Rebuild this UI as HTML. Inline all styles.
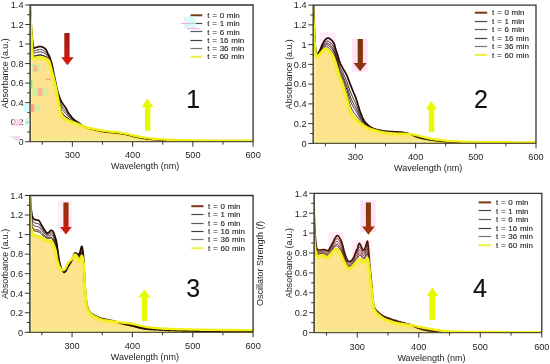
<!DOCTYPE html>
<html><head><meta charset="utf-8"><style>
html,body{margin:0;padding:0;background:#fff;}
svg{display:block;filter:blur(0.3px);}
text{font-family:"Liberation Sans", sans-serif;}
</style></head><body>
<svg width="550" height="364" viewBox="0 0 550 364">
<defs><clipPath id="c0"><rect x="30.20" y="5.00" width="222.90" height="136.70"/></clipPath><clipPath id="f0"><path d="M29.6,-14.5 L29.9,-3.8 L30.2,6.0 L30.5,13.3 L30.8,19.6 L31.1,25.6 L31.4,31.4 L31.7,37.9 L32.0,44.1 L32.3,49.7 L32.6,53.8 L32.9,56.0 L33.2,57.1 L33.5,57.6 L33.8,57.9 L34.1,58.0 L34.4,58.1 L34.7,58.1 L35.0,58.1 L35.3,58.1 L35.6,58.0 L35.9,58.0 L36.2,57.9 L36.5,57.8 L36.8,57.7 L37.1,57.7 L37.4,57.6 L37.7,57.5 L38.0,57.4 L38.3,57.4 L38.6,57.3 L38.9,57.2 L39.2,57.2 L39.5,57.2 L39.8,57.1 L40.1,57.1 L40.4,57.2 L40.7,57.2 L41.0,57.2 L41.3,57.3 L41.6,57.4 L41.9,57.4 L42.2,57.5 L42.5,57.6 L42.9,57.7 L43.2,57.8 L43.5,57.9 L43.8,58.0 L44.1,58.1 L44.4,58.2 L44.7,58.3 L45.0,58.4 L45.3,58.5 L45.6,58.6 L45.9,58.7 L46.2,58.8 L46.5,58.9 L46.8,59.0 L47.1,59.2 L47.4,59.3 L47.7,59.5 L48.0,59.7 L48.3,59.9 L48.6,60.1 L48.9,60.6 L49.2,61.2 L49.5,61.9 L49.8,62.8 L50.1,63.8 L50.4,64.8 L50.7,66.0 L51.0,67.2 L51.3,68.4 L51.6,69.6 L51.9,70.8 L52.2,72.0 L52.5,73.2 L52.8,74.3 L53.1,75.4 L53.4,76.6 L53.7,77.7 L54.0,78.9 L54.3,80.2 L54.6,81.4 L54.9,82.7 L55.2,84.0 L55.5,85.3 L55.8,86.7 L56.1,88.1 L56.4,89.5 L56.7,91.1 L57.0,92.6 L57.3,94.2 L57.6,95.9 L57.9,97.5 L58.2,99.1 L58.5,100.7 L58.8,102.4 L59.1,104.0 L59.4,105.6 L59.7,107.2 L60.0,108.7 L60.3,110.2 L60.6,111.4 L60.9,112.5 L61.2,113.4 L61.5,114.3 L61.8,115.0 L62.1,115.5 L62.4,116.0 L62.7,116.5 L63.0,116.8 L63.3,117.2 L63.6,117.5 L63.9,117.8 L64.2,118.0 L64.5,118.3 L64.8,118.5 L65.1,118.8 L65.4,119.0 L65.7,119.1 L66.0,119.3 L66.3,119.5 L66.6,119.6 L66.9,119.8 L67.2,119.9 L67.6,120.1 L67.9,120.2 L68.2,120.3 L68.5,120.4 L68.8,120.6 L69.1,120.7 L69.4,120.8 L69.7,120.9 L70.0,121.0 L70.3,121.1 L70.6,121.3 L70.9,121.4 L71.2,121.5 L71.5,121.6 L71.8,121.7 L72.1,121.8 L72.4,121.9 L72.7,122.1 L73.0,122.2 L73.3,122.3 L73.6,122.4 L73.9,122.5 L74.2,122.6 L74.5,122.7 L74.8,122.8 L75.1,122.9 L75.4,123.0 L75.7,123.1 L76.0,123.2 L76.3,123.4 L76.6,123.5 L76.9,123.6 L77.2,123.7 L77.5,123.8 L77.8,123.9 L78.1,124.1 L78.4,124.2 L78.7,124.3 L79.0,124.4 L79.3,124.6 L79.6,124.7 L79.9,124.9 L80.2,125.0 L80.5,125.1 L80.8,125.3 L81.1,125.4 L81.4,125.5 L81.7,125.7 L82.0,125.8 L82.3,125.9 L82.6,126.0 L82.9,126.2 L83.2,126.3 L83.5,126.4 L83.8,126.5 L84.1,126.6 L84.4,126.7 L84.7,126.8 L85.0,126.9 L85.3,127.0 L85.6,127.1 L85.9,127.2 L86.2,127.3 L86.5,127.3 L86.8,127.4 L87.1,127.5 L87.4,127.6 L87.7,127.7 L88.0,127.8 L88.3,127.8 L88.6,127.9 L88.9,128.0 L89.2,128.0 L89.5,128.1 L89.8,128.2 L90.1,128.2 L90.4,128.3 L90.7,128.4 L91.0,128.4 L91.3,128.5 L91.6,128.6 L91.9,128.6 L92.3,128.7 L92.6,128.7 L92.9,128.8 L93.2,128.9 L93.5,128.9 L93.8,129.0 L94.1,129.0 L94.4,129.1 L94.7,129.1 L95.0,129.2 L95.3,129.3 L95.6,129.3 L95.9,129.4 L96.2,129.4 L96.5,129.5 L97.7,129.7 L98.9,130.0 L100.1,130.2 L101.3,130.4 L102.5,130.6 L103.7,130.8 L104.9,130.9 L106.1,131.1 L107.3,131.2 L108.5,131.3 L109.7,131.5 L110.9,131.6 L112.1,131.7 L113.3,131.8 L114.5,131.9 L115.7,132.0 L117.0,132.1 L118.2,132.3 L119.4,132.5 L120.6,132.7 L121.8,132.9 L123.0,133.1 L124.2,133.3 L125.4,133.6 L126.6,133.9 L127.8,134.2 L129.0,134.4 L130.2,134.7 L131.4,135.0 L132.6,135.3 L133.8,135.5 L135.0,135.8 L136.2,136.0 L137.4,136.3 L138.6,136.5 L139.8,136.7 L141.0,137.0 L142.3,137.2 L143.5,137.4 L144.7,137.6 L145.9,137.8 L147.1,137.9 L148.3,138.1 L149.5,138.2 L150.7,138.4 L151.9,138.5 L153.1,138.7 L154.3,138.8 L155.5,138.9 L156.7,139.0 L157.9,139.1 L159.1,139.2 L160.3,139.3 L161.5,139.4 L162.7,139.4 L163.9,139.5 L165.1,139.6 L166.3,139.6 L167.6,139.7 L168.8,139.7 L170.0,139.8 L171.2,139.8 L172.4,139.9 L173.6,139.9 L174.8,140.0 L176.0,140.0 L177.2,140.1 L178.4,140.1 L179.6,140.1 L180.8,140.2 L182.0,140.2 L183.2,140.2 L184.4,140.2 L185.6,140.3 L186.8,140.3 L188.0,140.3 L189.2,140.3 L190.4,140.4 L191.7,140.4 L192.9,140.4 L194.1,140.4 L195.3,140.4 L196.5,140.4 L197.7,140.5 L198.9,140.5 L200.1,140.5 L201.3,140.5 L202.5,140.5 L203.7,140.5 L204.9,140.5 L206.1,140.5 L207.3,140.5 L208.5,140.6 L209.7,140.6 L210.9,140.6 L212.1,140.6 L213.3,140.6 L214.5,140.6 L215.7,140.6 L217.0,140.6 L218.2,140.6 L219.4,140.6 L220.6,140.6 L221.8,140.6 L223.0,140.6 L224.2,140.6 L225.4,140.6 L226.6,140.6 L227.8,140.6 L229.0,140.6 L230.2,140.6 L231.4,140.7 L232.6,140.7 L233.8,140.7 L235.0,140.7 L236.2,140.7 L237.4,140.7 L238.6,140.7 L239.8,140.7 L241.1,140.7 L242.3,140.7 L243.5,140.7 L244.7,140.7 L245.9,140.7 L247.1,140.7 L248.3,140.7 L249.5,140.7 L250.7,140.7 L251.9,140.7 L253.1,140.7 L253.10,141.70 L30.20,141.70 Z"/></clipPath><linearGradient id="ga0" x1="0" y1="0" x2="0" y2="1"><stop offset="0" stop-color="#a01c10"/><stop offset="1" stop-color="#d81810"/></linearGradient><clipPath id="c1"><rect x="313.30" y="5.10" width="222.70" height="138.30"/></clipPath><clipPath id="f1"><path d="M312.7,-4.8 L313.0,5.6 L313.3,15.0 L313.6,21.9 L313.9,27.8 L314.2,33.5 L314.5,38.7 L314.8,43.6 L315.1,47.6 L315.4,50.4 L315.7,52.7 L316.0,54.0 L316.3,54.7 L316.6,55.3 L316.9,55.7 L317.2,55.9 L317.5,56.0 L317.8,55.9 L318.1,55.7 L318.4,55.4 L318.7,55.1 L319.0,54.8 L319.3,54.5 L319.6,54.2 L319.9,53.9 L320.2,53.5 L320.5,53.2 L320.8,52.8 L321.1,52.4 L321.4,52.0 L321.7,51.7 L322.0,51.3 L322.3,51.0 L322.6,50.7 L322.9,50.4 L323.2,50.1 L323.5,49.8 L323.8,49.5 L324.1,49.2 L324.4,49.0 L324.7,48.8 L325.0,48.8 L325.3,48.7 L325.6,48.6 L325.9,48.6 L326.2,48.6 L326.5,48.6 L326.8,48.6 L327.1,48.7 L327.4,48.9 L327.7,49.1 L328.0,49.4 L328.3,49.7 L328.6,50.0 L328.9,50.4 L329.3,50.8 L329.6,51.1 L329.9,51.5 L330.2,51.8 L330.5,52.1 L330.8,52.5 L331.1,52.9 L331.4,53.3 L331.7,53.7 L332.0,54.2 L332.3,54.7 L332.6,55.2 L332.9,55.7 L333.2,56.3 L333.5,56.9 L333.8,57.5 L334.1,58.3 L334.4,59.1 L334.7,60.0 L335.0,60.9 L335.3,61.7 L335.6,62.6 L335.9,63.5 L336.2,64.4 L336.5,65.4 L336.8,66.3 L337.1,67.3 L337.4,68.3 L337.7,69.4 L338.0,70.6 L338.3,71.9 L338.6,73.1 L338.9,74.2 L339.2,75.2 L339.5,76.1 L339.8,76.9 L340.1,77.6 L340.4,78.3 L340.7,79.0 L341.0,79.7 L341.3,80.3 L341.6,81.0 L341.9,81.8 L342.2,82.5 L342.5,83.4 L342.8,84.3 L343.1,85.3 L343.4,86.3 L343.7,87.4 L344.0,88.4 L344.3,89.5 L344.6,90.5 L344.9,91.6 L345.2,92.6 L345.5,93.7 L345.8,94.7 L346.1,95.7 L346.4,96.8 L346.7,97.9 L347.0,98.9 L347.3,100.1 L347.6,101.2 L347.9,102.4 L348.2,103.5 L348.5,104.7 L348.8,105.8 L349.1,106.9 L349.4,107.8 L349.7,108.8 L350.0,109.7 L350.3,110.5 L350.6,111.4 L350.9,112.1 L351.2,112.8 L351.5,113.4 L351.8,114.0 L352.1,114.5 L352.4,115.0 L352.7,115.5 L353.0,115.9 L353.3,116.3 L353.6,116.7 L353.9,117.1 L354.2,117.4 L354.5,117.8 L354.8,118.1 L355.1,118.4 L355.4,118.7 L355.7,119.0 L356.0,119.2 L356.3,119.5 L356.6,119.8 L356.9,120.1 L357.2,120.4 L357.5,120.6 L357.8,120.9 L358.1,121.2 L358.4,121.4 L358.7,121.7 L359.0,122.0 L359.3,122.2 L359.6,122.5 L359.9,122.7 L360.2,123.0 L360.5,123.2 L360.8,123.4 L361.2,123.7 L361.5,123.9 L361.8,124.1 L362.1,124.3 L362.4,124.5 L362.7,124.8 L363.0,125.0 L363.3,125.2 L363.6,125.4 L363.9,125.6 L364.2,125.8 L364.5,125.9 L364.8,126.1 L365.1,126.3 L365.4,126.5 L365.7,126.7 L366.0,126.8 L366.3,127.0 L366.6,127.2 L366.9,127.3 L367.2,127.5 L367.5,127.6 L367.8,127.7 L368.1,127.9 L368.4,128.0 L368.7,128.1 L369.0,128.2 L369.3,128.3 L369.6,128.5 L369.9,128.6 L370.2,128.7 L370.5,128.8 L370.8,128.9 L371.1,129.0 L371.4,129.1 L371.7,129.2 L372.0,129.3 L372.3,129.4 L372.6,129.5 L372.9,129.6 L373.2,129.7 L373.5,129.8 L373.8,129.9 L374.1,130.0 L374.4,130.0 L374.7,130.1 L375.0,130.2 L375.3,130.3 L375.6,130.4 L375.9,130.5 L376.2,130.6 L376.5,130.7 L376.8,130.7 L377.1,130.8 L377.4,130.9 L377.7,131.0 L378.0,131.1 L378.3,131.1 L378.6,131.2 L378.9,131.3 L379.2,131.3 L379.5,131.4 L380.7,131.7 L381.9,131.9 L383.1,132.1 L384.3,132.4 L385.5,132.6 L386.7,132.7 L387.9,132.9 L389.1,133.1 L390.3,133.2 L391.5,133.3 L392.7,133.4 L394.0,133.5 L395.2,133.5 L396.4,133.6 L397.6,133.6 L398.8,133.7 L400.0,133.7 L401.2,133.7 L402.4,133.8 L403.6,133.8 L404.8,133.8 L406.0,133.9 L407.2,133.9 L408.4,134.0 L409.6,134.1 L410.8,134.2 L412.0,134.4 L413.2,134.6 L414.4,134.8 L415.6,135.0 L416.8,135.3 L418.0,135.6 L419.2,135.9 L420.4,136.3 L421.6,136.6 L422.8,136.9 L424.0,137.2 L425.3,137.5 L426.5,137.8 L427.7,138.0 L428.9,138.3 L430.1,138.5 L431.3,138.7 L432.5,139.0 L433.7,139.1 L434.9,139.3 L436.1,139.5 L437.3,139.7 L438.5,139.8 L439.7,140.0 L440.9,140.1 L442.1,140.3 L443.3,140.4 L444.5,140.5 L445.7,140.6 L446.9,140.8 L448.1,140.9 L449.3,141.0 L450.5,141.1 L451.7,141.1 L452.9,141.2 L454.1,141.3 L455.3,141.4 L456.6,141.4 L457.8,141.5 L459.0,141.5 L460.2,141.6 L461.4,141.6 L462.6,141.7 L463.8,141.7 L465.0,141.8 L466.2,141.8 L467.4,141.8 L468.6,141.9 L469.8,141.9 L471.0,141.9 L472.2,142.0 L473.4,142.0 L474.6,142.0 L475.8,142.0 L477.0,142.0 L478.2,142.1 L479.4,142.1 L480.6,142.1 L481.8,142.1 L483.0,142.1 L484.2,142.1 L485.4,142.1 L486.6,142.2 L487.8,142.2 L489.1,142.2 L490.3,142.2 L491.5,142.2 L492.7,142.2 L493.9,142.2 L495.1,142.2 L496.3,142.2 L497.5,142.3 L498.7,142.3 L499.9,142.3 L501.1,142.3 L502.3,142.3 L503.5,142.3 L504.7,142.3 L505.9,142.3 L507.1,142.3 L508.3,142.3 L509.5,142.3 L510.7,142.3 L511.9,142.3 L513.1,142.4 L514.3,142.4 L515.5,142.4 L516.7,142.4 L517.9,142.4 L519.1,142.4 L520.4,142.4 L521.6,142.4 L522.8,142.4 L524.0,142.4 L525.2,142.4 L526.4,142.4 L527.6,142.4 L528.8,142.5 L530.0,142.5 L531.2,142.5 L532.4,142.5 L533.6,142.5 L534.8,142.5 L536.0,142.5 L536.00,143.40 L313.30,143.40 Z"/></clipPath><linearGradient id="ga1" x1="0" y1="0" x2="0" y2="1"><stop offset="0" stop-color="#7a3208"/><stop offset="1" stop-color="#8a3a0c"/></linearGradient><clipPath id="c2"><rect x="29.80" y="195.50" width="223.30" height="136.80"/></clipPath><clipPath id="f2"><path d="M29.2,146.6 L29.5,167.3 L29.8,185.7 L30.1,199.4 L30.4,210.2 L30.7,218.9 L31.0,224.8 L31.3,227.9 L31.6,230.1 L31.9,231.5 L32.2,232.3 L32.5,232.9 L32.8,233.5 L33.1,233.9 L33.4,234.3 L33.7,234.6 L34.0,234.8 L34.3,234.9 L34.6,235.1 L34.9,235.2 L35.2,235.3 L35.5,235.3 L35.8,235.4 L36.1,235.5 L36.4,235.6 L36.7,235.6 L37.0,235.7 L37.3,235.7 L37.6,235.8 L37.9,235.8 L38.2,235.9 L38.6,235.9 L38.9,236.0 L39.2,236.1 L39.5,236.2 L39.8,236.4 L40.1,236.6 L40.4,236.7 L40.7,236.9 L41.0,237.1 L41.3,237.3 L41.6,237.5 L41.9,237.7 L42.2,237.9 L42.5,238.1 L42.8,238.3 L43.1,238.5 L43.4,238.7 L43.7,238.8 L44.0,239.0 L44.3,239.2 L44.6,239.3 L44.9,239.4 L45.2,239.5 L45.5,239.6 L45.8,239.7 L46.1,239.8 L46.4,239.9 L46.7,240.0 L47.0,240.1 L47.3,240.2 L47.6,240.2 L47.9,240.3 L48.2,240.4 L48.5,240.4 L48.8,240.5 L49.1,240.5 L49.4,240.6 L49.7,240.6 L50.0,240.7 L50.3,240.8 L50.6,240.9 L50.9,241.0 L51.2,241.2 L51.5,241.5 L51.8,241.7 L52.1,242.1 L52.4,242.4 L52.7,242.8 L53.0,243.4 L53.3,244.0 L53.6,244.6 L53.9,245.3 L54.2,246.1 L54.5,246.8 L54.8,247.7 L55.1,248.6 L55.4,249.7 L55.8,251.1 L56.1,252.9 L56.4,254.8 L56.7,256.6 L57.0,258.2 L57.3,259.6 L57.6,260.8 L57.9,262.0 L58.2,263.1 L58.5,264.0 L58.8,264.9 L59.1,265.7 L59.4,266.4 L59.7,267.1 L60.0,267.7 L60.3,268.2 L60.6,268.6 L60.9,268.9 L61.2,269.2 L61.5,269.4 L61.8,269.7 L62.1,269.9 L62.4,270.0 L62.7,270.1 L63.0,270.2 L63.3,270.1 L63.6,270.0 L63.9,269.9 L64.2,269.7 L64.5,269.5 L64.8,269.3 L65.1,269.0 L65.4,268.5 L65.7,268.0 L66.0,267.4 L66.3,266.7 L66.6,266.1 L66.9,265.4 L67.2,264.8 L67.5,264.2 L67.8,263.7 L68.1,263.3 L68.4,262.8 L68.7,262.4 L69.0,262.0 L69.3,261.6 L69.6,261.2 L69.9,260.9 L70.2,260.6 L70.5,260.3 L70.8,260.1 L71.1,259.8 L71.4,259.5 L71.7,259.2 L72.0,258.9 L72.3,258.4 L72.6,257.8 L73.0,257.2 L73.3,256.6 L73.6,256.0 L73.9,255.4 L74.2,255.0 L74.5,254.6 L74.8,254.4 L75.1,254.4 L75.4,254.6 L75.7,254.8 L76.0,255.0 L76.3,255.4 L76.6,255.7 L76.9,256.1 L77.2,256.6 L77.5,257.3 L77.8,258.2 L78.1,259.1 L78.4,259.8 L78.7,260.4 L79.0,260.6 L79.3,260.4 L79.6,259.9 L79.9,259.3 L80.2,258.6 L80.5,258.0 L80.8,257.4 L81.1,256.8 L81.4,256.2 L81.7,255.8 L82.0,255.9 L82.3,256.5 L82.6,257.4 L82.9,258.5 L83.2,260.0 L83.5,262.2 L83.8,264.9 L84.1,269.6 L84.4,276.0 L84.7,281.7 L85.0,286.9 L85.3,291.3 L85.6,294.7 L85.9,297.6 L86.2,300.1 L86.5,302.3 L86.8,304.3 L87.1,305.9 L87.4,307.3 L87.7,308.4 L88.0,309.3 L88.3,310.1 L88.6,310.7 L88.9,311.3 L89.2,311.8 L89.5,312.3 L89.8,312.7 L90.2,313.0 L90.5,313.4 L90.8,313.7 L91.1,314.0 L91.4,314.3 L91.7,314.5 L92.0,314.8 L92.3,315.0 L92.6,315.2 L92.9,315.5 L93.2,315.6 L93.5,315.8 L93.8,316.0 L94.1,316.2 L94.4,316.3 L94.7,316.5 L95.0,316.6 L95.3,316.7 L95.6,316.9 L95.9,317.0 L96.2,317.2 L97.4,317.7 L98.6,318.3 L99.8,318.9 L101.0,319.3 L102.2,319.7 L103.4,320.0 L104.6,320.2 L105.8,320.4 L107.0,320.5 L108.3,320.7 L109.5,320.9 L110.7,321.0 L111.9,321.2 L113.1,321.4 L114.3,321.5 L115.5,321.7 L116.7,321.8 L117.9,322.0 L119.1,322.2 L120.3,322.3 L121.5,322.5 L122.7,322.6 L123.9,322.7 L125.2,322.8 L126.4,323.0 L127.6,323.1 L128.8,323.2 L130.0,323.3 L131.2,323.5 L132.4,323.7 L133.6,324.0 L134.8,324.3 L136.0,324.6 L137.2,324.9 L138.4,325.2 L139.6,325.5 L140.8,325.8 L142.1,326.1 L143.3,326.4 L144.5,326.6 L145.7,326.8 L146.9,327.0 L148.1,327.2 L149.3,327.3 L150.5,327.5 L151.7,327.6 L152.9,327.7 L154.1,327.9 L155.3,328.0 L156.5,328.1 L157.7,328.2 L159.0,328.3 L160.2,328.4 L161.4,328.5 L162.6,328.6 L163.8,328.7 L165.0,328.7 L166.2,328.8 L167.4,328.8 L168.6,328.9 L169.8,328.9 L171.0,329.0 L172.2,329.0 L173.4,329.1 L174.6,329.1 L175.9,329.1 L177.1,329.2 L178.3,329.2 L179.5,329.2 L180.7,329.3 L181.9,329.3 L183.1,329.3 L184.3,329.4 L185.5,329.4 L186.7,329.4 L187.9,329.4 L189.1,329.5 L190.3,329.5 L191.5,329.5 L192.7,329.5 L194.0,329.6 L195.2,329.6 L196.4,329.6 L197.6,329.6 L198.8,329.6 L200.0,329.7 L201.2,329.7 L202.4,329.7 L203.6,329.7 L204.8,329.8 L206.0,329.8 L207.2,329.8 L208.4,329.8 L209.6,329.8 L210.9,329.9 L212.1,329.9 L213.3,329.9 L214.5,329.9 L215.7,329.9 L216.9,329.9 L218.1,329.9 L219.3,329.9 L220.5,329.9 L221.7,330.0 L222.9,330.0 L224.1,330.0 L225.3,330.0 L226.5,330.0 L227.8,330.0 L229.0,330.0 L230.2,330.0 L231.4,330.0 L232.6,330.0 L233.8,330.0 L235.0,330.0 L236.2,330.0 L237.4,330.1 L238.6,330.1 L239.8,330.1 L241.0,330.1 L242.2,330.1 L243.4,330.1 L244.7,330.1 L245.9,330.1 L247.1,330.1 L248.3,330.1 L249.5,330.1 L250.7,330.1 L251.9,330.1 L253.1,330.2 L253.10,332.30 L29.80,332.30 Z"/></clipPath><linearGradient id="ga2" x1="0" y1="0" x2="0" y2="1"><stop offset="0" stop-color="#8a3010"/><stop offset="1" stop-color="#d01c0c"/></linearGradient><clipPath id="c3"><rect x="314.20" y="193.30" width="227.60" height="139.30"/></clipPath><clipPath id="f3"><path d="M313.6,213.2 L313.9,224.0 L314.2,233.1 L314.5,238.9 L314.8,243.1 L315.1,246.3 L315.4,248.9 L315.7,251.0 L316.0,252.8 L316.4,254.3 L316.7,255.2 L317.0,255.6 L317.3,255.8 L317.6,255.9 L317.9,255.9 L318.2,255.9 L318.5,255.8 L318.8,255.8 L319.1,255.8 L319.4,255.7 L319.7,255.7 L320.0,255.6 L320.4,255.6 L320.7,255.5 L321.0,255.4 L321.3,255.3 L321.6,255.3 L321.9,255.2 L322.2,255.2 L322.5,255.2 L322.8,255.2 L323.1,255.3 L323.4,255.4 L323.7,255.6 L324.0,255.7 L324.3,255.9 L324.7,256.0 L325.0,256.1 L325.3,256.3 L325.6,256.5 L325.9,256.8 L326.2,257.0 L326.5,257.1 L326.8,257.2 L327.1,257.3 L327.4,257.2 L327.7,257.1 L328.0,256.8 L328.3,256.5 L328.7,256.2 L329.0,255.8 L329.3,255.5 L329.6,255.2 L329.9,254.9 L330.2,254.6 L330.5,254.2 L330.8,253.9 L331.1,253.5 L331.4,253.2 L331.7,252.8 L332.0,252.4 L332.3,252.1 L332.7,251.7 L333.0,251.4 L333.3,251.0 L333.6,250.6 L333.9,250.2 L334.2,249.9 L334.5,249.7 L334.8,249.6 L335.1,249.5 L335.4,249.4 L335.7,249.3 L336.0,249.2 L336.3,249.1 L336.7,249.1 L337.0,249.2 L337.3,249.4 L337.6,249.6 L337.9,250.0 L338.2,250.4 L338.5,250.8 L338.8,251.2 L339.1,251.6 L339.4,252.0 L339.7,252.4 L340.0,252.8 L340.3,253.3 L340.7,253.7 L341.0,254.2 L341.3,254.8 L341.6,255.3 L341.9,255.9 L342.2,256.6 L342.5,257.3 L342.8,258.1 L343.1,258.8 L343.4,259.6 L343.7,260.4 L344.0,261.2 L344.3,261.9 L344.6,262.6 L345.0,263.1 L345.3,263.7 L345.6,264.3 L345.9,265.0 L346.2,265.6 L346.5,266.2 L346.8,266.7 L347.1,267.2 L347.4,267.7 L347.7,268.0 L348.0,268.2 L348.3,268.3 L348.6,268.3 L349.0,268.3 L349.3,268.2 L349.6,268.2 L349.9,268.1 L350.2,268.0 L350.5,267.9 L350.8,267.8 L351.1,267.6 L351.4,267.5 L351.7,267.2 L352.0,266.9 L352.3,266.5 L352.6,266.1 L353.0,265.7 L353.3,265.2 L353.6,264.8 L353.9,264.5 L354.2,264.1 L354.5,263.9 L354.8,263.6 L355.1,263.4 L355.4,263.1 L355.7,262.9 L356.0,262.7 L356.3,262.4 L356.6,262.2 L357.0,262.0 L357.3,261.7 L357.6,261.4 L357.9,261.1 L358.2,260.8 L358.5,260.4 L358.8,260.1 L359.1,259.7 L359.4,259.4 L359.7,259.2 L360.0,259.0 L360.3,259.0 L360.6,259.0 L361.0,259.2 L361.3,259.5 L361.6,259.8 L361.9,260.2 L362.2,260.5 L362.5,260.8 L362.8,261.1 L363.1,261.5 L363.4,261.8 L363.7,262.1 L364.0,262.2 L364.3,262.2 L364.6,262.0 L364.9,261.5 L365.3,261.0 L365.6,260.4 L365.9,260.0 L366.2,259.5 L366.5,259.0 L366.8,258.6 L367.1,258.2 L367.4,258.0 L367.7,258.2 L368.0,259.1 L368.3,260.5 L368.6,262.1 L368.9,264.4 L369.3,266.9 L369.6,270.0 L369.9,273.6 L370.2,276.9 L370.5,279.5 L370.8,281.8 L371.1,284.0 L371.4,286.3 L371.7,288.8 L372.0,291.8 L372.3,295.1 L372.6,298.4 L372.9,301.3 L373.3,303.6 L373.6,305.7 L373.9,307.2 L374.2,308.3 L374.5,309.2 L374.8,310.0 L375.1,310.6 L375.4,311.1 L375.7,311.6 L376.0,312.0 L376.3,312.4 L376.6,312.7 L376.9,313.1 L377.3,313.4 L377.6,313.7 L377.9,314.0 L378.2,314.3 L378.5,314.6 L378.8,314.8 L379.1,315.1 L379.4,315.3 L379.7,315.6 L380.0,315.8 L380.3,316.1 L380.6,316.3 L380.9,316.5 L381.2,316.7 L381.6,317.0 L381.9,317.2 L383.1,318.0 L384.3,318.8 L385.6,319.4 L386.8,319.9 L388.0,320.3 L389.2,320.7 L390.5,321.2 L391.7,321.6 L392.9,322.0 L394.2,322.4 L395.4,322.7 L396.6,323.0 L397.9,323.3 L399.1,323.5 L400.3,323.7 L401.5,323.8 L402.8,324.0 L404.0,324.1 L405.2,324.3 L406.5,324.4 L407.7,324.6 L408.9,324.7 L410.2,324.9 L411.4,325.1 L412.6,325.3 L413.9,325.6 L415.1,325.9 L416.3,326.2 L417.5,326.5 L418.8,326.7 L420.0,327.0 L421.2,327.3 L422.5,327.5 L423.7,327.7 L424.9,328.0 L426.2,328.2 L427.4,328.4 L428.6,328.7 L429.8,328.9 L431.1,329.1 L432.3,329.3 L433.5,329.5 L434.8,329.7 L436.0,329.9 L437.2,330.1 L438.5,330.3 L439.7,330.5 L440.9,330.6 L442.1,330.8 L443.4,330.9 L444.6,331.0 L445.8,331.2 L447.1,331.3 L448.3,331.3 L449.5,331.4 L450.8,331.5 L452.0,331.6 L453.2,331.6 L454.5,331.7 L455.7,331.7 L456.9,331.7 L458.1,331.8 L459.4,331.8 L460.6,331.8 L461.8,331.8 L463.1,331.9 L464.3,331.9 L465.5,331.9 L466.8,331.9 L468.0,331.9 L469.2,331.9 L470.4,331.9 L471.7,332.0 L472.9,332.0 L474.1,332.0 L475.4,332.0 L476.6,332.0 L477.8,332.0 L479.1,332.0 L480.3,332.0 L481.5,332.0 L482.7,332.0 L484.0,332.0 L485.2,332.0 L486.4,332.0 L487.7,332.0 L488.9,332.0 L490.1,332.0 L491.4,332.0 L492.6,332.0 L493.8,332.0 L495.0,332.0 L496.3,332.0 L497.5,332.0 L498.7,332.0 L500.0,332.0 L501.2,332.1 L502.4,332.1 L503.7,332.1 L504.9,332.1 L506.1,332.1 L507.4,332.1 L508.6,332.1 L509.8,332.1 L511.0,332.1 L512.3,332.1 L513.5,332.1 L514.7,332.1 L516.0,332.1 L517.2,332.1 L518.4,332.1 L519.7,332.1 L520.9,332.1 L522.1,332.1 L523.3,332.1 L524.6,332.1 L525.8,332.1 L527.0,332.1 L528.3,332.1 L529.5,332.1 L530.7,332.1 L532.0,332.1 L533.2,332.1 L534.4,332.1 L535.6,332.1 L536.9,332.1 L538.1,332.1 L539.3,332.1 L540.6,332.1 L541.8,332.1 L541.80,332.60 L314.20,332.60 Z"/></clipPath><linearGradient id="ga3" x1="0" y1="0" x2="0" y2="1"><stop offset="0" stop-color="#7a3a0a"/><stop offset="1" stop-color="#a83010"/></linearGradient></defs>
<rect width="550" height="364" fill="#fff"/>
<g clip-path="url(#c0)">
<path d="M29.6,-14.5 L29.9,-3.8 L30.2,6.0 L30.5,13.3 L30.8,19.6 L31.1,25.6 L31.4,31.4 L31.7,37.9 L32.0,44.1 L32.3,49.7 L32.6,53.8 L32.9,56.0 L33.2,57.1 L33.5,57.6 L33.8,57.9 L34.1,58.0 L34.4,58.1 L34.7,58.1 L35.0,58.1 L35.3,58.1 L35.6,58.0 L35.9,58.0 L36.2,57.9 L36.5,57.8 L36.8,57.7 L37.1,57.7 L37.4,57.6 L37.7,57.5 L38.0,57.4 L38.3,57.4 L38.6,57.3 L38.9,57.2 L39.2,57.2 L39.5,57.2 L39.8,57.1 L40.1,57.1 L40.4,57.2 L40.7,57.2 L41.0,57.2 L41.3,57.3 L41.6,57.4 L41.9,57.4 L42.2,57.5 L42.5,57.6 L42.9,57.7 L43.2,57.8 L43.5,57.9 L43.8,58.0 L44.1,58.1 L44.4,58.2 L44.7,58.3 L45.0,58.4 L45.3,58.5 L45.6,58.6 L45.9,58.7 L46.2,58.8 L46.5,58.9 L46.8,59.0 L47.1,59.2 L47.4,59.3 L47.7,59.5 L48.0,59.7 L48.3,59.9 L48.6,60.1 L48.9,60.6 L49.2,61.2 L49.5,61.9 L49.8,62.8 L50.1,63.8 L50.4,64.8 L50.7,66.0 L51.0,67.2 L51.3,68.4 L51.6,69.6 L51.9,70.8 L52.2,72.0 L52.5,73.2 L52.8,74.3 L53.1,75.4 L53.4,76.6 L53.7,77.7 L54.0,78.9 L54.3,80.2 L54.6,81.4 L54.9,82.7 L55.2,84.0 L55.5,85.3 L55.8,86.7 L56.1,88.1 L56.4,89.5 L56.7,91.1 L57.0,92.6 L57.3,94.2 L57.6,95.9 L57.9,97.5 L58.2,99.1 L58.5,100.7 L58.8,102.4 L59.1,104.0 L59.4,105.6 L59.7,107.2 L60.0,108.7 L60.3,110.2 L60.6,111.4 L60.9,112.5 L61.2,113.4 L61.5,114.3 L61.8,115.0 L62.1,115.5 L62.4,116.0 L62.7,116.5 L63.0,116.8 L63.3,117.2 L63.6,117.5 L63.9,117.8 L64.2,118.0 L64.5,118.3 L64.8,118.5 L65.1,118.8 L65.4,119.0 L65.7,119.1 L66.0,119.3 L66.3,119.5 L66.6,119.6 L66.9,119.8 L67.2,119.9 L67.6,120.1 L67.9,120.2 L68.2,120.3 L68.5,120.4 L68.8,120.6 L69.1,120.7 L69.4,120.8 L69.7,120.9 L70.0,121.0 L70.3,121.1 L70.6,121.3 L70.9,121.4 L71.2,121.5 L71.5,121.6 L71.8,121.7 L72.1,121.8 L72.4,121.9 L72.7,122.1 L73.0,122.2 L73.3,122.3 L73.6,122.4 L73.9,122.5 L74.2,122.6 L74.5,122.7 L74.8,122.8 L75.1,122.9 L75.4,123.0 L75.7,123.1 L76.0,123.2 L76.3,123.4 L76.6,123.5 L76.9,123.6 L77.2,123.7 L77.5,123.8 L77.8,123.9 L78.1,124.1 L78.4,124.2 L78.7,124.3 L79.0,124.4 L79.3,124.6 L79.6,124.7 L79.9,124.9 L80.2,125.0 L80.5,125.1 L80.8,125.3 L81.1,125.4 L81.4,125.5 L81.7,125.7 L82.0,125.8 L82.3,125.9 L82.6,126.0 L82.9,126.2 L83.2,126.3 L83.5,126.4 L83.8,126.5 L84.1,126.6 L84.4,126.7 L84.7,126.8 L85.0,126.9 L85.3,127.0 L85.6,127.1 L85.9,127.2 L86.2,127.3 L86.5,127.3 L86.8,127.4 L87.1,127.5 L87.4,127.6 L87.7,127.7 L88.0,127.8 L88.3,127.8 L88.6,127.9 L88.9,128.0 L89.2,128.0 L89.5,128.1 L89.8,128.2 L90.1,128.2 L90.4,128.3 L90.7,128.4 L91.0,128.4 L91.3,128.5 L91.6,128.6 L91.9,128.6 L92.3,128.7 L92.6,128.7 L92.9,128.8 L93.2,128.9 L93.5,128.9 L93.8,129.0 L94.1,129.0 L94.4,129.1 L94.7,129.1 L95.0,129.2 L95.3,129.3 L95.6,129.3 L95.9,129.4 L96.2,129.4 L96.5,129.5 L97.7,129.7 L98.9,130.0 L100.1,130.2 L101.3,130.4 L102.5,130.6 L103.7,130.8 L104.9,130.9 L106.1,131.1 L107.3,131.2 L108.5,131.3 L109.7,131.5 L110.9,131.6 L112.1,131.7 L113.3,131.8 L114.5,131.9 L115.7,132.0 L117.0,132.1 L118.2,132.3 L119.4,132.5 L120.6,132.7 L121.8,132.9 L123.0,133.1 L124.2,133.3 L125.4,133.6 L126.6,133.9 L127.8,134.2 L129.0,134.4 L130.2,134.7 L131.4,135.0 L132.6,135.3 L133.8,135.5 L135.0,135.8 L136.2,136.0 L137.4,136.3 L138.6,136.5 L139.8,136.7 L141.0,137.0 L142.3,137.2 L143.5,137.4 L144.7,137.6 L145.9,137.8 L147.1,137.9 L148.3,138.1 L149.5,138.2 L150.7,138.4 L151.9,138.5 L153.1,138.7 L154.3,138.8 L155.5,138.9 L156.7,139.0 L157.9,139.1 L159.1,139.2 L160.3,139.3 L161.5,139.4 L162.7,139.4 L163.9,139.5 L165.1,139.6 L166.3,139.6 L167.6,139.7 L168.8,139.7 L170.0,139.8 L171.2,139.8 L172.4,139.9 L173.6,139.9 L174.8,140.0 L176.0,140.0 L177.2,140.1 L178.4,140.1 L179.6,140.1 L180.8,140.2 L182.0,140.2 L183.2,140.2 L184.4,140.2 L185.6,140.3 L186.8,140.3 L188.0,140.3 L189.2,140.3 L190.4,140.4 L191.7,140.4 L192.9,140.4 L194.1,140.4 L195.3,140.4 L196.5,140.4 L197.7,140.5 L198.9,140.5 L200.1,140.5 L201.3,140.5 L202.5,140.5 L203.7,140.5 L204.9,140.5 L206.1,140.5 L207.3,140.5 L208.5,140.6 L209.7,140.6 L210.9,140.6 L212.1,140.6 L213.3,140.6 L214.5,140.6 L215.7,140.6 L217.0,140.6 L218.2,140.6 L219.4,140.6 L220.6,140.6 L221.8,140.6 L223.0,140.6 L224.2,140.6 L225.4,140.6 L226.6,140.6 L227.8,140.6 L229.0,140.6 L230.2,140.6 L231.4,140.7 L232.6,140.7 L233.8,140.7 L235.0,140.7 L236.2,140.7 L237.4,140.7 L238.6,140.7 L239.8,140.7 L241.1,140.7 L242.3,140.7 L243.5,140.7 L244.7,140.7 L245.9,140.7 L247.1,140.7 L248.3,140.7 L249.5,140.7 L250.7,140.7 L251.9,140.7 L253.1,140.7 L253.10,141.70 L30.20,141.70 Z" fill="#fee38f"/>
<g clip-path="url(#f0)">
<rect x="30.20" y="137.70" width="222.90" height="4" fill="#f0ec92" opacity="0.85"/>
<rect x="30.20" y="5.00" width="2.4" height="136.70" fill="#f8f29c" opacity="0.8"/>
</g>
<path d="M29.6,-14.5 L29.9,-3.8 L30.2,6.0 L30.5,13.3 L30.8,19.6 L31.1,25.6 L31.4,31.4 L31.7,37.9 L32.0,44.1 L32.3,49.7 L32.6,53.8 L32.9,56.0 L33.2,57.1 L33.5,57.6 L33.8,57.9 L34.1,58.0 L34.4,58.1 L34.7,58.1 L35.0,58.1 L35.3,58.1 L35.6,58.0 L35.9,58.0 L36.2,57.9 L36.5,57.8 L36.8,57.7 L37.1,57.7 L37.4,57.6 L37.7,57.5 L38.0,57.4 L38.3,57.4 L38.6,57.3 L38.9,57.2 L39.2,57.2 L39.5,57.2 L39.8,57.1 L40.1,57.1 L40.4,57.2 L40.7,57.2 L41.0,57.2 L41.3,57.3 L41.6,57.4 L41.9,57.4 L42.2,57.5 L42.5,57.6 L42.9,57.7 L43.2,57.8 L43.5,57.9 L43.8,58.0 L44.1,58.1 L44.4,58.2 L44.7,58.3 L45.0,58.4 L45.3,58.5 L45.6,58.6 L45.9,58.7 L46.2,58.8 L46.5,58.9 L46.8,59.0 L47.1,59.2 L47.4,59.3 L47.7,59.5 L48.0,59.7 L48.3,59.9 L48.6,60.1 L48.9,60.6 L49.2,61.2 L49.5,61.9 L49.8,62.8 L50.1,63.8 L50.4,64.8 L50.7,66.0 L51.0,67.2 L51.3,68.4 L51.6,69.6 L51.9,70.8 L52.2,72.0 L52.5,73.2 L52.8,74.3 L53.1,75.4 L53.4,76.6 L53.7,77.7 L54.0,78.9 L54.3,80.2 L54.6,81.4 L54.9,82.7 L55.2,84.0 L55.5,85.3 L55.8,86.7 L56.1,88.1 L56.4,89.5 L56.7,91.1 L57.0,92.6 L57.3,94.2 L57.6,95.9 L57.9,97.5 L58.2,99.1 L58.5,100.7 L58.8,102.4 L59.1,104.0 L59.4,105.6 L59.7,107.2 L60.0,108.7 L60.3,110.2 L60.6,111.4 L60.9,112.5 L61.2,113.4 L61.5,114.3 L61.8,115.0 L62.1,115.5 L62.4,116.0 L62.7,116.5 L63.0,116.8 L63.3,117.2 L63.6,117.5 L63.9,117.8 L64.2,118.0 L64.5,118.3 L64.8,118.5 L65.1,118.8 L65.4,119.0 L65.7,119.1 L66.0,119.3 L66.3,119.5 L66.6,119.6 L66.9,119.8 L67.2,119.9 L67.6,120.1 L67.9,120.2 L68.2,120.3 L68.5,120.4 L68.8,120.6 L69.1,120.7 L69.4,120.8 L69.7,120.9 L70.0,121.0 L70.3,121.1 L70.6,121.3 L70.9,121.4 L71.2,121.5 L71.5,121.6 L71.8,121.7 L72.1,121.8 L72.4,121.9 L72.7,122.1 L73.0,122.2 L73.3,122.3 L73.6,122.4 L73.9,122.5 L74.2,122.6 L74.5,122.7 L74.8,122.8 L75.1,122.9 L75.4,123.0 L75.7,123.1 L76.0,123.2 L76.3,123.4 L76.6,123.5 L76.9,123.6 L77.2,123.7 L77.5,123.8 L77.8,123.9 L78.1,124.1 L78.4,124.2 L78.7,124.3 L79.0,124.4 L79.3,124.6 L79.6,124.7 L79.9,124.9 L80.2,125.0 L80.5,125.1 L80.8,125.3 L81.1,125.4 L81.4,125.5 L81.7,125.7 L82.0,125.8 L82.3,125.9 L82.6,126.0 L82.9,126.2 L83.2,126.3 L83.5,126.4 L83.8,126.5 L84.1,126.6 L84.4,126.7 L84.7,126.8 L85.0,126.9 L85.3,127.0 L85.6,127.1 L85.9,127.2 L86.2,127.3 L86.5,127.3 L86.8,127.4 L87.1,127.5 L87.4,127.6 L87.7,127.7 L88.0,127.8 L88.3,127.8 L88.6,127.9 L88.9,128.0 L89.2,128.0 L89.5,128.1 L89.8,128.2 L90.1,128.2 L90.4,128.3 L90.7,128.4 L91.0,128.4 L91.3,128.5 L91.6,128.6 L91.9,128.6 L92.3,128.7 L92.6,128.7 L92.9,128.8 L93.2,128.9 L93.5,128.9 L93.8,129.0 L94.1,129.0 L94.4,129.1 L94.7,129.1 L95.0,129.2 L95.3,129.3 L95.6,129.3 L95.9,129.4 L96.2,129.4 L96.5,129.5 L97.7,129.7 L98.9,130.0 L100.1,130.2 L101.3,130.4 L102.5,130.6 L103.7,130.8 L104.9,130.9 L106.1,131.1 L107.3,131.2 L108.5,131.3 L109.7,131.5 L110.9,131.6 L112.1,131.7 L113.3,131.8 L114.5,131.9 L115.7,132.0 L117.0,132.1 L118.2,132.3 L119.4,132.5 L120.6,132.7 L121.8,132.9 L123.0,133.1 L124.2,133.3 L125.4,133.6 L126.6,133.9 L127.8,134.2 L129.0,134.4 L130.2,134.7 L131.4,135.0 L132.6,135.3 L133.8,135.5 L135.0,135.8 L136.2,136.0 L137.4,136.3 L138.6,136.5 L139.8,136.7 L141.0,137.0 L142.3,137.2 L143.5,137.4 L144.7,137.6 L145.9,137.8 L147.1,137.9 L148.3,138.1 L149.5,138.2 L150.7,138.4 L151.9,138.5 L153.1,138.7 L154.3,138.8 L155.5,138.9 L156.7,139.0 L157.9,139.1 L159.1,139.2 L160.3,139.3 L161.5,139.4 L162.7,139.4 L163.9,139.5 L165.1,139.6 L166.3,139.6 L167.6,139.7 L168.8,139.7 L170.0,139.8 L171.2,139.8 L172.4,139.9 L173.6,139.9 L174.8,140.0 L176.0,140.0 L177.2,140.1 L178.4,140.1 L179.6,140.1 L180.8,140.2 L182.0,140.2 L183.2,140.2 L184.4,140.2 L185.6,140.3 L186.8,140.3 L188.0,140.3 L189.2,140.3 L190.4,140.4 L191.7,140.4 L192.9,140.4 L194.1,140.4 L195.3,140.4 L196.5,140.4 L197.7,140.5 L198.9,140.5 L200.1,140.5 L201.3,140.5 L202.5,140.5 L203.7,140.5 L204.9,140.5 L206.1,140.5 L207.3,140.5 L208.5,140.6 L209.7,140.6 L210.9,140.6 L212.1,140.6 L213.3,140.6 L214.5,140.6 L215.7,140.6 L217.0,140.6 L218.2,140.6 L219.4,140.6 L220.6,140.6 L221.8,140.6 L223.0,140.6 L224.2,140.6 L225.4,140.6 L226.6,140.6 L227.8,140.6 L229.0,140.6 L230.2,140.6 L231.4,140.7 L232.6,140.7 L233.8,140.7 L235.0,140.7 L236.2,140.7 L237.4,140.7 L238.6,140.7 L239.8,140.7 L241.1,140.7 L242.3,140.7 L243.5,140.7 L244.7,140.7 L245.9,140.7 L247.1,140.7 L248.3,140.7 L249.5,140.7 L250.7,140.7 L251.9,140.7 L253.1,140.7" fill="none" stroke="#f4f030" stroke-opacity="0.5" stroke-width="6" stroke-linejoin="round" clip-path="url(#f0)"/>
<path d="M29.6,-15.5 L29.9,-4.5 L30.2,5.4 L30.5,12.7 L30.8,19.1 L31.1,24.9 L31.4,30.6 L31.7,36.6 L32.0,42.3 L32.3,47.4 L32.6,51.3 L32.9,53.6 L33.2,55.0 L33.5,55.6 L33.8,55.9 L34.1,56.0 L34.4,56.1 L34.7,56.1 L35.0,56.1 L35.3,56.0 L35.6,56.0 L35.9,55.9 L36.2,55.8 L36.5,55.7 L36.8,55.6 L37.1,55.6 L37.4,55.5 L37.7,55.4 L38.0,55.3 L38.3,55.3 L38.6,55.2 L38.9,55.1 L39.2,55.1 L39.5,55.0 L39.8,55.0 L40.1,55.0 L40.4,55.0 L40.7,55.1 L41.0,55.1 L41.3,55.2 L41.6,55.2 L41.9,55.3 L42.2,55.4 L42.5,55.5 L42.9,55.6 L43.2,55.7 L43.5,55.9 L43.8,56.0 L44.1,56.1 L44.4,56.2 L44.7,56.3 L45.0,56.4 L45.3,56.5 L45.6,56.7 L45.9,56.8 L46.2,57.0 L46.5,57.2 L46.8,57.4 L47.1,57.7 L47.4,57.9 L47.7,58.2 L48.0,58.5 L48.3,58.8 L48.6,59.1 L48.9,59.5 L49.2,60.1 L49.5,60.8 L49.8,61.7 L50.1,62.7 L50.4,63.7 L50.7,64.8 L51.0,66.0 L51.3,67.1 L51.6,68.3 L51.9,69.5 L52.2,70.6 L52.5,71.9 L52.8,73.1 L53.1,74.3 L53.4,75.6 L53.7,76.8 L54.0,78.1 L54.3,79.3 L54.6,80.6 L54.9,81.8 L55.2,83.2 L55.5,84.6 L55.8,86.0 L56.1,87.4 L56.4,88.9 L56.7,90.4 L57.0,91.9 L57.3,93.4 L57.6,94.9 L57.9,96.4 L58.2,97.9 L58.5,99.4 L58.8,100.9 L59.1,102.4 L59.4,103.8 L59.7,105.2 L60.0,106.6 L60.3,108.0 L60.6,109.1 L60.9,110.0 L61.2,110.9 L61.5,111.7 L61.8,112.4 L62.1,113.0 L62.4,113.4 L62.7,113.9 L63.0,114.3 L63.3,114.6 L63.6,115.0 L63.9,115.3 L64.2,115.6 L64.5,115.9 L64.8,116.1 L65.1,116.4 L65.4,116.6 L65.7,116.9 L66.0,117.1 L66.3,117.3 L66.6,117.6 L66.9,117.8 L67.2,118.1 L67.6,118.3 L67.9,118.5 L68.2,118.7 L68.5,118.9 L68.8,119.1 L69.1,119.3 L69.4,119.5 L69.7,119.7 L70.0,119.8 L70.3,120.0 L70.6,120.2 L70.9,120.3 L71.2,120.5 L71.5,120.7 L71.8,120.8 L72.1,121.0 L72.4,121.2 L72.7,121.3 L73.0,121.5 L73.3,121.6 L73.6,121.8 L73.9,121.9 L74.2,122.0 L74.5,122.2 L74.8,122.3 L75.1,122.4 L75.4,122.6 L75.7,122.7 L76.0,122.8 L76.3,122.9 L76.6,123.1 L76.9,123.2 L77.2,123.3 L77.5,123.4 L77.8,123.6 L78.1,123.7 L78.4,123.9 L78.7,124.0 L79.0,124.2 L79.3,124.3 L79.6,124.5 L79.9,124.6 L80.2,124.8 L80.5,124.9 L80.8,125.1 L81.1,125.3 L81.4,125.4 L81.7,125.6 L82.0,125.7 L82.3,125.8 L82.6,126.0 L82.9,126.1 L83.2,126.2 L83.5,126.4 L83.8,126.5 L84.1,126.6 L84.4,126.7 L84.7,126.8 L85.0,126.9 L85.3,127.0 L85.6,127.1 L85.9,127.2 L86.2,127.3 L86.5,127.4 L86.8,127.5 L87.1,127.6 L87.4,127.6 L87.7,127.7 L88.0,127.8 L88.3,127.9 L88.6,128.0 L88.9,128.0 L89.2,128.1 L89.5,128.2 L89.8,128.3 L90.1,128.3 L90.4,128.4 L90.7,128.5 L91.0,128.5 L91.3,128.6 L91.6,128.7 L91.9,128.7 L92.3,128.8 L92.6,128.8 L92.9,128.9 L93.2,129.0 L93.5,129.0 L93.8,129.1 L94.1,129.2 L94.4,129.2 L94.7,129.3 L95.0,129.3 L95.3,129.4 L95.6,129.5 L95.9,129.5 L96.2,129.6 L96.5,129.6 L97.7,129.9 L98.9,130.1 L100.1,130.4 L101.3,130.6 L102.5,130.8 L103.7,130.9 L104.9,131.1 L106.1,131.3 L107.3,131.4 L108.5,131.5 L109.7,131.6 L110.9,131.7 L112.1,131.8 L113.3,131.9 L114.5,132.0 L115.7,132.1 L117.0,132.3 L118.2,132.4 L119.4,132.6 L120.6,132.8 L121.8,133.0 L123.0,133.2 L124.2,133.5 L125.4,133.7 L126.6,134.0 L127.8,134.3 L129.0,134.6 L130.2,134.9 L131.4,135.2 L132.6,135.4 L133.8,135.7 L135.0,136.0 L136.2,136.2 L137.4,136.5 L138.6,136.7 L139.8,136.9 L141.0,137.2 L142.3,137.4 L143.5,137.6 L144.7,137.8 L145.9,137.9 L147.1,138.1 L148.3,138.3 L149.5,138.4 L150.7,138.5 L151.9,138.7 L153.1,138.8 L154.3,138.9 L155.5,139.0 L156.7,139.2 L157.9,139.2 L159.1,139.3 L160.3,139.4 L161.5,139.5 L162.7,139.6 L163.9,139.6 L165.1,139.7 L166.3,139.8 L167.6,139.8 L168.8,139.9 L170.0,139.9 L171.2,140.0 L172.4,140.0 L173.6,140.1 L174.8,140.1 L176.0,140.1 L177.2,140.2 L178.4,140.2 L179.6,140.2 L180.8,140.3 L182.0,140.3 L183.2,140.3 L184.4,140.4 L185.6,140.4 L186.8,140.4 L188.0,140.4 L189.2,140.4 L190.4,140.5 L191.7,140.5 L192.9,140.5 L194.1,140.5 L195.3,140.5 L196.5,140.6 L197.7,140.6 L198.9,140.6 L200.1,140.6 L201.3,140.6 L202.5,140.6 L203.7,140.6 L204.9,140.6 L206.1,140.7 L207.3,140.7 L208.5,140.7 L209.7,140.7 L210.9,140.7 L212.1,140.7 L213.3,140.7 L214.5,140.7 L215.7,140.7 L217.0,140.7 L218.2,140.7 L219.4,140.7 L220.6,140.7 L221.8,140.7 L223.0,140.7 L224.2,140.7 L225.4,140.7 L226.6,140.8 L227.8,140.8 L229.0,140.8 L230.2,140.8 L231.4,140.8 L232.6,140.8 L233.8,140.8 L235.0,140.8 L236.2,140.8 L237.4,140.8 L238.6,140.8 L239.8,140.8 L241.1,140.8 L242.3,140.8 L243.5,140.8 L244.7,140.8 L245.9,140.8 L247.1,140.8 L248.3,140.8 L249.5,140.8 L250.7,140.8 L251.9,140.8 L253.1,140.8" fill="none" stroke="#320e0c" stroke-width="1.0" stroke-linejoin="round"/>
<path d="M29.6,-15.6 L29.9,-4.6 L30.2,5.3 L30.5,12.7 L30.8,19.0 L31.1,24.9 L31.4,30.5 L31.7,36.5 L32.0,42.1 L32.3,47.2 L32.6,51.0 L32.9,53.4 L33.2,54.8 L33.5,55.4 L33.8,55.7 L34.1,55.8 L34.4,55.9 L34.7,55.9 L35.0,55.9 L35.3,55.8 L35.6,55.7 L35.9,55.7 L36.2,55.6 L36.5,55.5 L36.8,55.4 L37.1,55.3 L37.4,55.3 L37.7,55.2 L38.0,55.1 L38.3,55.0 L38.6,55.0 L38.9,54.9 L39.2,54.9 L39.5,54.8 L39.8,54.8 L40.1,54.8 L40.4,54.8 L40.7,54.8 L41.0,54.9 L41.3,55.0 L41.6,55.0 L41.9,55.1 L42.2,55.2 L42.5,55.3 L42.9,55.4 L43.2,55.5 L43.5,55.7 L43.8,55.8 L44.1,55.9 L44.4,56.0 L44.7,56.1 L45.0,56.2 L45.3,56.3 L45.6,56.5 L45.9,56.6 L46.2,56.8 L46.5,57.0 L46.8,57.3 L47.1,57.5 L47.4,57.8 L47.7,58.1 L48.0,58.4 L48.3,58.6 L48.6,59.0 L48.9,59.4 L49.2,60.0 L49.5,60.7 L49.8,61.6 L50.1,62.6 L50.4,63.6 L50.7,64.7 L51.0,65.8 L51.3,67.0 L51.6,68.2 L51.9,69.3 L52.2,70.5 L52.5,71.7 L52.8,73.0 L53.1,74.2 L53.4,75.5 L53.7,76.7 L54.0,78.0 L54.3,79.2 L54.6,80.5 L54.9,81.8 L55.2,83.1 L55.5,84.5 L55.8,85.9 L56.1,87.3 L56.4,88.8 L56.7,90.3 L57.0,91.8 L57.3,93.3 L57.6,94.8 L57.9,96.3 L58.2,97.8 L58.5,99.3 L58.8,100.7 L59.1,102.2 L59.4,103.7 L59.7,105.0 L60.0,106.4 L60.3,107.7 L60.6,108.8 L60.9,109.8 L61.2,110.7 L61.5,111.5 L61.8,112.1 L62.1,112.7 L62.4,113.2 L62.7,113.6 L63.0,114.0 L63.3,114.4 L63.6,114.7 L63.9,115.0 L64.2,115.3 L64.5,115.6 L64.8,115.9 L65.1,116.1 L65.4,116.4 L65.7,116.6 L66.0,116.9 L66.3,117.1 L66.6,117.4 L66.9,117.6 L67.2,117.9 L67.6,118.1 L67.9,118.4 L68.2,118.6 L68.5,118.8 L68.8,119.0 L69.1,119.2 L69.4,119.4 L69.7,119.5 L70.0,119.7 L70.3,119.9 L70.6,120.1 L70.9,120.2 L71.2,120.4 L71.5,120.6 L71.8,120.8 L72.1,120.9 L72.4,121.1 L72.7,121.2 L73.0,121.4 L73.3,121.5 L73.6,121.7 L73.9,121.8 L74.2,122.0 L74.5,122.1 L74.8,122.3 L75.1,122.4 L75.4,122.5 L75.7,122.6 L76.0,122.8 L76.3,122.9 L76.6,123.0 L76.9,123.1 L77.2,123.3 L77.5,123.4 L77.8,123.5 L78.1,123.7 L78.4,123.8 L78.7,124.0 L79.0,124.1 L79.3,124.3 L79.6,124.5 L79.9,124.6 L80.2,124.8 L80.5,124.9 L80.8,125.1 L81.1,125.2 L81.4,125.4 L81.7,125.5 L82.0,125.7 L82.3,125.8 L82.6,126.0 L82.9,126.1 L83.2,126.2 L83.5,126.3 L83.8,126.5 L84.1,126.6 L84.4,126.7 L84.7,126.8 L85.0,126.9 L85.3,127.0 L85.6,127.1 L85.9,127.2 L86.2,127.3 L86.5,127.4 L86.8,127.5 L87.1,127.6 L87.4,127.7 L87.7,127.7 L88.0,127.8 L88.3,127.9 L88.6,128.0 L88.9,128.0 L89.2,128.1 L89.5,128.2 L89.8,128.3 L90.1,128.3 L90.4,128.4 L90.7,128.5 L91.0,128.5 L91.3,128.6 L91.6,128.7 L91.9,128.7 L92.3,128.8 L92.6,128.9 L92.9,128.9 L93.2,129.0 L93.5,129.0 L93.8,129.1 L94.1,129.2 L94.4,129.2 L94.7,129.3 L95.0,129.3 L95.3,129.4 L95.6,129.5 L95.9,129.5 L96.2,129.6 L96.5,129.6 L97.7,129.9 L98.9,130.1 L100.1,130.4 L101.3,130.6 L102.5,130.8 L103.7,131.0 L104.9,131.1 L106.1,131.3 L107.3,131.4 L108.5,131.5 L109.7,131.7 L110.9,131.8 L112.1,131.9 L113.3,131.9 L114.5,132.0 L115.7,132.2 L117.0,132.3 L118.2,132.5 L119.4,132.6 L120.6,132.8 L121.8,133.0 L123.0,133.2 L124.2,133.5 L125.4,133.7 L126.6,134.0 L127.8,134.3 L129.0,134.6 L130.2,134.9 L131.4,135.2 L132.6,135.4 L133.8,135.7 L135.0,136.0 L136.2,136.2 L137.4,136.5 L138.6,136.7 L139.8,137.0 L141.0,137.2 L142.3,137.4 L143.5,137.6 L144.7,137.8 L145.9,138.0 L147.1,138.1 L148.3,138.3 L149.5,138.4 L150.7,138.6 L151.9,138.7 L153.1,138.8 L154.3,138.9 L155.5,139.1 L156.7,139.2 L157.9,139.3 L159.1,139.4 L160.3,139.4 L161.5,139.5 L162.7,139.6 L163.9,139.6 L165.1,139.7 L166.3,139.8 L167.6,139.8 L168.8,139.9 L170.0,139.9 L171.2,140.0 L172.4,140.0 L173.6,140.1 L174.8,140.1 L176.0,140.2 L177.2,140.2 L178.4,140.2 L179.6,140.3 L180.8,140.3 L182.0,140.3 L183.2,140.3 L184.4,140.4 L185.6,140.4 L186.8,140.4 L188.0,140.4 L189.2,140.5 L190.4,140.5 L191.7,140.5 L192.9,140.5 L194.1,140.5 L195.3,140.6 L196.5,140.6 L197.7,140.6 L198.9,140.6 L200.1,140.6 L201.3,140.6 L202.5,140.6 L203.7,140.6 L204.9,140.7 L206.1,140.7 L207.3,140.7 L208.5,140.7 L209.7,140.7 L210.9,140.7 L212.1,140.7 L213.3,140.7 L214.5,140.7 L215.7,140.7 L217.0,140.7 L218.2,140.7 L219.4,140.7 L220.6,140.7 L221.8,140.7 L223.0,140.8 L224.2,140.8 L225.4,140.8 L226.6,140.8 L227.8,140.8 L229.0,140.8 L230.2,140.8 L231.4,140.8 L232.6,140.8 L233.8,140.8 L235.0,140.8 L236.2,140.8 L237.4,140.8 L238.6,140.8 L239.8,140.8 L241.1,140.8 L242.3,140.8 L243.5,140.8 L244.7,140.8 L245.9,140.8 L247.1,140.8 L248.3,140.8 L249.5,140.8 L250.7,140.8 L251.9,140.8 L253.1,140.9" fill="none" stroke="#2a0a08" stroke-width="1.0" stroke-linejoin="round"/>
<path d="M29.6,-17.0 L29.9,-5.6 L30.2,4.5 L30.5,11.9 L30.8,18.2 L31.1,24.0 L31.4,29.4 L31.7,34.8 L32.0,39.7 L32.3,44.0 L32.6,47.5 L32.9,50.1 L33.2,51.8 L33.5,52.6 L33.8,53.0 L34.1,53.1 L34.4,53.1 L34.7,53.0 L35.0,53.0 L35.3,52.9 L35.6,52.8 L35.9,52.7 L36.2,52.6 L36.5,52.5 L36.8,52.5 L37.1,52.4 L37.4,52.3 L37.7,52.2 L38.0,52.2 L38.3,52.1 L38.6,52.0 L38.9,52.0 L39.2,51.9 L39.5,51.9 L39.8,51.8 L40.1,51.8 L40.4,51.8 L40.7,51.9 L41.0,51.9 L41.3,52.0 L41.6,52.0 L41.9,52.1 L42.2,52.3 L42.5,52.4 L42.9,52.5 L43.2,52.6 L43.5,52.8 L43.8,52.9 L44.1,53.0 L44.4,53.2 L44.7,53.3 L45.0,53.5 L45.3,53.6 L45.6,53.8 L45.9,54.0 L46.2,54.3 L46.5,54.7 L46.8,55.0 L47.1,55.5 L47.4,55.9 L47.7,56.3 L48.0,56.7 L48.3,57.1 L48.6,57.4 L48.9,57.9 L49.2,58.5 L49.5,59.2 L49.8,60.1 L50.1,61.0 L50.4,62.0 L50.7,63.1 L51.0,64.2 L51.3,65.2 L51.6,66.3 L51.9,67.4 L52.2,68.5 L52.5,69.8 L52.8,71.3 L53.1,72.7 L53.4,74.2 L53.7,75.5 L54.0,76.7 L54.3,78.0 L54.6,79.3 L54.9,80.6 L55.2,82.0 L55.5,83.5 L55.8,84.9 L56.1,86.4 L56.4,87.9 L56.7,89.3 L57.0,90.7 L57.3,92.0 L57.6,93.4 L57.9,94.8 L58.2,96.1 L58.5,97.4 L58.8,98.7 L59.1,99.9 L59.4,101.2 L59.7,102.4 L60.0,103.5 L60.3,104.6 L60.6,105.6 L60.9,106.4 L61.2,107.2 L61.5,107.9 L61.8,108.5 L62.1,109.1 L62.4,109.6 L62.7,110.0 L63.0,110.5 L63.3,110.8 L63.6,111.2 L63.9,111.5 L64.2,111.9 L64.5,112.2 L64.8,112.5 L65.1,112.8 L65.4,113.1 L65.7,113.4 L66.0,113.8 L66.3,114.1 L66.6,114.5 L66.9,114.9 L67.2,115.3 L67.6,115.7 L67.9,116.0 L68.2,116.4 L68.5,116.7 L68.8,117.0 L69.1,117.2 L69.4,117.5 L69.7,117.8 L70.0,118.1 L70.3,118.3 L70.6,118.6 L70.9,118.8 L71.2,119.0 L71.5,119.3 L71.8,119.5 L72.1,119.7 L72.4,120.0 L72.7,120.2 L73.0,120.4 L73.3,120.6 L73.6,120.8 L73.9,121.0 L74.2,121.2 L74.5,121.4 L74.8,121.5 L75.1,121.7 L75.4,121.9 L75.7,122.0 L76.0,122.2 L76.3,122.3 L76.6,122.5 L76.9,122.6 L77.2,122.7 L77.5,122.9 L77.8,123.1 L78.1,123.2 L78.4,123.4 L78.7,123.6 L79.0,123.7 L79.3,123.9 L79.6,124.1 L79.9,124.3 L80.2,124.5 L80.5,124.7 L80.8,124.8 L81.1,125.0 L81.4,125.2 L81.7,125.4 L82.0,125.6 L82.3,125.7 L82.6,125.9 L82.9,126.0 L83.2,126.2 L83.5,126.3 L83.8,126.4 L84.1,126.6 L84.4,126.7 L84.7,126.8 L85.0,126.9 L85.3,127.0 L85.6,127.1 L85.9,127.2 L86.2,127.3 L86.5,127.4 L86.8,127.5 L87.1,127.6 L87.4,127.7 L87.7,127.8 L88.0,127.9 L88.3,128.0 L88.6,128.1 L88.9,128.1 L89.2,128.2 L89.5,128.3 L89.8,128.4 L90.1,128.5 L90.4,128.5 L90.7,128.6 L91.0,128.7 L91.3,128.7 L91.6,128.8 L91.9,128.9 L92.3,128.9 L92.6,129.0 L92.9,129.1 L93.2,129.1 L93.5,129.2 L93.8,129.3 L94.1,129.3 L94.4,129.4 L94.7,129.5 L95.0,129.5 L95.3,129.6 L95.6,129.6 L95.9,129.7 L96.2,129.8 L96.5,129.8 L97.7,130.1 L98.9,130.4 L100.1,130.6 L101.3,130.8 L102.5,131.0 L103.7,131.2 L104.9,131.4 L106.1,131.5 L107.3,131.7 L108.5,131.8 L109.7,131.9 L110.9,132.0 L112.1,132.1 L113.3,132.2 L114.5,132.3 L115.7,132.4 L117.0,132.5 L118.2,132.7 L119.4,132.9 L120.6,133.0 L121.8,133.2 L123.0,133.4 L124.2,133.7 L125.4,133.9 L126.6,134.2 L127.8,134.5 L129.0,134.8 L130.2,135.1 L131.4,135.4 L132.6,135.7 L133.8,136.0 L135.0,136.2 L136.2,136.5 L137.4,136.8 L138.6,137.0 L139.8,137.2 L141.0,137.5 L142.3,137.7 L143.5,137.9 L144.7,138.0 L145.9,138.2 L147.1,138.4 L148.3,138.5 L149.5,138.6 L150.7,138.8 L151.9,138.9 L153.1,139.0 L154.3,139.2 L155.5,139.3 L156.7,139.4 L157.9,139.5 L159.1,139.5 L160.3,139.6 L161.5,139.7 L162.7,139.8 L163.9,139.8 L165.1,139.9 L166.3,139.9 L167.6,140.0 L168.8,140.1 L170.0,140.1 L171.2,140.2 L172.4,140.2 L173.6,140.2 L174.8,140.3 L176.0,140.3 L177.2,140.4 L178.4,140.4 L179.6,140.4 L180.8,140.4 L182.0,140.5 L183.2,140.5 L184.4,140.5 L185.6,140.6 L186.8,140.6 L188.0,140.6 L189.2,140.6 L190.4,140.6 L191.7,140.7 L192.9,140.7 L194.1,140.7 L195.3,140.7 L196.5,140.7 L197.7,140.8 L198.9,140.8 L200.1,140.8 L201.3,140.8 L202.5,140.8 L203.7,140.8 L204.9,140.8 L206.1,140.8 L207.3,140.8 L208.5,140.8 L209.7,140.9 L210.9,140.9 L212.1,140.9 L213.3,140.9 L214.5,140.9 L215.7,140.9 L217.0,140.9 L218.2,140.9 L219.4,140.9 L220.6,140.9 L221.8,140.9 L223.0,140.9 L224.2,140.9 L225.4,140.9 L226.6,140.9 L227.8,140.9 L229.0,140.9 L230.2,140.9 L231.4,140.9 L232.6,140.9 L233.8,141.0 L235.0,141.0 L236.2,141.0 L237.4,141.0 L238.6,141.0 L239.8,141.0 L241.1,141.0 L242.3,141.0 L243.5,141.0 L244.7,141.0 L245.9,141.0 L247.1,141.0 L248.3,141.0 L249.5,141.0 L250.7,141.0 L251.9,141.0 L253.1,141.0" fill="none" stroke="#300c0a" stroke-width="1.0" stroke-linejoin="round"/>
<path d="M29.6,-18.0 L29.9,-6.5 L30.2,3.9 L30.5,11.3 L30.8,17.5 L31.1,23.3 L31.4,28.6 L31.7,33.4 L32.0,37.7 L32.3,41.5 L32.6,44.7 L32.9,47.5 L33.2,49.5 L33.5,50.4 L33.8,50.9 L34.1,50.9 L34.4,50.9 L34.7,50.8 L35.0,50.7 L35.3,50.6 L35.6,50.5 L35.9,50.4 L36.2,50.3 L36.5,50.2 L36.8,50.2 L37.1,50.1 L37.4,50.0 L37.7,49.9 L38.0,49.8 L38.3,49.8 L38.6,49.7 L38.9,49.6 L39.2,49.6 L39.5,49.5 L39.8,49.5 L40.1,49.5 L40.4,49.5 L40.7,49.5 L41.0,49.6 L41.3,49.6 L41.6,49.7 L41.9,49.8 L42.2,49.9 L42.5,50.1 L42.9,50.2 L43.2,50.3 L43.5,50.5 L43.8,50.6 L44.1,50.8 L44.4,50.9 L44.7,51.1 L45.0,51.3 L45.3,51.5 L45.6,51.7 L45.9,52.0 L46.2,52.4 L46.5,52.8 L46.8,53.3 L47.1,53.8 L47.4,54.4 L47.7,54.9 L48.0,55.4 L48.3,55.8 L48.6,56.3 L48.9,56.8 L49.2,57.4 L49.5,58.1 L49.8,58.9 L50.1,59.8 L50.4,60.8 L50.7,61.8 L51.0,62.8 L51.3,63.8 L51.6,64.8 L51.9,65.9 L52.2,67.0 L52.5,68.4 L52.8,69.9 L53.1,71.5 L53.4,73.1 L53.7,74.5 L54.0,75.8 L54.3,77.0 L54.6,78.3 L54.9,79.7 L55.2,81.1 L55.5,82.6 L55.8,84.2 L56.1,85.7 L56.4,87.1 L56.7,88.5 L57.0,89.8 L57.3,91.1 L57.6,92.3 L57.9,93.5 L58.2,94.7 L58.5,95.9 L58.8,97.0 L59.1,98.2 L59.4,99.2 L59.7,100.2 L60.0,101.2 L60.3,102.1 L60.6,103.0 L60.9,103.7 L61.2,104.4 L61.5,105.1 L61.8,105.7 L62.1,106.2 L62.4,106.7 L62.7,107.2 L63.0,107.7 L63.3,108.1 L63.6,108.4 L63.9,108.8 L64.2,109.2 L64.5,109.5 L64.8,109.8 L65.1,110.2 L65.4,110.5 L65.7,110.9 L66.0,111.3 L66.3,111.8 L66.6,112.2 L66.9,112.7 L67.2,113.3 L67.6,113.7 L67.9,114.2 L68.2,114.6 L68.5,115.0 L68.8,115.4 L69.1,115.7 L69.4,116.1 L69.7,116.4 L70.0,116.8 L70.3,117.1 L70.6,117.4 L70.9,117.7 L71.2,118.0 L71.5,118.3 L71.8,118.5 L72.1,118.8 L72.4,119.1 L72.7,119.4 L73.0,119.6 L73.3,119.9 L73.6,120.1 L73.9,120.3 L74.2,120.6 L74.5,120.8 L74.8,121.0 L75.1,121.2 L75.4,121.4 L75.7,121.5 L76.0,121.7 L76.3,121.9 L76.6,122.0 L76.9,122.2 L77.2,122.3 L77.5,122.5 L77.8,122.7 L78.1,122.8 L78.4,123.0 L78.7,123.2 L79.0,123.4 L79.3,123.6 L79.6,123.9 L79.9,124.1 L80.2,124.3 L80.5,124.5 L80.8,124.7 L81.1,124.9 L81.4,125.1 L81.7,125.3 L82.0,125.5 L82.3,125.6 L82.6,125.8 L82.9,126.0 L83.2,126.1 L83.5,126.3 L83.8,126.4 L84.1,126.5 L84.4,126.7 L84.7,126.8 L85.0,126.9 L85.3,127.0 L85.6,127.2 L85.9,127.3 L86.2,127.4 L86.5,127.5 L86.8,127.6 L87.1,127.7 L87.4,127.8 L87.7,127.9 L88.0,128.0 L88.3,128.1 L88.6,128.1 L88.9,128.2 L89.2,128.3 L89.5,128.4 L89.8,128.5 L90.1,128.5 L90.4,128.6 L90.7,128.7 L91.0,128.8 L91.3,128.8 L91.6,128.9 L91.9,129.0 L92.3,129.1 L92.6,129.1 L92.9,129.2 L93.2,129.3 L93.5,129.3 L93.8,129.4 L94.1,129.5 L94.4,129.5 L94.7,129.6 L95.0,129.7 L95.3,129.7 L95.6,129.8 L95.9,129.9 L96.2,129.9 L96.5,130.0 L97.7,130.3 L98.9,130.5 L100.1,130.8 L101.3,131.0 L102.5,131.2 L103.7,131.4 L104.9,131.6 L106.1,131.7 L107.3,131.9 L108.5,132.0 L109.7,132.1 L110.9,132.2 L112.1,132.3 L113.3,132.4 L114.5,132.5 L115.7,132.6 L117.0,132.7 L118.2,132.9 L119.4,133.0 L120.6,133.2 L121.8,133.4 L123.0,133.6 L124.2,133.8 L125.4,134.1 L126.6,134.4 L127.8,134.7 L129.0,135.0 L130.2,135.3 L131.4,135.6 L132.6,135.9 L133.8,136.1 L135.0,136.4 L136.2,136.7 L137.4,137.0 L138.6,137.2 L139.8,137.4 L141.0,137.7 L142.3,137.9 L143.5,138.1 L144.7,138.2 L145.9,138.4 L147.1,138.5 L148.3,138.7 L149.5,138.8 L150.7,139.0 L151.9,139.1 L153.1,139.2 L154.3,139.3 L155.5,139.4 L156.7,139.5 L157.9,139.6 L159.1,139.7 L160.3,139.8 L161.5,139.8 L162.7,139.9 L163.9,140.0 L165.1,140.0 L166.3,140.1 L167.6,140.1 L168.8,140.2 L170.0,140.2 L171.2,140.3 L172.4,140.3 L173.6,140.4 L174.8,140.4 L176.0,140.5 L177.2,140.5 L178.4,140.5 L179.6,140.6 L180.8,140.6 L182.0,140.6 L183.2,140.6 L184.4,140.7 L185.6,140.7 L186.8,140.7 L188.0,140.7 L189.2,140.8 L190.4,140.8 L191.7,140.8 L192.9,140.8 L194.1,140.8 L195.3,140.8 L196.5,140.9 L197.7,140.9 L198.9,140.9 L200.1,140.9 L201.3,140.9 L202.5,140.9 L203.7,140.9 L204.9,141.0 L206.1,141.0 L207.3,141.0 L208.5,141.0 L209.7,141.0 L210.9,141.0 L212.1,141.0 L213.3,141.0 L214.5,141.0 L215.7,141.0 L217.0,141.0 L218.2,141.0 L219.4,141.0 L220.6,141.0 L221.8,141.0 L223.0,141.0 L224.2,141.0 L225.4,141.1 L226.6,141.1 L227.8,141.1 L229.0,141.1 L230.2,141.1 L231.4,141.1 L232.6,141.1 L233.8,141.1 L235.0,141.1 L236.2,141.1 L237.4,141.1 L238.6,141.1 L239.8,141.1 L241.1,141.1 L242.3,141.1 L243.5,141.1 L244.7,141.1 L245.9,141.1 L247.1,141.1 L248.3,141.1 L249.5,141.1 L250.7,141.1 L251.9,141.1 L253.1,141.1" fill="none" stroke="#2a0a08" stroke-width="1.0" stroke-linejoin="round"/>
<path d="M29.6,-19.4 L29.9,-7.5 L30.2,3.0 L30.5,10.5 L30.8,16.7 L31.1,22.5 L31.4,27.5 L31.7,31.7 L32.0,35.3 L32.3,38.3 L32.6,41.1 L32.9,44.2 L33.2,46.5 L33.5,47.6 L33.8,48.2 L34.1,48.1 L34.4,48.1 L34.7,48.0 L35.0,47.8 L35.3,47.7 L35.6,47.6 L35.9,47.5 L36.2,47.4 L36.5,47.3 L36.8,47.2 L37.1,47.1 L37.4,47.0 L37.7,47.0 L38.0,46.9 L38.3,46.8 L38.6,46.7 L38.9,46.7 L39.2,46.6 L39.5,46.6 L39.8,46.5 L40.1,46.5 L40.4,46.5 L40.7,46.5 L41.0,46.6 L41.3,46.6 L41.6,46.7 L41.9,46.8 L42.2,47.0 L42.5,47.1 L42.9,47.3 L43.2,47.4 L43.5,47.6 L43.8,47.8 L44.1,47.9 L44.4,48.1 L44.7,48.3 L45.0,48.5 L45.3,48.8 L45.6,49.1 L45.9,49.4 L46.2,49.9 L46.5,50.4 L46.8,51.1 L47.1,51.7 L47.4,52.4 L47.7,53.1 L48.0,53.7 L48.3,54.2 L48.6,54.8 L48.9,55.3 L49.2,55.9 L49.5,56.6 L49.8,57.3 L50.1,58.2 L50.4,59.2 L50.7,60.2 L51.0,61.1 L51.3,62.1 L51.6,63.0 L51.9,63.9 L52.2,65.1 L52.5,66.5 L52.8,68.2 L53.1,70.0 L53.4,71.8 L53.7,73.2 L54.0,74.6 L54.3,75.8 L54.6,77.1 L54.9,78.5 L55.2,80.0 L55.5,81.6 L55.8,83.2 L56.1,84.8 L56.4,86.2 L56.7,87.5 L57.0,88.7 L57.3,89.8 L57.6,91.0 L57.9,92.0 L58.2,93.0 L58.5,94.0 L58.8,95.0 L59.1,95.9 L59.4,96.7 L59.7,97.5 L60.0,98.3 L60.3,99.0 L60.6,99.7 L60.9,100.3 L61.2,100.9 L61.5,101.5 L61.8,102.1 L62.1,102.6 L62.4,103.1 L62.7,103.6 L63.0,104.1 L63.3,104.5 L63.6,104.9 L63.9,105.3 L64.2,105.7 L64.5,106.1 L64.8,106.5 L65.1,106.9 L65.4,107.3 L65.7,107.7 L66.0,108.2 L66.3,108.8 L66.6,109.4 L66.9,110.0 L67.2,110.7 L67.6,111.3 L67.9,111.9 L68.2,112.4 L68.5,112.9 L68.8,113.4 L69.1,113.8 L69.4,114.3 L69.7,114.7 L70.0,115.1 L70.3,115.5 L70.6,115.9 L70.9,116.2 L71.2,116.6 L71.5,117.0 L71.8,117.3 L72.1,117.6 L72.4,118.0 L72.7,118.3 L73.0,118.6 L73.3,118.9 L73.6,119.2 L73.9,119.5 L74.2,119.8 L74.5,120.0 L74.8,120.3 L75.1,120.5 L75.4,120.7 L75.7,120.9 L76.0,121.1 L76.3,121.3 L76.6,121.5 L76.9,121.6 L77.2,121.8 L77.5,122.0 L77.8,122.2 L78.1,122.4 L78.4,122.6 L78.7,122.8 L79.0,123.1 L79.3,123.3 L79.6,123.5 L79.9,123.7 L80.2,124.0 L80.5,124.2 L80.8,124.4 L81.1,124.6 L81.4,124.9 L81.7,125.1 L82.0,125.3 L82.3,125.5 L82.6,125.7 L82.9,125.9 L83.2,126.1 L83.5,126.2 L83.8,126.4 L84.1,126.5 L84.4,126.7 L84.7,126.8 L85.0,126.9 L85.3,127.1 L85.6,127.2 L85.9,127.3 L86.2,127.4 L86.5,127.5 L86.8,127.6 L87.1,127.7 L87.4,127.9 L87.7,128.0 L88.0,128.0 L88.3,128.1 L88.6,128.2 L88.9,128.3 L89.2,128.4 L89.5,128.5 L89.8,128.6 L90.1,128.7 L90.4,128.7 L90.7,128.8 L91.0,128.9 L91.3,129.0 L91.6,129.1 L91.9,129.1 L92.3,129.2 L92.6,129.3 L92.9,129.3 L93.2,129.4 L93.5,129.5 L93.8,129.6 L94.1,129.6 L94.4,129.7 L94.7,129.8 L95.0,129.8 L95.3,129.9 L95.6,130.0 L95.9,130.0 L96.2,130.1 L96.5,130.2 L97.7,130.5 L98.9,130.8 L100.1,131.0 L101.3,131.3 L102.5,131.5 L103.7,131.6 L104.9,131.8 L106.1,132.0 L107.3,132.1 L108.5,132.2 L109.7,132.3 L110.9,132.4 L112.1,132.5 L113.3,132.6 L114.5,132.7 L115.7,132.9 L117.0,133.0 L118.2,133.1 L119.4,133.3 L120.6,133.4 L121.8,133.6 L123.0,133.8 L124.2,134.0 L125.4,134.3 L126.6,134.6 L127.8,134.9 L129.0,135.2 L130.2,135.5 L131.4,135.8 L132.6,136.1 L133.8,136.4 L135.0,136.7 L136.2,137.0 L137.4,137.2 L138.6,137.5 L139.8,137.7 L141.0,137.9 L142.3,138.1 L143.5,138.3 L144.7,138.5 L145.9,138.6 L147.1,138.8 L148.3,138.9 L149.5,139.0 L150.7,139.2 L151.9,139.3 L153.1,139.4 L154.3,139.5 L155.5,139.6 L156.7,139.7 L157.9,139.8 L159.1,139.9 L160.3,140.0 L161.5,140.0 L162.7,140.1 L163.9,140.1 L165.1,140.2 L166.3,140.3 L167.6,140.3 L168.8,140.4 L170.0,140.4 L171.2,140.5 L172.4,140.5 L173.6,140.5 L174.8,140.6 L176.0,140.6 L177.2,140.7 L178.4,140.7 L179.6,140.7 L180.8,140.7 L182.0,140.8 L183.2,140.8 L184.4,140.8 L185.6,140.8 L186.8,140.9 L188.0,140.9 L189.2,140.9 L190.4,140.9 L191.7,141.0 L192.9,141.0 L194.1,141.0 L195.3,141.0 L196.5,141.0 L197.7,141.0 L198.9,141.1 L200.1,141.1 L201.3,141.1 L202.5,141.1 L203.7,141.1 L204.9,141.1 L206.1,141.1 L207.3,141.1 L208.5,141.1 L209.7,141.1 L210.9,141.2 L212.1,141.2 L213.3,141.2 L214.5,141.2 L215.7,141.2 L217.0,141.2 L218.2,141.2 L219.4,141.2 L220.6,141.2 L221.8,141.2 L223.0,141.2 L224.2,141.2 L225.4,141.2 L226.6,141.2 L227.8,141.2 L229.0,141.2 L230.2,141.2 L231.4,141.2 L232.6,141.2 L233.8,141.2 L235.0,141.2 L236.2,141.3 L237.4,141.3 L238.6,141.3 L239.8,141.3 L241.1,141.3 L242.3,141.3 L243.5,141.3 L244.7,141.3 L245.9,141.3 L247.1,141.3 L248.3,141.3 L249.5,141.3 L250.7,141.3 L251.9,141.3 L253.1,141.3" fill="none" stroke="#240a02" stroke-width="1.7" stroke-linejoin="round"/>
<path d="M29.6,-14.5 L29.9,-3.8 L30.2,6.0 L30.5,13.3 L30.8,19.6 L31.1,25.6 L31.4,31.4 L31.7,37.9 L32.0,44.1 L32.3,49.7 L32.6,53.8 L32.9,56.0 L33.2,57.1 L33.5,57.6 L33.8,57.9 L34.1,58.0 L34.4,58.1 L34.7,58.1 L35.0,58.1 L35.3,58.1 L35.6,58.0 L35.9,58.0 L36.2,57.9 L36.5,57.8 L36.8,57.7 L37.1,57.7 L37.4,57.6 L37.7,57.5 L38.0,57.4 L38.3,57.4 L38.6,57.3 L38.9,57.2 L39.2,57.2 L39.5,57.2 L39.8,57.1 L40.1,57.1 L40.4,57.2 L40.7,57.2 L41.0,57.2 L41.3,57.3 L41.6,57.4 L41.9,57.4 L42.2,57.5 L42.5,57.6 L42.9,57.7 L43.2,57.8 L43.5,57.9 L43.8,58.0 L44.1,58.1 L44.4,58.2 L44.7,58.3 L45.0,58.4 L45.3,58.5 L45.6,58.6 L45.9,58.7 L46.2,58.8 L46.5,58.9 L46.8,59.0 L47.1,59.2 L47.4,59.3 L47.7,59.5 L48.0,59.7 L48.3,59.9 L48.6,60.1 L48.9,60.6 L49.2,61.2 L49.5,61.9 L49.8,62.8 L50.1,63.8 L50.4,64.8 L50.7,66.0 L51.0,67.2 L51.3,68.4 L51.6,69.6 L51.9,70.8 L52.2,72.0 L52.5,73.2 L52.8,74.3 L53.1,75.4 L53.4,76.6 L53.7,77.7 L54.0,78.9 L54.3,80.2 L54.6,81.4 L54.9,82.7 L55.2,84.0 L55.5,85.3 L55.8,86.7 L56.1,88.1 L56.4,89.5 L56.7,91.1 L57.0,92.6 L57.3,94.2 L57.6,95.9 L57.9,97.5 L58.2,99.1 L58.5,100.7 L58.8,102.4 L59.1,104.0 L59.4,105.6 L59.7,107.2 L60.0,108.7 L60.3,110.2 L60.6,111.4 L60.9,112.5 L61.2,113.4 L61.5,114.3 L61.8,115.0 L62.1,115.5 L62.4,116.0 L62.7,116.5 L63.0,116.8 L63.3,117.2 L63.6,117.5 L63.9,117.8 L64.2,118.0 L64.5,118.3 L64.8,118.5 L65.1,118.8 L65.4,119.0 L65.7,119.1 L66.0,119.3 L66.3,119.5 L66.6,119.6 L66.9,119.8 L67.2,119.9 L67.6,120.1 L67.9,120.2 L68.2,120.3 L68.5,120.4 L68.8,120.6 L69.1,120.7 L69.4,120.8 L69.7,120.9 L70.0,121.0 L70.3,121.1 L70.6,121.3 L70.9,121.4 L71.2,121.5 L71.5,121.6 L71.8,121.7 L72.1,121.8 L72.4,121.9 L72.7,122.1 L73.0,122.2 L73.3,122.3 L73.6,122.4 L73.9,122.5 L74.2,122.6 L74.5,122.7 L74.8,122.8 L75.1,122.9 L75.4,123.0 L75.7,123.1 L76.0,123.2 L76.3,123.4 L76.6,123.5 L76.9,123.6 L77.2,123.7 L77.5,123.8 L77.8,123.9 L78.1,124.1 L78.4,124.2 L78.7,124.3 L79.0,124.4 L79.3,124.6 L79.6,124.7 L79.9,124.9 L80.2,125.0 L80.5,125.1 L80.8,125.3 L81.1,125.4 L81.4,125.5 L81.7,125.7 L82.0,125.8 L82.3,125.9 L82.6,126.0 L82.9,126.2 L83.2,126.3 L83.5,126.4 L83.8,126.5 L84.1,126.6 L84.4,126.7 L84.7,126.8 L85.0,126.9 L85.3,127.0 L85.6,127.1 L85.9,127.2 L86.2,127.3 L86.5,127.3 L86.8,127.4 L87.1,127.5 L87.4,127.6 L87.7,127.7 L88.0,127.8 L88.3,127.8 L88.6,127.9 L88.9,128.0 L89.2,128.0 L89.5,128.1 L89.8,128.2 L90.1,128.2 L90.4,128.3 L90.7,128.4 L91.0,128.4 L91.3,128.5 L91.6,128.6 L91.9,128.6 L92.3,128.7 L92.6,128.7 L92.9,128.8 L93.2,128.9 L93.5,128.9 L93.8,129.0 L94.1,129.0 L94.4,129.1 L94.7,129.1 L95.0,129.2 L95.3,129.3 L95.6,129.3 L95.9,129.4 L96.2,129.4 L96.5,129.5 L97.7,129.7 L98.9,130.0 L100.1,130.2 L101.3,130.4 L102.5,130.6 L103.7,130.8 L104.9,130.9 L106.1,131.1 L107.3,131.2 L108.5,131.3 L109.7,131.5 L110.9,131.6 L112.1,131.7 L113.3,131.8 L114.5,131.9 L115.7,132.0 L117.0,132.1 L118.2,132.3 L119.4,132.5 L120.6,132.7 L121.8,132.9 L123.0,133.1 L124.2,133.3 L125.4,133.6 L126.6,133.9 L127.8,134.2 L129.0,134.4 L130.2,134.7 L131.4,135.0 L132.6,135.3 L133.8,135.5 L135.0,135.8 L136.2,136.0 L137.4,136.3 L138.6,136.5 L139.8,136.7 L141.0,137.0 L142.3,137.2 L143.5,137.4 L144.7,137.6 L145.9,137.8 L147.1,137.9 L148.3,138.1 L149.5,138.2 L150.7,138.4 L151.9,138.5 L153.1,138.7 L154.3,138.8 L155.5,138.9 L156.7,139.0 L157.9,139.1 L159.1,139.2 L160.3,139.3 L161.5,139.4 L162.7,139.4 L163.9,139.5 L165.1,139.6 L166.3,139.6 L167.6,139.7 L168.8,139.7 L170.0,139.8 L171.2,139.8 L172.4,139.9 L173.6,139.9 L174.8,140.0 L176.0,140.0 L177.2,140.1 L178.4,140.1 L179.6,140.1 L180.8,140.2 L182.0,140.2 L183.2,140.2 L184.4,140.2 L185.6,140.3 L186.8,140.3 L188.0,140.3 L189.2,140.3 L190.4,140.4 L191.7,140.4 L192.9,140.4 L194.1,140.4 L195.3,140.4 L196.5,140.4 L197.7,140.5 L198.9,140.5 L200.1,140.5 L201.3,140.5 L202.5,140.5 L203.7,140.5 L204.9,140.5 L206.1,140.5 L207.3,140.5 L208.5,140.6 L209.7,140.6 L210.9,140.6 L212.1,140.6 L213.3,140.6 L214.5,140.6 L215.7,140.6 L217.0,140.6 L218.2,140.6 L219.4,140.6 L220.6,140.6 L221.8,140.6 L223.0,140.6 L224.2,140.6 L225.4,140.6 L226.6,140.6 L227.8,140.6 L229.0,140.6 L230.2,140.6 L231.4,140.7 L232.6,140.7 L233.8,140.7 L235.0,140.7 L236.2,140.7 L237.4,140.7 L238.6,140.7 L239.8,140.7 L241.1,140.7 L242.3,140.7 L243.5,140.7 L244.7,140.7 L245.9,140.7 L247.1,140.7 L248.3,140.7 L249.5,140.7 L250.7,140.7 L251.9,140.7 L253.1,140.7" fill="none" stroke="#f0f018" stroke-width="2.4" stroke-linejoin="round"/>
</g>
<path d="M30.20,141.70 L30.20,5.00 L253.10,5.00 L253.10,141.70" fill="none" stroke="#333333" stroke-width="1.3"/>
<path d="M30.20,7.00 L30.20,141.70 L253.10,141.70" fill="none" stroke="#5e5438" stroke-width="1.2"/>
<line x1="42.25" y1="141.70" x2="42.25" y2="144.70" stroke="#333333" stroke-width="1"/>
<line x1="72.37" y1="141.70" x2="72.37" y2="146.70" stroke="#333333" stroke-width="1"/>
<text x="72.37" y="157.50" font-size="9.2" text-anchor="middle" fill="#1e1e1e">300</text>
<line x1="102.49" y1="141.70" x2="102.49" y2="144.70" stroke="#333333" stroke-width="1"/>
<line x1="132.61" y1="141.70" x2="132.61" y2="146.70" stroke="#333333" stroke-width="1"/>
<text x="132.61" y="157.50" font-size="9.2" text-anchor="middle" fill="#1e1e1e">400</text>
<line x1="162.74" y1="141.70" x2="162.74" y2="144.70" stroke="#333333" stroke-width="1"/>
<line x1="192.86" y1="141.70" x2="192.86" y2="146.70" stroke="#333333" stroke-width="1"/>
<text x="192.86" y="157.50" font-size="9.2" text-anchor="middle" fill="#1e1e1e">500</text>
<line x1="222.98" y1="141.70" x2="222.98" y2="144.70" stroke="#333333" stroke-width="1"/>
<line x1="253.10" y1="141.70" x2="253.10" y2="146.70" stroke="#333333" stroke-width="1"/>
<text x="253.10" y="157.50" font-size="9.2" text-anchor="middle" fill="#1e1e1e">600</text>
<line x1="25.20" y1="141.70" x2="30.20" y2="141.70" stroke="#333333" stroke-width="1"/>
<text x="23.50" y="145.00" font-size="9.2" text-anchor="end" fill="#1e1e1e">0</text>
<line x1="27.20" y1="131.94" x2="30.20" y2="131.94" stroke="#333333" stroke-width="1"/>
<line x1="25.20" y1="122.17" x2="30.20" y2="122.17" stroke="#333333" stroke-width="1"/>
<text x="23.50" y="125.47" font-size="9.2" text-anchor="end" fill="#1e1e1e">0.2</text>
<line x1="27.20" y1="112.41" x2="30.20" y2="112.41" stroke="#333333" stroke-width="1"/>
<line x1="25.20" y1="102.64" x2="30.20" y2="102.64" stroke="#333333" stroke-width="1"/>
<text x="23.50" y="105.94" font-size="9.2" text-anchor="end" fill="#1e1e1e">0.4</text>
<line x1="27.20" y1="92.88" x2="30.20" y2="92.88" stroke="#333333" stroke-width="1"/>
<line x1="25.20" y1="83.11" x2="30.20" y2="83.11" stroke="#333333" stroke-width="1"/>
<text x="23.50" y="86.41" font-size="9.2" text-anchor="end" fill="#1e1e1e">0.6</text>
<line x1="27.20" y1="73.35" x2="30.20" y2="73.35" stroke="#333333" stroke-width="1"/>
<line x1="25.20" y1="63.59" x2="30.20" y2="63.59" stroke="#333333" stroke-width="1"/>
<text x="23.50" y="66.89" font-size="9.2" text-anchor="end" fill="#1e1e1e">0.8</text>
<line x1="27.20" y1="53.82" x2="30.20" y2="53.82" stroke="#333333" stroke-width="1"/>
<line x1="25.20" y1="44.06" x2="30.20" y2="44.06" stroke="#333333" stroke-width="1"/>
<text x="23.50" y="47.36" font-size="9.2" text-anchor="end" fill="#1e1e1e">1</text>
<line x1="27.20" y1="34.29" x2="30.20" y2="34.29" stroke="#333333" stroke-width="1"/>
<line x1="25.20" y1="24.53" x2="30.20" y2="24.53" stroke="#333333" stroke-width="1"/>
<text x="23.50" y="27.83" font-size="9.2" text-anchor="end" fill="#1e1e1e">1.2</text>
<line x1="27.20" y1="14.76" x2="30.20" y2="14.76" stroke="#333333" stroke-width="1"/>
<line x1="25.20" y1="5.00" x2="30.20" y2="5.00" stroke="#333333" stroke-width="1"/>
<text x="23.50" y="8.30" font-size="9.2" text-anchor="end" fill="#1e1e1e">1.4</text>
<text x="145.15" y="168.80" font-size="9" text-anchor="middle" fill="#222">Wavelength (nm)</text>
<text transform="translate(8.40,73.35) rotate(-90)" font-size="8.8" text-anchor="middle" fill="#222">Absorbance (a.u.)</text>
<line x1="190.5" y1="15.30" x2="202.3" y2="15.30" stroke="#7a3a14" stroke-width="2.0"/>
<text x="207.3" y="17.95" font-size="8" letter-spacing="0" word-spacing="0.5" fill="#1e1e1e" stroke="#1e1e1e" stroke-width="0.12">t = 0 min</text>
<line x1="190.5" y1="23.50" x2="202.3" y2="23.50" stroke="#484848" stroke-width="1.2"/>
<text x="207.3" y="26.25" font-size="8" letter-spacing="0" word-spacing="0.5" fill="#1e1e1e" stroke="#1e1e1e" stroke-width="0.12">t = 1 min</text>
<line x1="190.5" y1="31.50" x2="202.3" y2="31.50" stroke="#56625c" stroke-width="1.2"/>
<text x="207.3" y="34.55" font-size="8" letter-spacing="0" word-spacing="0.5" fill="#1e1e1e" stroke="#1e1e1e" stroke-width="0.12">t = 6 min</text>
<line x1="190.5" y1="40.50" x2="202.3" y2="40.50" stroke="#404040" stroke-width="1.2"/>
<text x="207.3" y="42.85" font-size="8" letter-spacing="0" word-spacing="0.5" fill="#1e1e1e" stroke="#1e1e1e" stroke-width="0.12">t = 16 min</text>
<line x1="190.5" y1="48.50" x2="202.3" y2="48.50" stroke="#767676" stroke-width="1.2"/>
<text x="207.3" y="51.15" font-size="8" letter-spacing="0" word-spacing="0.5" fill="#1e1e1e" stroke="#1e1e1e" stroke-width="0.12">t = 36 min</text>
<line x1="190.5" y1="56.80" x2="202.3" y2="56.80" stroke="#eef040" stroke-width="2.0"/>
<text x="207.3" y="59.45" font-size="8" letter-spacing="0" word-spacing="0.5" fill="#1e1e1e" stroke="#1e1e1e" stroke-width="0.12">t = 60 min</text>
<path d="M64.3,33 L69.6,33 L69.6,57.2 L73.6,57.2 L67.40,65.2 L61.2,57.2 L64.3,57.2 Z" fill="url(#ga0)"/>
<path d="M144.9,130.7 L150.4,130.7 L150.4,107.3 L153.5,107.3 L147.3,98.6 L141.8,107.3 L144.9,107.3 Z" fill="#e6fb00"/>
<rect x="351.9" y="39" width="15.80" height="33.00" fill="#fde4f7"/>
<rect x="319.6" y="32.4" width="16.50" height="17.60" fill="#fdebf9"/>
<g clip-path="url(#c1)">
<path d="M312.7,-4.8 L313.0,5.6 L313.3,15.0 L313.6,21.9 L313.9,27.8 L314.2,33.5 L314.5,38.7 L314.8,43.6 L315.1,47.6 L315.4,50.4 L315.7,52.7 L316.0,54.0 L316.3,54.7 L316.6,55.3 L316.9,55.7 L317.2,55.9 L317.5,56.0 L317.8,55.9 L318.1,55.7 L318.4,55.4 L318.7,55.1 L319.0,54.8 L319.3,54.5 L319.6,54.2 L319.9,53.9 L320.2,53.5 L320.5,53.2 L320.8,52.8 L321.1,52.4 L321.4,52.0 L321.7,51.7 L322.0,51.3 L322.3,51.0 L322.6,50.7 L322.9,50.4 L323.2,50.1 L323.5,49.8 L323.8,49.5 L324.1,49.2 L324.4,49.0 L324.7,48.8 L325.0,48.8 L325.3,48.7 L325.6,48.6 L325.9,48.6 L326.2,48.6 L326.5,48.6 L326.8,48.6 L327.1,48.7 L327.4,48.9 L327.7,49.1 L328.0,49.4 L328.3,49.7 L328.6,50.0 L328.9,50.4 L329.3,50.8 L329.6,51.1 L329.9,51.5 L330.2,51.8 L330.5,52.1 L330.8,52.5 L331.1,52.9 L331.4,53.3 L331.7,53.7 L332.0,54.2 L332.3,54.7 L332.6,55.2 L332.9,55.7 L333.2,56.3 L333.5,56.9 L333.8,57.5 L334.1,58.3 L334.4,59.1 L334.7,60.0 L335.0,60.9 L335.3,61.7 L335.6,62.6 L335.9,63.5 L336.2,64.4 L336.5,65.4 L336.8,66.3 L337.1,67.3 L337.4,68.3 L337.7,69.4 L338.0,70.6 L338.3,71.9 L338.6,73.1 L338.9,74.2 L339.2,75.2 L339.5,76.1 L339.8,76.9 L340.1,77.6 L340.4,78.3 L340.7,79.0 L341.0,79.7 L341.3,80.3 L341.6,81.0 L341.9,81.8 L342.2,82.5 L342.5,83.4 L342.8,84.3 L343.1,85.3 L343.4,86.3 L343.7,87.4 L344.0,88.4 L344.3,89.5 L344.6,90.5 L344.9,91.6 L345.2,92.6 L345.5,93.7 L345.8,94.7 L346.1,95.7 L346.4,96.8 L346.7,97.9 L347.0,98.9 L347.3,100.1 L347.6,101.2 L347.9,102.4 L348.2,103.5 L348.5,104.7 L348.8,105.8 L349.1,106.9 L349.4,107.8 L349.7,108.8 L350.0,109.7 L350.3,110.5 L350.6,111.4 L350.9,112.1 L351.2,112.8 L351.5,113.4 L351.8,114.0 L352.1,114.5 L352.4,115.0 L352.7,115.5 L353.0,115.9 L353.3,116.3 L353.6,116.7 L353.9,117.1 L354.2,117.4 L354.5,117.8 L354.8,118.1 L355.1,118.4 L355.4,118.7 L355.7,119.0 L356.0,119.2 L356.3,119.5 L356.6,119.8 L356.9,120.1 L357.2,120.4 L357.5,120.6 L357.8,120.9 L358.1,121.2 L358.4,121.4 L358.7,121.7 L359.0,122.0 L359.3,122.2 L359.6,122.5 L359.9,122.7 L360.2,123.0 L360.5,123.2 L360.8,123.4 L361.2,123.7 L361.5,123.9 L361.8,124.1 L362.1,124.3 L362.4,124.5 L362.7,124.8 L363.0,125.0 L363.3,125.2 L363.6,125.4 L363.9,125.6 L364.2,125.8 L364.5,125.9 L364.8,126.1 L365.1,126.3 L365.4,126.5 L365.7,126.7 L366.0,126.8 L366.3,127.0 L366.6,127.2 L366.9,127.3 L367.2,127.5 L367.5,127.6 L367.8,127.7 L368.1,127.9 L368.4,128.0 L368.7,128.1 L369.0,128.2 L369.3,128.3 L369.6,128.5 L369.9,128.6 L370.2,128.7 L370.5,128.8 L370.8,128.9 L371.1,129.0 L371.4,129.1 L371.7,129.2 L372.0,129.3 L372.3,129.4 L372.6,129.5 L372.9,129.6 L373.2,129.7 L373.5,129.8 L373.8,129.9 L374.1,130.0 L374.4,130.0 L374.7,130.1 L375.0,130.2 L375.3,130.3 L375.6,130.4 L375.9,130.5 L376.2,130.6 L376.5,130.7 L376.8,130.7 L377.1,130.8 L377.4,130.9 L377.7,131.0 L378.0,131.1 L378.3,131.1 L378.6,131.2 L378.9,131.3 L379.2,131.3 L379.5,131.4 L380.7,131.7 L381.9,131.9 L383.1,132.1 L384.3,132.4 L385.5,132.6 L386.7,132.7 L387.9,132.9 L389.1,133.1 L390.3,133.2 L391.5,133.3 L392.7,133.4 L394.0,133.5 L395.2,133.5 L396.4,133.6 L397.6,133.6 L398.8,133.7 L400.0,133.7 L401.2,133.7 L402.4,133.8 L403.6,133.8 L404.8,133.8 L406.0,133.9 L407.2,133.9 L408.4,134.0 L409.6,134.1 L410.8,134.2 L412.0,134.4 L413.2,134.6 L414.4,134.8 L415.6,135.0 L416.8,135.3 L418.0,135.6 L419.2,135.9 L420.4,136.3 L421.6,136.6 L422.8,136.9 L424.0,137.2 L425.3,137.5 L426.5,137.8 L427.7,138.0 L428.9,138.3 L430.1,138.5 L431.3,138.7 L432.5,139.0 L433.7,139.1 L434.9,139.3 L436.1,139.5 L437.3,139.7 L438.5,139.8 L439.7,140.0 L440.9,140.1 L442.1,140.3 L443.3,140.4 L444.5,140.5 L445.7,140.6 L446.9,140.8 L448.1,140.9 L449.3,141.0 L450.5,141.1 L451.7,141.1 L452.9,141.2 L454.1,141.3 L455.3,141.4 L456.6,141.4 L457.8,141.5 L459.0,141.5 L460.2,141.6 L461.4,141.6 L462.6,141.7 L463.8,141.7 L465.0,141.8 L466.2,141.8 L467.4,141.8 L468.6,141.9 L469.8,141.9 L471.0,141.9 L472.2,142.0 L473.4,142.0 L474.6,142.0 L475.8,142.0 L477.0,142.0 L478.2,142.1 L479.4,142.1 L480.6,142.1 L481.8,142.1 L483.0,142.1 L484.2,142.1 L485.4,142.1 L486.6,142.2 L487.8,142.2 L489.1,142.2 L490.3,142.2 L491.5,142.2 L492.7,142.2 L493.9,142.2 L495.1,142.2 L496.3,142.2 L497.5,142.3 L498.7,142.3 L499.9,142.3 L501.1,142.3 L502.3,142.3 L503.5,142.3 L504.7,142.3 L505.9,142.3 L507.1,142.3 L508.3,142.3 L509.5,142.3 L510.7,142.3 L511.9,142.3 L513.1,142.4 L514.3,142.4 L515.5,142.4 L516.7,142.4 L517.9,142.4 L519.1,142.4 L520.4,142.4 L521.6,142.4 L522.8,142.4 L524.0,142.4 L525.2,142.4 L526.4,142.4 L527.6,142.4 L528.8,142.5 L530.0,142.5 L531.2,142.5 L532.4,142.5 L533.6,142.5 L534.8,142.5 L536.0,142.5 L536.00,143.40 L313.30,143.40 Z" fill="#fee38f"/>
<g clip-path="url(#f1)">
<rect x="313.30" y="139.40" width="222.70" height="4" fill="#f0ec92" opacity="0.85"/>
<rect x="313.30" y="5.10" width="2.4" height="138.30" fill="#f8f29c" opacity="0.8"/>
</g>
<path d="M312.7,-4.8 L313.0,5.6 L313.3,15.0 L313.6,21.9 L313.9,27.8 L314.2,33.5 L314.5,38.7 L314.8,43.6 L315.1,47.6 L315.4,50.4 L315.7,52.7 L316.0,54.0 L316.3,54.7 L316.6,55.3 L316.9,55.7 L317.2,55.9 L317.5,56.0 L317.8,55.9 L318.1,55.7 L318.4,55.4 L318.7,55.1 L319.0,54.8 L319.3,54.5 L319.6,54.2 L319.9,53.9 L320.2,53.5 L320.5,53.2 L320.8,52.8 L321.1,52.4 L321.4,52.0 L321.7,51.7 L322.0,51.3 L322.3,51.0 L322.6,50.7 L322.9,50.4 L323.2,50.1 L323.5,49.8 L323.8,49.5 L324.1,49.2 L324.4,49.0 L324.7,48.8 L325.0,48.8 L325.3,48.7 L325.6,48.6 L325.9,48.6 L326.2,48.6 L326.5,48.6 L326.8,48.6 L327.1,48.7 L327.4,48.9 L327.7,49.1 L328.0,49.4 L328.3,49.7 L328.6,50.0 L328.9,50.4 L329.3,50.8 L329.6,51.1 L329.9,51.5 L330.2,51.8 L330.5,52.1 L330.8,52.5 L331.1,52.9 L331.4,53.3 L331.7,53.7 L332.0,54.2 L332.3,54.7 L332.6,55.2 L332.9,55.7 L333.2,56.3 L333.5,56.9 L333.8,57.5 L334.1,58.3 L334.4,59.1 L334.7,60.0 L335.0,60.9 L335.3,61.7 L335.6,62.6 L335.9,63.5 L336.2,64.4 L336.5,65.4 L336.8,66.3 L337.1,67.3 L337.4,68.3 L337.7,69.4 L338.0,70.6 L338.3,71.9 L338.6,73.1 L338.9,74.2 L339.2,75.2 L339.5,76.1 L339.8,76.9 L340.1,77.6 L340.4,78.3 L340.7,79.0 L341.0,79.7 L341.3,80.3 L341.6,81.0 L341.9,81.8 L342.2,82.5 L342.5,83.4 L342.8,84.3 L343.1,85.3 L343.4,86.3 L343.7,87.4 L344.0,88.4 L344.3,89.5 L344.6,90.5 L344.9,91.6 L345.2,92.6 L345.5,93.7 L345.8,94.7 L346.1,95.7 L346.4,96.8 L346.7,97.9 L347.0,98.9 L347.3,100.1 L347.6,101.2 L347.9,102.4 L348.2,103.5 L348.5,104.7 L348.8,105.8 L349.1,106.9 L349.4,107.8 L349.7,108.8 L350.0,109.7 L350.3,110.5 L350.6,111.4 L350.9,112.1 L351.2,112.8 L351.5,113.4 L351.8,114.0 L352.1,114.5 L352.4,115.0 L352.7,115.5 L353.0,115.9 L353.3,116.3 L353.6,116.7 L353.9,117.1 L354.2,117.4 L354.5,117.8 L354.8,118.1 L355.1,118.4 L355.4,118.7 L355.7,119.0 L356.0,119.2 L356.3,119.5 L356.6,119.8 L356.9,120.1 L357.2,120.4 L357.5,120.6 L357.8,120.9 L358.1,121.2 L358.4,121.4 L358.7,121.7 L359.0,122.0 L359.3,122.2 L359.6,122.5 L359.9,122.7 L360.2,123.0 L360.5,123.2 L360.8,123.4 L361.2,123.7 L361.5,123.9 L361.8,124.1 L362.1,124.3 L362.4,124.5 L362.7,124.8 L363.0,125.0 L363.3,125.2 L363.6,125.4 L363.9,125.6 L364.2,125.8 L364.5,125.9 L364.8,126.1 L365.1,126.3 L365.4,126.5 L365.7,126.7 L366.0,126.8 L366.3,127.0 L366.6,127.2 L366.9,127.3 L367.2,127.5 L367.5,127.6 L367.8,127.7 L368.1,127.9 L368.4,128.0 L368.7,128.1 L369.0,128.2 L369.3,128.3 L369.6,128.5 L369.9,128.6 L370.2,128.7 L370.5,128.8 L370.8,128.9 L371.1,129.0 L371.4,129.1 L371.7,129.2 L372.0,129.3 L372.3,129.4 L372.6,129.5 L372.9,129.6 L373.2,129.7 L373.5,129.8 L373.8,129.9 L374.1,130.0 L374.4,130.0 L374.7,130.1 L375.0,130.2 L375.3,130.3 L375.6,130.4 L375.9,130.5 L376.2,130.6 L376.5,130.7 L376.8,130.7 L377.1,130.8 L377.4,130.9 L377.7,131.0 L378.0,131.1 L378.3,131.1 L378.6,131.2 L378.9,131.3 L379.2,131.3 L379.5,131.4 L380.7,131.7 L381.9,131.9 L383.1,132.1 L384.3,132.4 L385.5,132.6 L386.7,132.7 L387.9,132.9 L389.1,133.1 L390.3,133.2 L391.5,133.3 L392.7,133.4 L394.0,133.5 L395.2,133.5 L396.4,133.6 L397.6,133.6 L398.8,133.7 L400.0,133.7 L401.2,133.7 L402.4,133.8 L403.6,133.8 L404.8,133.8 L406.0,133.9 L407.2,133.9 L408.4,134.0 L409.6,134.1 L410.8,134.2 L412.0,134.4 L413.2,134.6 L414.4,134.8 L415.6,135.0 L416.8,135.3 L418.0,135.6 L419.2,135.9 L420.4,136.3 L421.6,136.6 L422.8,136.9 L424.0,137.2 L425.3,137.5 L426.5,137.8 L427.7,138.0 L428.9,138.3 L430.1,138.5 L431.3,138.7 L432.5,139.0 L433.7,139.1 L434.9,139.3 L436.1,139.5 L437.3,139.7 L438.5,139.8 L439.7,140.0 L440.9,140.1 L442.1,140.3 L443.3,140.4 L444.5,140.5 L445.7,140.6 L446.9,140.8 L448.1,140.9 L449.3,141.0 L450.5,141.1 L451.7,141.1 L452.9,141.2 L454.1,141.3 L455.3,141.4 L456.6,141.4 L457.8,141.5 L459.0,141.5 L460.2,141.6 L461.4,141.6 L462.6,141.7 L463.8,141.7 L465.0,141.8 L466.2,141.8 L467.4,141.8 L468.6,141.9 L469.8,141.9 L471.0,141.9 L472.2,142.0 L473.4,142.0 L474.6,142.0 L475.8,142.0 L477.0,142.0 L478.2,142.1 L479.4,142.1 L480.6,142.1 L481.8,142.1 L483.0,142.1 L484.2,142.1 L485.4,142.1 L486.6,142.2 L487.8,142.2 L489.1,142.2 L490.3,142.2 L491.5,142.2 L492.7,142.2 L493.9,142.2 L495.1,142.2 L496.3,142.2 L497.5,142.3 L498.7,142.3 L499.9,142.3 L501.1,142.3 L502.3,142.3 L503.5,142.3 L504.7,142.3 L505.9,142.3 L507.1,142.3 L508.3,142.3 L509.5,142.3 L510.7,142.3 L511.9,142.3 L513.1,142.4 L514.3,142.4 L515.5,142.4 L516.7,142.4 L517.9,142.4 L519.1,142.4 L520.4,142.4 L521.6,142.4 L522.8,142.4 L524.0,142.4 L525.2,142.4 L526.4,142.4 L527.6,142.4 L528.8,142.5 L530.0,142.5 L531.2,142.5 L532.4,142.5 L533.6,142.5 L534.8,142.5 L536.0,142.5" fill="none" stroke="#f4f030" stroke-opacity="0.5" stroke-width="6" stroke-linejoin="round" clip-path="url(#f1)"/>
<path d="M312.7,-10.4 L313.0,1.0 L313.3,11.2 L313.6,18.7 L313.9,25.5 L314.2,31.9 L314.5,37.5 L314.8,42.7 L315.1,46.8 L315.4,49.8 L315.7,52.1 L316.0,53.4 L316.3,54.2 L316.6,54.9 L316.9,55.4 L317.2,55.6 L317.5,55.7 L317.8,55.6 L318.1,55.3 L318.4,55.0 L318.7,54.6 L319.0,54.3 L319.3,53.9 L319.6,53.6 L319.9,53.2 L320.2,52.8 L320.5,52.3 L320.8,51.9 L321.1,51.5 L321.4,51.0 L321.7,50.6 L322.0,50.2 L322.3,49.8 L322.6,49.5 L322.9,49.1 L323.2,48.7 L323.5,48.3 L323.8,48.0 L324.1,47.7 L324.4,47.4 L324.7,47.2 L325.0,47.1 L325.3,47.0 L325.6,46.9 L325.9,46.8 L326.2,46.7 L326.5,46.7 L326.8,46.7 L327.1,46.7 L327.4,46.9 L327.7,47.0 L328.0,47.3 L328.3,47.5 L328.6,47.8 L328.9,48.1 L329.3,48.4 L329.6,48.8 L329.9,49.1 L330.2,49.4 L330.5,49.7 L330.8,50.1 L331.1,50.4 L331.4,50.8 L331.7,51.2 L332.0,51.6 L332.3,52.1 L332.6,52.5 L332.9,53.1 L333.2,53.6 L333.5,54.2 L333.8,54.8 L334.1,55.6 L334.4,56.4 L334.7,57.2 L335.0,58.1 L335.3,59.1 L335.6,60.0 L335.9,60.9 L336.2,61.8 L336.5,62.7 L336.8,63.7 L337.1,64.6 L337.4,65.6 L337.7,66.7 L338.0,67.9 L338.3,69.1 L338.6,70.3 L338.9,71.4 L339.2,72.4 L339.5,73.3 L339.8,74.1 L340.1,74.9 L340.4,75.5 L340.7,76.2 L341.0,76.8 L341.3,77.5 L341.6,78.2 L341.9,78.8 L342.2,79.6 L342.5,80.4 L342.8,81.2 L343.1,82.1 L343.4,83.1 L343.7,84.0 L344.0,85.0 L344.3,85.9 L344.6,86.9 L344.9,87.8 L345.2,88.7 L345.5,89.7 L345.8,90.6 L346.1,91.6 L346.4,92.6 L346.7,93.6 L347.0,94.6 L347.3,95.6 L347.6,96.7 L347.9,97.8 L348.2,98.9 L348.5,99.9 L348.8,101.0 L349.1,102.0 L349.4,102.9 L349.7,103.9 L350.0,104.7 L350.3,105.6 L350.6,106.4 L350.9,107.1 L351.2,107.8 L351.5,108.4 L351.8,109.0 L352.1,109.6 L352.4,110.2 L352.7,110.7 L353.0,111.2 L353.3,111.7 L353.6,112.1 L353.9,112.6 L354.2,113.0 L354.5,113.4 L354.8,113.8 L355.1,114.2 L355.4,114.5 L355.7,114.9 L356.0,115.3 L356.3,115.7 L356.6,116.1 L356.9,116.5 L357.2,116.9 L357.5,117.3 L357.8,117.7 L358.1,118.1 L358.4,118.5 L358.7,118.9 L359.0,119.3 L359.3,119.7 L359.6,120.1 L359.9,120.5 L360.2,120.8 L360.5,121.2 L360.8,121.5 L361.2,121.9 L361.5,122.2 L361.8,122.5 L362.1,122.9 L362.4,123.2 L362.7,123.5 L363.0,123.7 L363.3,124.0 L363.6,124.3 L363.9,124.6 L364.2,124.8 L364.5,125.1 L364.8,125.3 L365.1,125.5 L365.4,125.7 L365.7,125.9 L366.0,126.1 L366.3,126.3 L366.6,126.5 L366.9,126.7 L367.2,126.8 L367.5,127.0 L367.8,127.2 L368.1,127.3 L368.4,127.5 L368.7,127.6 L369.0,127.8 L369.3,127.9 L369.6,128.1 L369.9,128.2 L370.2,128.3 L370.5,128.5 L370.8,128.6 L371.1,128.7 L371.4,128.8 L371.7,128.9 L372.0,129.0 L372.3,129.1 L372.6,129.2 L372.9,129.3 L373.2,129.4 L373.5,129.5 L373.8,129.6 L374.1,129.7 L374.4,129.8 L374.7,129.9 L375.0,130.0 L375.3,130.1 L375.6,130.2 L375.9,130.3 L376.2,130.3 L376.5,130.4 L376.8,130.5 L377.1,130.6 L377.4,130.7 L377.7,130.8 L378.0,130.8 L378.3,130.9 L378.6,131.0 L378.9,131.0 L379.2,131.1 L379.5,131.2 L380.7,131.4 L381.9,131.7 L383.1,131.9 L384.3,132.1 L385.5,132.3 L386.7,132.5 L387.9,132.6 L389.1,132.8 L390.3,132.9 L391.5,133.0 L392.7,133.1 L394.0,133.2 L395.2,133.2 L396.4,133.3 L397.6,133.3 L398.8,133.4 L400.0,133.4 L401.2,133.4 L402.4,133.5 L403.6,133.5 L404.8,133.6 L406.0,133.7 L407.2,133.8 L408.4,133.9 L409.6,134.1 L410.8,134.2 L412.0,134.4 L413.2,134.7 L414.4,135.0 L415.6,135.3 L416.8,135.6 L418.0,135.9 L419.2,136.2 L420.4,136.6 L421.6,136.9 L422.8,137.2 L424.0,137.5 L425.3,137.8 L426.5,138.0 L427.7,138.3 L428.9,138.5 L430.1,138.8 L431.3,139.0 L432.5,139.2 L433.7,139.4 L434.9,139.6 L436.1,139.7 L437.3,139.9 L438.5,140.1 L439.7,140.2 L440.9,140.4 L442.1,140.5 L443.3,140.6 L444.5,140.7 L445.7,140.8 L446.9,140.9 L448.1,141.0 L449.3,141.1 L450.5,141.2 L451.7,141.3 L452.9,141.4 L454.1,141.5 L455.3,141.5 L456.6,141.6 L457.8,141.6 L459.0,141.7 L460.2,141.7 L461.4,141.8 L462.6,141.8 L463.8,141.9 L465.0,141.9 L466.2,141.9 L467.4,142.0 L468.6,142.0 L469.8,142.0 L471.0,142.1 L472.2,142.1 L473.4,142.1 L474.6,142.1 L475.8,142.1 L477.0,142.2 L478.2,142.2 L479.4,142.2 L480.6,142.2 L481.8,142.2 L483.0,142.2 L484.2,142.2 L485.4,142.3 L486.6,142.3 L487.8,142.3 L489.1,142.3 L490.3,142.3 L491.5,142.3 L492.7,142.3 L493.9,142.3 L495.1,142.3 L496.3,142.4 L497.5,142.4 L498.7,142.4 L499.9,142.4 L501.1,142.4 L502.3,142.4 L503.5,142.4 L504.7,142.4 L505.9,142.4 L507.1,142.4 L508.3,142.4 L509.5,142.4 L510.7,142.5 L511.9,142.5 L513.1,142.5 L514.3,142.5 L515.5,142.5 L516.7,142.5 L517.9,142.5 L519.1,142.5 L520.4,142.5 L521.6,142.5 L522.8,142.5 L524.0,142.5 L525.2,142.5 L526.4,142.5 L527.6,142.5 L528.8,142.6 L530.0,142.6 L531.2,142.6 L532.4,142.6 L533.6,142.6 L534.8,142.6 L536.0,142.6" fill="none" stroke="#320e0c" stroke-width="1.0" stroke-linejoin="round"/>
<path d="M312.7,-16.3 L313.0,-3.9 L313.3,7.3 L313.6,15.3 L313.9,23.0 L314.2,30.1 L314.5,36.3 L314.8,41.7 L315.1,45.9 L315.4,49.1 L315.7,51.4 L316.0,52.8 L316.3,53.7 L316.6,54.5 L316.9,55.0 L317.2,55.3 L317.5,55.4 L317.8,55.2 L318.1,55.0 L318.4,54.6 L318.7,54.2 L319.0,53.7 L319.3,53.3 L319.6,52.9 L319.9,52.5 L320.2,52.0 L320.5,51.5 L320.8,51.0 L321.1,50.4 L321.4,49.9 L321.7,49.4 L322.0,49.0 L322.3,48.5 L322.6,48.1 L322.9,47.7 L323.2,47.3 L323.5,46.9 L323.8,46.5 L324.1,46.1 L324.4,45.8 L324.7,45.5 L325.0,45.3 L325.3,45.2 L325.6,45.0 L325.9,44.9 L326.2,44.8 L326.5,44.7 L326.8,44.6 L327.1,44.7 L327.4,44.7 L327.7,44.8 L328.0,45.0 L328.3,45.2 L328.6,45.4 L328.9,45.7 L329.3,46.0 L329.6,46.3 L329.9,46.5 L330.2,46.8 L330.5,47.1 L330.8,47.5 L331.1,47.8 L331.4,48.1 L331.7,48.5 L332.0,48.9 L332.3,49.3 L332.6,49.8 L332.9,50.3 L333.2,50.8 L333.5,51.4 L333.8,52.0 L334.1,52.7 L334.4,53.5 L334.7,54.3 L335.0,55.3 L335.3,56.2 L335.6,57.2 L335.9,58.1 L336.2,59.0 L336.5,59.9 L336.8,60.9 L337.1,61.8 L337.4,62.8 L337.7,63.9 L338.0,65.0 L338.3,66.2 L338.6,67.3 L338.9,68.4 L339.2,69.5 L339.5,70.4 L339.8,71.2 L340.1,71.9 L340.4,72.6 L340.7,73.2 L341.0,73.9 L341.3,74.5 L341.6,75.1 L341.9,75.8 L342.2,76.5 L342.5,77.2 L342.8,78.0 L343.1,78.8 L343.4,79.6 L343.7,80.5 L344.0,81.3 L344.3,82.2 L344.6,83.0 L344.9,83.8 L345.2,84.7 L345.5,85.5 L345.8,86.4 L346.1,87.2 L346.4,88.1 L346.7,89.0 L347.0,89.9 L347.3,90.9 L347.6,91.9 L347.9,92.9 L348.2,93.9 L348.5,94.9 L348.8,95.9 L349.1,96.9 L349.4,97.8 L349.7,98.7 L350.0,99.5 L350.3,100.3 L350.6,101.1 L350.9,101.9 L351.2,102.6 L351.5,103.2 L351.8,103.9 L352.1,104.5 L352.4,105.1 L352.7,105.7 L353.0,106.2 L353.3,106.8 L353.6,107.3 L353.9,107.8 L354.2,108.3 L354.5,108.8 L354.8,109.2 L355.1,109.7 L355.4,110.2 L355.7,110.6 L356.0,111.1 L356.3,111.6 L356.6,112.1 L356.9,112.7 L357.2,113.2 L357.5,113.8 L357.8,114.3 L358.1,114.9 L358.4,115.4 L358.7,116.0 L359.0,116.5 L359.3,117.1 L359.6,117.6 L359.9,118.1 L360.2,118.6 L360.5,119.1 L360.8,119.5 L361.2,120.0 L361.5,120.4 L361.8,120.9 L362.1,121.3 L362.4,121.7 L362.7,122.1 L363.0,122.5 L363.3,122.8 L363.6,123.2 L363.9,123.5 L364.2,123.8 L364.5,124.1 L364.8,124.4 L365.1,124.7 L365.4,124.9 L365.7,125.1 L366.0,125.4 L366.3,125.6 L366.6,125.8 L366.9,126.0 L367.2,126.2 L367.5,126.4 L367.8,126.6 L368.1,126.8 L368.4,127.0 L368.7,127.1 L369.0,127.3 L369.3,127.5 L369.6,127.6 L369.9,127.8 L370.2,128.0 L370.5,128.1 L370.8,128.2 L371.1,128.4 L371.4,128.5 L371.7,128.6 L372.0,128.7 L372.3,128.8 L372.6,129.0 L372.9,129.1 L373.2,129.2 L373.5,129.3 L373.8,129.4 L374.1,129.5 L374.4,129.6 L374.7,129.7 L375.0,129.8 L375.3,129.8 L375.6,129.9 L375.9,130.0 L376.2,130.1 L376.5,130.2 L376.8,130.3 L377.1,130.4 L377.4,130.4 L377.7,130.5 L378.0,130.6 L378.3,130.7 L378.6,130.7 L378.9,130.8 L379.2,130.9 L379.5,130.9 L380.7,131.2 L381.9,131.4 L383.1,131.6 L384.3,131.8 L385.5,132.0 L386.7,132.2 L387.9,132.3 L389.1,132.5 L390.3,132.6 L391.5,132.7 L392.7,132.8 L394.0,132.8 L395.2,132.9 L396.4,132.9 L397.6,133.0 L398.8,133.0 L400.0,133.1 L401.2,133.1 L402.4,133.2 L403.6,133.3 L404.8,133.4 L406.0,133.5 L407.2,133.7 L408.4,133.8 L409.6,134.0 L410.8,134.3 L412.0,134.5 L413.2,134.8 L414.4,135.2 L415.6,135.6 L416.8,135.9 L418.0,136.2 L419.2,136.6 L420.4,136.9 L421.6,137.2 L422.8,137.6 L424.0,137.8 L425.3,138.1 L426.5,138.3 L427.7,138.6 L428.9,138.8 L430.1,139.0 L431.3,139.2 L432.5,139.4 L433.7,139.6 L434.9,139.8 L436.1,140.0 L437.3,140.1 L438.5,140.3 L439.7,140.4 L440.9,140.6 L442.1,140.7 L443.3,140.8 L444.5,140.9 L445.7,141.0 L446.9,141.1 L448.1,141.2 L449.3,141.3 L450.5,141.4 L451.7,141.5 L452.9,141.6 L454.1,141.6 L455.3,141.7 L456.6,141.8 L457.8,141.8 L459.0,141.9 L460.2,141.9 L461.4,141.9 L462.6,142.0 L463.8,142.0 L465.0,142.1 L466.2,142.1 L467.4,142.1 L468.6,142.1 L469.8,142.2 L471.0,142.2 L472.2,142.2 L473.4,142.2 L474.6,142.3 L475.8,142.3 L477.0,142.3 L478.2,142.3 L479.4,142.3 L480.6,142.3 L481.8,142.4 L483.0,142.4 L484.2,142.4 L485.4,142.4 L486.6,142.4 L487.8,142.4 L489.1,142.4 L490.3,142.4 L491.5,142.4 L492.7,142.5 L493.9,142.5 L495.1,142.5 L496.3,142.5 L497.5,142.5 L498.7,142.5 L499.9,142.5 L501.1,142.5 L502.3,142.5 L503.5,142.5 L504.7,142.5 L505.9,142.5 L507.1,142.5 L508.3,142.6 L509.5,142.6 L510.7,142.6 L511.9,142.6 L513.1,142.6 L514.3,142.6 L515.5,142.6 L516.7,142.6 L517.9,142.6 L519.1,142.6 L520.4,142.6 L521.6,142.6 L522.8,142.6 L524.0,142.6 L525.2,142.6 L526.4,142.6 L527.6,142.7 L528.8,142.7 L530.0,142.7 L531.2,142.7 L532.4,142.7 L533.6,142.7 L534.8,142.7 L536.0,142.7" fill="none" stroke="#2a0a08" stroke-width="1.0" stroke-linejoin="round"/>
<path d="M312.7,-20.8 L313.0,-7.6 L313.3,4.3 L313.6,12.8 L313.9,21.1 L314.2,28.8 L314.5,35.4 L314.8,41.0 L315.1,45.3 L315.4,48.6 L315.7,51.0 L316.0,52.4 L316.3,53.4 L316.6,54.2 L316.9,54.8 L317.2,55.1 L317.5,55.2 L317.8,55.0 L318.1,54.7 L318.4,54.3 L318.7,53.8 L319.0,53.3 L319.3,52.9 L319.6,52.4 L319.9,51.9 L320.2,51.4 L320.5,50.8 L320.8,50.3 L321.1,49.7 L321.4,49.1 L321.7,48.6 L322.0,48.0 L322.3,47.6 L322.6,47.1 L322.9,46.6 L323.2,46.2 L323.5,45.7 L323.8,45.3 L324.1,44.9 L324.4,44.6 L324.7,44.3 L325.0,44.0 L325.3,43.8 L325.6,43.7 L325.9,43.5 L326.2,43.3 L326.5,43.2 L326.8,43.1 L327.1,43.1 L327.4,43.1 L327.7,43.2 L328.0,43.3 L328.3,43.5 L328.6,43.7 L328.9,43.9 L329.3,44.1 L329.6,44.4 L329.9,44.7 L330.2,44.9 L330.5,45.2 L330.8,45.5 L331.1,45.8 L331.4,46.1 L331.7,46.5 L332.0,46.9 L332.3,47.3 L332.6,47.7 L332.9,48.2 L333.2,48.7 L333.5,49.3 L333.8,49.9 L334.1,50.5 L334.4,51.3 L334.7,52.2 L335.0,53.1 L335.3,54.1 L335.6,55.1 L335.9,56.0 L336.2,56.9 L336.5,57.9 L336.8,58.8 L337.1,59.7 L337.4,60.7 L337.7,61.7 L338.0,62.8 L338.3,64.0 L338.6,65.1 L338.9,66.2 L339.2,67.2 L339.5,68.1 L339.8,69.0 L340.1,69.7 L340.4,70.4 L340.7,71.0 L341.0,71.6 L341.3,72.3 L341.6,72.9 L341.9,73.5 L342.2,74.1 L342.5,74.8 L342.8,75.6 L343.1,76.3 L343.4,77.1 L343.7,77.8 L344.0,78.6 L344.3,79.3 L344.6,80.1 L344.9,80.8 L345.2,81.6 L345.5,82.4 L345.8,83.1 L346.1,83.9 L346.4,84.8 L346.7,85.6 L347.0,86.5 L347.3,87.4 L347.6,88.3 L347.9,89.3 L348.2,90.2 L348.5,91.2 L348.8,92.1 L349.1,93.1 L349.4,93.9 L349.7,94.8 L350.0,95.6 L350.3,96.4 L350.6,97.2 L350.9,98.0 L351.2,98.7 L351.5,99.3 L351.8,100.0 L352.1,100.7 L352.4,101.3 L352.7,101.9 L353.0,102.5 L353.3,103.1 L353.6,103.7 L353.9,104.2 L354.2,104.8 L354.5,105.3 L354.8,105.8 L355.1,106.4 L355.4,106.9 L355.7,107.5 L356.0,108.0 L356.3,108.6 L356.6,109.2 L356.9,109.8 L357.2,110.5 L357.5,111.2 L357.8,111.8 L358.1,112.5 L358.4,113.1 L358.7,113.8 L359.0,114.4 L359.3,115.1 L359.6,115.7 L359.9,116.3 L360.2,116.9 L360.5,117.5 L360.8,118.0 L361.2,118.6 L361.5,119.1 L361.8,119.6 L362.1,120.1 L362.4,120.6 L362.7,121.1 L363.0,121.5 L363.3,121.9 L363.6,122.3 L363.9,122.7 L364.2,123.1 L364.5,123.4 L364.8,123.7 L365.1,124.0 L365.4,124.3 L365.7,124.6 L366.0,124.8 L366.3,125.0 L366.6,125.3 L366.9,125.5 L367.2,125.7 L367.5,125.9 L367.8,126.1 L368.1,126.3 L368.4,126.6 L368.7,126.8 L369.0,127.0 L369.3,127.1 L369.6,127.3 L369.9,127.5 L370.2,127.7 L370.5,127.8 L370.8,128.0 L371.1,128.1 L371.4,128.3 L371.7,128.4 L372.0,128.5 L372.3,128.6 L372.6,128.7 L372.9,128.9 L373.2,129.0 L373.5,129.1 L373.8,129.2 L374.1,129.3 L374.4,129.4 L374.7,129.5 L375.0,129.6 L375.3,129.7 L375.6,129.8 L375.9,129.8 L376.2,129.9 L376.5,130.0 L376.8,130.1 L377.1,130.2 L377.4,130.3 L377.7,130.3 L378.0,130.4 L378.3,130.5 L378.6,130.6 L378.9,130.6 L379.2,130.7 L379.5,130.8 L380.7,131.0 L381.9,131.2 L383.1,131.4 L384.3,131.6 L385.5,131.8 L386.7,132.0 L387.9,132.1 L389.1,132.2 L390.3,132.3 L391.5,132.4 L392.7,132.5 L394.0,132.6 L395.2,132.6 L396.4,132.7 L397.6,132.7 L398.8,132.8 L400.0,132.8 L401.2,132.9 L402.4,133.0 L403.6,133.1 L404.8,133.2 L406.0,133.4 L407.2,133.6 L408.4,133.8 L409.6,134.0 L410.8,134.3 L412.0,134.6 L413.2,135.0 L414.4,135.4 L415.6,135.8 L416.8,136.2 L418.0,136.5 L419.2,136.8 L420.4,137.2 L421.6,137.5 L422.8,137.8 L424.0,138.1 L425.3,138.3 L426.5,138.6 L427.7,138.8 L428.9,139.0 L430.1,139.2 L431.3,139.4 L432.5,139.6 L433.7,139.8 L434.9,140.0 L436.1,140.1 L437.3,140.3 L438.5,140.5 L439.7,140.6 L440.9,140.7 L442.1,140.9 L443.3,141.0 L444.5,141.1 L445.7,141.2 L446.9,141.3 L448.1,141.4 L449.3,141.5 L450.5,141.6 L451.7,141.6 L452.9,141.7 L454.1,141.8 L455.3,141.8 L456.6,141.9 L457.8,141.9 L459.0,142.0 L460.2,142.0 L461.4,142.1 L462.6,142.1 L463.8,142.1 L465.0,142.2 L466.2,142.2 L467.4,142.2 L468.6,142.3 L469.8,142.3 L471.0,142.3 L472.2,142.3 L473.4,142.3 L474.6,142.4 L475.8,142.4 L477.0,142.4 L478.2,142.4 L479.4,142.4 L480.6,142.4 L481.8,142.5 L483.0,142.5 L484.2,142.5 L485.4,142.5 L486.6,142.5 L487.8,142.5 L489.1,142.5 L490.3,142.5 L491.5,142.5 L492.7,142.5 L493.9,142.6 L495.1,142.6 L496.3,142.6 L497.5,142.6 L498.7,142.6 L499.9,142.6 L501.1,142.6 L502.3,142.6 L503.5,142.6 L504.7,142.6 L505.9,142.6 L507.1,142.6 L508.3,142.6 L509.5,142.6 L510.7,142.7 L511.9,142.7 L513.1,142.7 L514.3,142.7 L515.5,142.7 L516.7,142.7 L517.9,142.7 L519.1,142.7 L520.4,142.7 L521.6,142.7 L522.8,142.7 L524.0,142.7 L525.2,142.7 L526.4,142.7 L527.6,142.7 L528.8,142.7 L530.0,142.7 L531.2,142.8 L532.4,142.8 L533.6,142.8 L534.8,142.8 L536.0,142.8" fill="none" stroke="#300c0a" stroke-width="1.0" stroke-linejoin="round"/>
<path d="M312.7,-26.4 L313.0,-12.2 L313.3,0.6 L313.6,9.6 L313.9,18.8 L314.2,27.2 L314.5,34.2 L314.8,40.0 L315.1,44.5 L315.4,48.0 L315.7,50.4 L316.0,51.8 L316.3,52.9 L316.6,53.8 L316.9,54.5 L317.2,54.8 L317.5,54.9 L317.8,54.7 L318.1,54.3 L318.4,53.9 L318.7,53.4 L319.0,52.8 L319.3,52.3 L319.6,51.8 L319.9,51.3 L320.2,50.7 L320.5,50.0 L320.8,49.4 L321.1,48.7 L321.4,48.1 L321.7,47.5 L322.0,46.9 L322.3,46.3 L322.6,45.8 L322.9,45.3 L323.2,44.8 L323.5,44.3 L323.8,43.8 L324.1,43.4 L324.4,43.0 L324.7,42.6 L325.0,42.3 L325.3,42.1 L325.6,41.9 L325.9,41.7 L326.2,41.5 L326.5,41.3 L326.8,41.2 L327.1,41.1 L327.4,41.1 L327.7,41.1 L328.0,41.2 L328.3,41.3 L328.6,41.4 L328.9,41.6 L329.3,41.8 L329.6,42.0 L329.9,42.3 L330.2,42.5 L330.5,42.8 L330.8,43.0 L331.1,43.3 L331.4,43.6 L331.7,43.9 L332.0,44.3 L332.3,44.7 L332.6,45.1 L332.9,45.5 L333.2,46.0 L333.5,46.6 L333.8,47.2 L334.1,47.8 L334.4,48.5 L334.7,49.4 L335.0,50.4 L335.3,51.4 L335.6,52.4 L335.9,53.4 L336.2,54.3 L336.5,55.2 L336.8,56.2 L337.1,57.1 L337.4,58.0 L337.7,59.0 L338.0,60.1 L338.3,61.2 L338.6,62.3 L338.9,63.4 L339.2,64.4 L339.5,65.3 L339.8,66.2 L340.1,66.9 L340.4,67.6 L340.7,68.2 L341.0,68.8 L341.3,69.4 L341.6,70.0 L341.9,70.6 L342.2,71.2 L342.5,71.8 L342.8,72.5 L343.1,73.1 L343.4,73.8 L343.7,74.4 L344.0,75.1 L344.3,75.8 L344.6,76.4 L344.9,77.1 L345.2,77.7 L345.5,78.4 L345.8,79.1 L346.1,79.8 L346.4,80.5 L346.7,81.3 L347.0,82.1 L347.3,82.9 L347.6,83.8 L347.9,84.6 L348.2,85.5 L348.5,86.4 L348.8,87.3 L349.1,88.2 L349.4,89.1 L349.7,89.9 L350.0,90.7 L350.3,91.5 L350.6,92.2 L350.9,93.0 L351.2,93.7 L351.5,94.4 L351.8,95.1 L352.1,95.8 L352.4,96.5 L352.7,97.1 L353.0,97.8 L353.3,98.4 L353.6,99.1 L353.9,99.7 L354.2,100.3 L354.5,100.9 L354.8,101.5 L355.1,102.1 L355.4,102.8 L355.7,103.4 L356.0,104.1 L356.3,104.7 L356.6,105.5 L356.9,106.2 L357.2,107.0 L357.5,107.8 L357.8,108.6 L358.1,109.4 L358.4,110.2 L358.7,111.0 L359.0,111.8 L359.3,112.5 L359.6,113.3 L359.9,114.0 L360.2,114.7 L360.5,115.4 L360.8,116.1 L361.2,116.8 L361.5,117.4 L361.8,118.1 L362.1,118.7 L362.4,119.2 L362.7,119.8 L363.0,120.3 L363.3,120.8 L363.6,121.2 L363.9,121.7 L364.2,122.1 L364.5,122.5 L364.8,122.9 L365.1,123.2 L365.4,123.5 L365.7,123.8 L366.0,124.1 L366.3,124.4 L366.6,124.6 L366.9,124.9 L367.2,125.1 L367.5,125.3 L367.8,125.6 L368.1,125.8 L368.4,126.1 L368.7,126.3 L369.0,126.5 L369.3,126.7 L369.6,126.9 L369.9,127.1 L370.2,127.3 L370.5,127.5 L370.8,127.7 L371.1,127.8 L371.4,128.0 L371.7,128.1 L372.0,128.2 L372.3,128.4 L372.6,128.5 L372.9,128.6 L373.2,128.7 L373.5,128.8 L373.8,128.9 L374.1,129.0 L374.4,129.1 L374.7,129.2 L375.0,129.3 L375.3,129.4 L375.6,129.5 L375.9,129.6 L376.2,129.7 L376.5,129.8 L376.8,129.9 L377.1,129.9 L377.4,130.0 L377.7,130.1 L378.0,130.2 L378.3,130.3 L378.6,130.3 L378.9,130.4 L379.2,130.5 L379.5,130.5 L380.7,130.8 L381.9,131.0 L383.1,131.2 L384.3,131.4 L385.5,131.5 L386.7,131.7 L387.9,131.8 L389.1,131.9 L390.3,132.0 L391.5,132.1 L392.7,132.2 L394.0,132.3 L395.2,132.3 L396.4,132.4 L397.6,132.4 L398.8,132.5 L400.0,132.5 L401.2,132.6 L402.4,132.7 L403.6,132.9 L404.8,133.0 L406.0,133.2 L407.2,133.4 L408.4,133.7 L409.6,134.0 L410.8,134.3 L412.0,134.7 L413.2,135.1 L414.4,135.6 L415.6,136.0 L416.8,136.5 L418.0,136.8 L419.2,137.2 L420.4,137.5 L421.6,137.8 L422.8,138.1 L424.0,138.4 L425.3,138.6 L426.5,138.8 L427.7,139.1 L428.9,139.3 L430.1,139.5 L431.3,139.6 L432.5,139.8 L433.7,140.0 L434.9,140.2 L436.1,140.4 L437.3,140.5 L438.5,140.7 L439.7,140.8 L440.9,141.0 L442.1,141.1 L443.3,141.2 L444.5,141.3 L445.7,141.4 L446.9,141.5 L448.1,141.6 L449.3,141.7 L450.5,141.7 L451.7,141.8 L452.9,141.9 L454.1,141.9 L455.3,142.0 L456.6,142.1 L457.8,142.1 L459.0,142.1 L460.2,142.2 L461.4,142.2 L462.6,142.3 L463.8,142.3 L465.0,142.3 L466.2,142.3 L467.4,142.4 L468.6,142.4 L469.8,142.4 L471.0,142.4 L472.2,142.5 L473.4,142.5 L474.6,142.5 L475.8,142.5 L477.0,142.5 L478.2,142.5 L479.4,142.6 L480.6,142.6 L481.8,142.6 L483.0,142.6 L484.2,142.6 L485.4,142.6 L486.6,142.6 L487.8,142.6 L489.1,142.6 L490.3,142.7 L491.5,142.7 L492.7,142.7 L493.9,142.7 L495.1,142.7 L496.3,142.7 L497.5,142.7 L498.7,142.7 L499.9,142.7 L501.1,142.7 L502.3,142.7 L503.5,142.7 L504.7,142.7 L505.9,142.7 L507.1,142.7 L508.3,142.8 L509.5,142.8 L510.7,142.8 L511.9,142.8 L513.1,142.8 L514.3,142.8 L515.5,142.8 L516.7,142.8 L517.9,142.8 L519.1,142.8 L520.4,142.8 L521.6,142.8 L522.8,142.8 L524.0,142.8 L525.2,142.8 L526.4,142.8 L527.6,142.8 L528.8,142.8 L530.0,142.8 L531.2,142.8 L532.4,142.9 L533.6,142.9 L534.8,142.9 L536.0,142.9" fill="none" stroke="#2a0a08" stroke-width="1.0" stroke-linejoin="round"/>
<path d="M312.7,-34.4 L313.0,-18.8 L313.3,-4.8 L313.6,5.1 L313.9,15.4 L314.2,24.9 L314.5,32.6 L314.8,38.7 L315.1,43.3 L315.4,47.1 L315.7,49.6 L316.0,51.0 L316.3,52.2 L316.6,53.3 L316.9,54.0 L317.2,54.4 L317.5,54.5 L317.8,54.3 L318.1,53.9 L318.4,53.3 L318.7,52.7 L319.0,52.1 L319.3,51.5 L319.6,50.9 L319.9,50.3 L320.2,49.6 L320.5,48.9 L320.8,48.1 L321.1,47.4 L321.4,46.6 L321.7,45.9 L322.0,45.2 L322.3,44.6 L322.6,44.0 L322.9,43.4 L323.2,42.9 L323.5,42.3 L323.8,41.8 L324.1,41.2 L324.4,40.8 L324.7,40.3 L325.0,40.0 L325.3,39.7 L325.6,39.4 L325.9,39.1 L326.2,38.9 L326.5,38.7 L326.8,38.5 L327.1,38.3 L327.4,38.2 L327.7,38.1 L328.0,38.1 L328.3,38.1 L328.6,38.2 L328.9,38.3 L329.3,38.5 L329.6,38.7 L329.9,38.9 L330.2,39.1 L330.5,39.3 L330.8,39.5 L331.1,39.8 L331.4,40.0 L331.7,40.3 L332.0,40.6 L332.3,41.0 L332.6,41.4 L332.9,41.8 L333.2,42.3 L333.5,42.8 L333.8,43.3 L334.1,43.9 L334.4,44.6 L334.7,45.5 L335.0,46.5 L335.3,47.6 L335.6,48.7 L335.9,49.6 L336.2,50.6 L336.5,51.5 L336.8,52.4 L337.1,53.3 L337.4,54.2 L337.7,55.2 L338.0,56.2 L338.3,57.2 L338.6,58.3 L338.9,59.4 L339.2,60.4 L339.5,61.4 L339.8,62.2 L340.1,62.9 L340.4,63.6 L340.7,64.2 L341.0,64.8 L341.3,65.4 L341.6,65.9 L341.9,66.4 L342.2,67.0 L342.5,67.6 L342.8,68.1 L343.1,68.6 L343.4,69.2 L343.7,69.7 L344.0,70.2 L344.3,70.7 L344.6,71.2 L344.9,71.7 L345.2,72.2 L345.5,72.7 L345.8,73.3 L346.1,73.9 L346.4,74.5 L346.7,75.1 L347.0,75.8 L347.3,76.5 L347.6,77.3 L347.9,78.1 L348.2,78.9 L348.5,79.7 L348.8,80.5 L349.1,81.3 L349.4,82.1 L349.7,82.9 L350.0,83.6 L350.3,84.4 L350.6,85.1 L350.9,85.9 L351.2,86.6 L351.5,87.4 L351.8,88.1 L352.1,88.9 L352.4,89.6 L352.7,90.3 L353.0,91.1 L353.3,91.8 L353.6,92.6 L353.9,93.3 L354.2,94.0 L354.5,94.7 L354.8,95.4 L355.1,96.1 L355.4,96.9 L355.7,97.6 L356.0,98.4 L356.3,99.3 L356.6,100.2 L356.9,101.1 L357.2,102.1 L357.5,103.1 L357.8,104.1 L358.1,105.1 L358.4,106.0 L358.7,107.0 L359.0,108.0 L359.3,109.0 L359.6,109.9 L359.9,110.8 L360.2,111.7 L360.5,112.5 L360.8,113.4 L361.2,114.2 L361.5,115.0 L361.8,115.8 L362.1,116.6 L362.4,117.3 L362.7,117.9 L363.0,118.5 L363.3,119.1 L363.6,119.7 L363.9,120.3 L364.2,120.8 L364.5,121.2 L364.8,121.7 L365.1,122.1 L365.4,122.4 L365.7,122.8 L366.0,123.1 L366.3,123.4 L366.6,123.7 L366.9,123.9 L367.2,124.2 L367.5,124.5 L367.8,124.8 L368.1,125.1 L368.4,125.3 L368.7,125.6 L369.0,125.9 L369.3,126.1 L369.6,126.4 L369.9,126.6 L370.2,126.8 L370.5,127.0 L370.8,127.2 L371.1,127.4 L371.4,127.6 L371.7,127.7 L372.0,127.8 L372.3,128.0 L372.6,128.1 L372.9,128.2 L373.2,128.4 L373.5,128.5 L373.8,128.6 L374.1,128.7 L374.4,128.8 L374.7,128.9 L375.0,129.0 L375.3,129.1 L375.6,129.2 L375.9,129.3 L376.2,129.4 L376.5,129.5 L376.8,129.5 L377.1,129.6 L377.4,129.7 L377.7,129.8 L378.0,129.9 L378.3,129.9 L378.6,130.0 L378.9,130.1 L379.2,130.1 L379.5,130.2 L380.7,130.4 L381.9,130.7 L383.1,130.8 L384.3,131.0 L385.5,131.1 L386.7,131.3 L387.9,131.4 L389.1,131.5 L390.3,131.6 L391.5,131.7 L392.7,131.7 L394.0,131.8 L395.2,131.9 L396.4,131.9 L397.6,132.0 L398.8,132.0 L400.0,132.1 L401.2,132.2 L402.4,132.3 L403.6,132.5 L404.8,132.7 L406.0,133.0 L407.2,133.3 L408.4,133.6 L409.6,133.9 L410.8,134.3 L412.0,134.8 L413.2,135.3 L414.4,135.9 L415.6,136.4 L416.8,136.9 L418.0,137.3 L419.2,137.6 L420.4,138.0 L421.6,138.3 L422.8,138.5 L424.0,138.8 L425.3,139.0 L426.5,139.2 L427.7,139.4 L428.9,139.6 L430.1,139.8 L431.3,140.0 L432.5,140.2 L433.7,140.3 L434.9,140.5 L436.1,140.7 L437.3,140.8 L438.5,141.0 L439.7,141.1 L440.9,141.3 L442.1,141.4 L443.3,141.5 L444.5,141.6 L445.7,141.7 L446.9,141.7 L448.1,141.8 L449.3,141.9 L450.5,142.0 L451.7,142.1 L452.9,142.1 L454.1,142.2 L455.3,142.2 L456.6,142.3 L457.8,142.3 L459.0,142.4 L460.2,142.4 L461.4,142.4 L462.6,142.5 L463.8,142.5 L465.0,142.5 L466.2,142.5 L467.4,142.6 L468.6,142.6 L469.8,142.6 L471.0,142.6 L472.2,142.6 L473.4,142.7 L474.6,142.7 L475.8,142.7 L477.0,142.7 L478.2,142.7 L479.4,142.7 L480.6,142.7 L481.8,142.8 L483.0,142.8 L484.2,142.8 L485.4,142.8 L486.6,142.8 L487.8,142.8 L489.1,142.8 L490.3,142.8 L491.5,142.8 L492.7,142.8 L493.9,142.8 L495.1,142.9 L496.3,142.9 L497.5,142.9 L498.7,142.9 L499.9,142.9 L501.1,142.9 L502.3,142.9 L503.5,142.9 L504.7,142.9 L505.9,142.9 L507.1,142.9 L508.3,142.9 L509.5,142.9 L510.7,142.9 L511.9,142.9 L513.1,142.9 L514.3,142.9 L515.5,142.9 L516.7,142.9 L517.9,142.9 L519.1,142.9 L520.4,142.9 L521.6,143.0 L522.8,143.0 L524.0,143.0 L525.2,143.0 L526.4,143.0 L527.6,143.0 L528.8,143.0 L530.0,143.0 L531.2,143.0 L532.4,143.0 L533.6,143.0 L534.8,143.0 L536.0,143.0" fill="none" stroke="#240a02" stroke-width="1.7" stroke-linejoin="round"/>
<path d="M312.7,-4.8 L313.0,5.6 L313.3,15.0 L313.6,21.9 L313.9,27.8 L314.2,33.5 L314.5,38.7 L314.8,43.6 L315.1,47.6 L315.4,50.4 L315.7,52.7 L316.0,54.0 L316.3,54.7 L316.6,55.3 L316.9,55.7 L317.2,55.9 L317.5,56.0 L317.8,55.9 L318.1,55.7 L318.4,55.4 L318.7,55.1 L319.0,54.8 L319.3,54.5 L319.6,54.2 L319.9,53.9 L320.2,53.5 L320.5,53.2 L320.8,52.8 L321.1,52.4 L321.4,52.0 L321.7,51.7 L322.0,51.3 L322.3,51.0 L322.6,50.7 L322.9,50.4 L323.2,50.1 L323.5,49.8 L323.8,49.5 L324.1,49.2 L324.4,49.0 L324.7,48.8 L325.0,48.8 L325.3,48.7 L325.6,48.6 L325.9,48.6 L326.2,48.6 L326.5,48.6 L326.8,48.6 L327.1,48.7 L327.4,48.9 L327.7,49.1 L328.0,49.4 L328.3,49.7 L328.6,50.0 L328.9,50.4 L329.3,50.8 L329.6,51.1 L329.9,51.5 L330.2,51.8 L330.5,52.1 L330.8,52.5 L331.1,52.9 L331.4,53.3 L331.7,53.7 L332.0,54.2 L332.3,54.7 L332.6,55.2 L332.9,55.7 L333.2,56.3 L333.5,56.9 L333.8,57.5 L334.1,58.3 L334.4,59.1 L334.7,60.0 L335.0,60.9 L335.3,61.7 L335.6,62.6 L335.9,63.5 L336.2,64.4 L336.5,65.4 L336.8,66.3 L337.1,67.3 L337.4,68.3 L337.7,69.4 L338.0,70.6 L338.3,71.9 L338.6,73.1 L338.9,74.2 L339.2,75.2 L339.5,76.1 L339.8,76.9 L340.1,77.6 L340.4,78.3 L340.7,79.0 L341.0,79.7 L341.3,80.3 L341.6,81.0 L341.9,81.8 L342.2,82.5 L342.5,83.4 L342.8,84.3 L343.1,85.3 L343.4,86.3 L343.7,87.4 L344.0,88.4 L344.3,89.5 L344.6,90.5 L344.9,91.6 L345.2,92.6 L345.5,93.7 L345.8,94.7 L346.1,95.7 L346.4,96.8 L346.7,97.9 L347.0,98.9 L347.3,100.1 L347.6,101.2 L347.9,102.4 L348.2,103.5 L348.5,104.7 L348.8,105.8 L349.1,106.9 L349.4,107.8 L349.7,108.8 L350.0,109.7 L350.3,110.5 L350.6,111.4 L350.9,112.1 L351.2,112.8 L351.5,113.4 L351.8,114.0 L352.1,114.5 L352.4,115.0 L352.7,115.5 L353.0,115.9 L353.3,116.3 L353.6,116.7 L353.9,117.1 L354.2,117.4 L354.5,117.8 L354.8,118.1 L355.1,118.4 L355.4,118.7 L355.7,119.0 L356.0,119.2 L356.3,119.5 L356.6,119.8 L356.9,120.1 L357.2,120.4 L357.5,120.6 L357.8,120.9 L358.1,121.2 L358.4,121.4 L358.7,121.7 L359.0,122.0 L359.3,122.2 L359.6,122.5 L359.9,122.7 L360.2,123.0 L360.5,123.2 L360.8,123.4 L361.2,123.7 L361.5,123.9 L361.8,124.1 L362.1,124.3 L362.4,124.5 L362.7,124.8 L363.0,125.0 L363.3,125.2 L363.6,125.4 L363.9,125.6 L364.2,125.8 L364.5,125.9 L364.8,126.1 L365.1,126.3 L365.4,126.5 L365.7,126.7 L366.0,126.8 L366.3,127.0 L366.6,127.2 L366.9,127.3 L367.2,127.5 L367.5,127.6 L367.8,127.7 L368.1,127.9 L368.4,128.0 L368.7,128.1 L369.0,128.2 L369.3,128.3 L369.6,128.5 L369.9,128.6 L370.2,128.7 L370.5,128.8 L370.8,128.9 L371.1,129.0 L371.4,129.1 L371.7,129.2 L372.0,129.3 L372.3,129.4 L372.6,129.5 L372.9,129.6 L373.2,129.7 L373.5,129.8 L373.8,129.9 L374.1,130.0 L374.4,130.0 L374.7,130.1 L375.0,130.2 L375.3,130.3 L375.6,130.4 L375.9,130.5 L376.2,130.6 L376.5,130.7 L376.8,130.7 L377.1,130.8 L377.4,130.9 L377.7,131.0 L378.0,131.1 L378.3,131.1 L378.6,131.2 L378.9,131.3 L379.2,131.3 L379.5,131.4 L380.7,131.7 L381.9,131.9 L383.1,132.1 L384.3,132.4 L385.5,132.6 L386.7,132.7 L387.9,132.9 L389.1,133.1 L390.3,133.2 L391.5,133.3 L392.7,133.4 L394.0,133.5 L395.2,133.5 L396.4,133.6 L397.6,133.6 L398.8,133.7 L400.0,133.7 L401.2,133.7 L402.4,133.8 L403.6,133.8 L404.8,133.8 L406.0,133.9 L407.2,133.9 L408.4,134.0 L409.6,134.1 L410.8,134.2 L412.0,134.4 L413.2,134.6 L414.4,134.8 L415.6,135.0 L416.8,135.3 L418.0,135.6 L419.2,135.9 L420.4,136.3 L421.6,136.6 L422.8,136.9 L424.0,137.2 L425.3,137.5 L426.5,137.8 L427.7,138.0 L428.9,138.3 L430.1,138.5 L431.3,138.7 L432.5,139.0 L433.7,139.1 L434.9,139.3 L436.1,139.5 L437.3,139.7 L438.5,139.8 L439.7,140.0 L440.9,140.1 L442.1,140.3 L443.3,140.4 L444.5,140.5 L445.7,140.6 L446.9,140.8 L448.1,140.9 L449.3,141.0 L450.5,141.1 L451.7,141.1 L452.9,141.2 L454.1,141.3 L455.3,141.4 L456.6,141.4 L457.8,141.5 L459.0,141.5 L460.2,141.6 L461.4,141.6 L462.6,141.7 L463.8,141.7 L465.0,141.8 L466.2,141.8 L467.4,141.8 L468.6,141.9 L469.8,141.9 L471.0,141.9 L472.2,142.0 L473.4,142.0 L474.6,142.0 L475.8,142.0 L477.0,142.0 L478.2,142.1 L479.4,142.1 L480.6,142.1 L481.8,142.1 L483.0,142.1 L484.2,142.1 L485.4,142.1 L486.6,142.2 L487.8,142.2 L489.1,142.2 L490.3,142.2 L491.5,142.2 L492.7,142.2 L493.9,142.2 L495.1,142.2 L496.3,142.2 L497.5,142.3 L498.7,142.3 L499.9,142.3 L501.1,142.3 L502.3,142.3 L503.5,142.3 L504.7,142.3 L505.9,142.3 L507.1,142.3 L508.3,142.3 L509.5,142.3 L510.7,142.3 L511.9,142.3 L513.1,142.4 L514.3,142.4 L515.5,142.4 L516.7,142.4 L517.9,142.4 L519.1,142.4 L520.4,142.4 L521.6,142.4 L522.8,142.4 L524.0,142.4 L525.2,142.4 L526.4,142.4 L527.6,142.4 L528.8,142.5 L530.0,142.5 L531.2,142.5 L532.4,142.5 L533.6,142.5 L534.8,142.5 L536.0,142.5" fill="none" stroke="#f0f018" stroke-width="2.4" stroke-linejoin="round"/>
</g>
<path d="M313.30,143.40 L313.30,5.10 L536.00,5.10 L536.00,143.40" fill="none" stroke="#333333" stroke-width="1.3"/>
<path d="M313.30,7.10 L313.30,143.40 L536.00,143.40" fill="none" stroke="#5e5438" stroke-width="1.2"/>
<line x1="325.34" y1="143.40" x2="325.34" y2="146.40" stroke="#333333" stroke-width="1"/>
<line x1="355.43" y1="143.40" x2="355.43" y2="148.40" stroke="#333333" stroke-width="1"/>
<text x="355.43" y="159.70" font-size="9.2" text-anchor="middle" fill="#1e1e1e">300</text>
<line x1="385.53" y1="143.40" x2="385.53" y2="146.40" stroke="#333333" stroke-width="1"/>
<line x1="415.62" y1="143.40" x2="415.62" y2="148.40" stroke="#333333" stroke-width="1"/>
<text x="415.62" y="159.70" font-size="9.2" text-anchor="middle" fill="#1e1e1e">400</text>
<line x1="445.72" y1="143.40" x2="445.72" y2="146.40" stroke="#333333" stroke-width="1"/>
<line x1="475.81" y1="143.40" x2="475.81" y2="148.40" stroke="#333333" stroke-width="1"/>
<text x="475.81" y="159.70" font-size="9.2" text-anchor="middle" fill="#1e1e1e">500</text>
<line x1="505.91" y1="143.40" x2="505.91" y2="146.40" stroke="#333333" stroke-width="1"/>
<line x1="536.00" y1="143.40" x2="536.00" y2="148.40" stroke="#333333" stroke-width="1"/>
<text x="536.00" y="159.70" font-size="9.2" text-anchor="middle" fill="#1e1e1e">600</text>
<line x1="308.30" y1="143.40" x2="313.30" y2="143.40" stroke="#333333" stroke-width="1"/>
<text x="306.60" y="146.70" font-size="9.2" text-anchor="end" fill="#1e1e1e">0</text>
<line x1="310.30" y1="133.52" x2="313.30" y2="133.52" stroke="#333333" stroke-width="1"/>
<line x1="308.30" y1="123.64" x2="313.30" y2="123.64" stroke="#333333" stroke-width="1"/>
<text x="306.60" y="126.94" font-size="9.2" text-anchor="end" fill="#1e1e1e">0.2</text>
<line x1="310.30" y1="113.76" x2="313.30" y2="113.76" stroke="#333333" stroke-width="1"/>
<line x1="308.30" y1="103.89" x2="313.30" y2="103.89" stroke="#333333" stroke-width="1"/>
<text x="306.60" y="107.19" font-size="9.2" text-anchor="end" fill="#1e1e1e">0.4</text>
<line x1="310.30" y1="94.01" x2="313.30" y2="94.01" stroke="#333333" stroke-width="1"/>
<line x1="308.30" y1="84.13" x2="313.30" y2="84.13" stroke="#333333" stroke-width="1"/>
<text x="306.60" y="87.43" font-size="9.2" text-anchor="end" fill="#1e1e1e">0.6</text>
<line x1="310.30" y1="74.25" x2="313.30" y2="74.25" stroke="#333333" stroke-width="1"/>
<line x1="308.30" y1="64.37" x2="313.30" y2="64.37" stroke="#333333" stroke-width="1"/>
<text x="306.60" y="67.67" font-size="9.2" text-anchor="end" fill="#1e1e1e">0.8</text>
<line x1="310.30" y1="54.49" x2="313.30" y2="54.49" stroke="#333333" stroke-width="1"/>
<line x1="308.30" y1="44.61" x2="313.30" y2="44.61" stroke="#333333" stroke-width="1"/>
<text x="306.60" y="47.91" font-size="9.2" text-anchor="end" fill="#1e1e1e">1</text>
<line x1="310.30" y1="34.74" x2="313.30" y2="34.74" stroke="#333333" stroke-width="1"/>
<line x1="308.30" y1="24.86" x2="313.30" y2="24.86" stroke="#333333" stroke-width="1"/>
<text x="306.60" y="28.16" font-size="9.2" text-anchor="end" fill="#1e1e1e">1.2</text>
<line x1="310.30" y1="14.98" x2="313.30" y2="14.98" stroke="#333333" stroke-width="1"/>
<line x1="308.30" y1="5.10" x2="313.30" y2="5.10" stroke="#333333" stroke-width="1"/>
<text x="306.60" y="8.40" font-size="9.2" text-anchor="end" fill="#1e1e1e">1.4</text>
<text x="428.15" y="170.60" font-size="9" text-anchor="middle" fill="#222">Wavelength (nm)</text>
<text transform="translate(291.50,74.25) rotate(-90)" font-size="8.8" text-anchor="middle" fill="#222">Absorbance (a.u.)</text>
<line x1="474.8" y1="12.70" x2="487.2" y2="12.70" stroke="#7a3a14" stroke-width="2.0"/>
<text x="492.1" y="15.35" font-size="8" letter-spacing="0" word-spacing="0.5" fill="#1e1e1e" stroke="#1e1e1e" stroke-width="0.12">t = 0 min</text>
<line x1="474.8" y1="21.50" x2="487.2" y2="21.50" stroke="#484848" stroke-width="1.2"/>
<text x="492.1" y="23.79" font-size="8" letter-spacing="0" word-spacing="0.5" fill="#1e1e1e" stroke="#1e1e1e" stroke-width="0.12">t = 1 min</text>
<line x1="474.8" y1="29.50" x2="487.2" y2="29.50" stroke="#56625c" stroke-width="1.2"/>
<text x="492.1" y="32.23" font-size="8" letter-spacing="0" word-spacing="0.5" fill="#1e1e1e" stroke="#1e1e1e" stroke-width="0.12">t = 6 min</text>
<line x1="474.8" y1="38.50" x2="487.2" y2="38.50" stroke="#404040" stroke-width="1.2"/>
<text x="492.1" y="40.67" font-size="8" letter-spacing="0" word-spacing="0.5" fill="#1e1e1e" stroke="#1e1e1e" stroke-width="0.12">t = 16 min</text>
<line x1="474.8" y1="46.50" x2="487.2" y2="46.50" stroke="#767676" stroke-width="1.2"/>
<text x="492.1" y="49.11" font-size="8" letter-spacing="0" word-spacing="0.5" fill="#1e1e1e" stroke="#1e1e1e" stroke-width="0.12">t = 36 min</text>
<line x1="474.8" y1="54.90" x2="487.2" y2="54.90" stroke="#eef040" stroke-width="2.0"/>
<text x="492.1" y="57.55" font-size="8" letter-spacing="0" word-spacing="0.5" fill="#1e1e1e" stroke="#1e1e1e" stroke-width="0.12">t = 60 min</text>
<path d="M357.7,38.9 L362.9,38.9 L362.9,63 L366.7,63 L360.10,71.3 L353.5,63 L357.7,63 Z" fill="url(#ga1)"/>
<path d="M428.8,132 L434.3,132 L434.3,109.3 L437,109.3 L431.2,101 L425.7,109.3 L428.8,109.3 Z" fill="#e6fb00"/>
<rect x="57.8" y="200.5" width="14.40" height="31.50" fill="#fdeef9"/>
<g clip-path="url(#c2)">
<path d="M29.2,146.6 L29.5,167.3 L29.8,185.7 L30.1,199.4 L30.4,210.2 L30.7,218.9 L31.0,224.8 L31.3,227.9 L31.6,230.1 L31.9,231.5 L32.2,232.3 L32.5,232.9 L32.8,233.5 L33.1,233.9 L33.4,234.3 L33.7,234.6 L34.0,234.8 L34.3,234.9 L34.6,235.1 L34.9,235.2 L35.2,235.3 L35.5,235.3 L35.8,235.4 L36.1,235.5 L36.4,235.6 L36.7,235.6 L37.0,235.7 L37.3,235.7 L37.6,235.8 L37.9,235.8 L38.2,235.9 L38.6,235.9 L38.9,236.0 L39.2,236.1 L39.5,236.2 L39.8,236.4 L40.1,236.6 L40.4,236.7 L40.7,236.9 L41.0,237.1 L41.3,237.3 L41.6,237.5 L41.9,237.7 L42.2,237.9 L42.5,238.1 L42.8,238.3 L43.1,238.5 L43.4,238.7 L43.7,238.8 L44.0,239.0 L44.3,239.2 L44.6,239.3 L44.9,239.4 L45.2,239.5 L45.5,239.6 L45.8,239.7 L46.1,239.8 L46.4,239.9 L46.7,240.0 L47.0,240.1 L47.3,240.2 L47.6,240.2 L47.9,240.3 L48.2,240.4 L48.5,240.4 L48.8,240.5 L49.1,240.5 L49.4,240.6 L49.7,240.6 L50.0,240.7 L50.3,240.8 L50.6,240.9 L50.9,241.0 L51.2,241.2 L51.5,241.5 L51.8,241.7 L52.1,242.1 L52.4,242.4 L52.7,242.8 L53.0,243.4 L53.3,244.0 L53.6,244.6 L53.9,245.3 L54.2,246.1 L54.5,246.8 L54.8,247.7 L55.1,248.6 L55.4,249.7 L55.8,251.1 L56.1,252.9 L56.4,254.8 L56.7,256.6 L57.0,258.2 L57.3,259.6 L57.6,260.8 L57.9,262.0 L58.2,263.1 L58.5,264.0 L58.8,264.9 L59.1,265.7 L59.4,266.4 L59.7,267.1 L60.0,267.7 L60.3,268.2 L60.6,268.6 L60.9,268.9 L61.2,269.2 L61.5,269.4 L61.8,269.7 L62.1,269.9 L62.4,270.0 L62.7,270.1 L63.0,270.2 L63.3,270.1 L63.6,270.0 L63.9,269.9 L64.2,269.7 L64.5,269.5 L64.8,269.3 L65.1,269.0 L65.4,268.5 L65.7,268.0 L66.0,267.4 L66.3,266.7 L66.6,266.1 L66.9,265.4 L67.2,264.8 L67.5,264.2 L67.8,263.7 L68.1,263.3 L68.4,262.8 L68.7,262.4 L69.0,262.0 L69.3,261.6 L69.6,261.2 L69.9,260.9 L70.2,260.6 L70.5,260.3 L70.8,260.1 L71.1,259.8 L71.4,259.5 L71.7,259.2 L72.0,258.9 L72.3,258.4 L72.6,257.8 L73.0,257.2 L73.3,256.6 L73.6,256.0 L73.9,255.4 L74.2,255.0 L74.5,254.6 L74.8,254.4 L75.1,254.4 L75.4,254.6 L75.7,254.8 L76.0,255.0 L76.3,255.4 L76.6,255.7 L76.9,256.1 L77.2,256.6 L77.5,257.3 L77.8,258.2 L78.1,259.1 L78.4,259.8 L78.7,260.4 L79.0,260.6 L79.3,260.4 L79.6,259.9 L79.9,259.3 L80.2,258.6 L80.5,258.0 L80.8,257.4 L81.1,256.8 L81.4,256.2 L81.7,255.8 L82.0,255.9 L82.3,256.5 L82.6,257.4 L82.9,258.5 L83.2,260.0 L83.5,262.2 L83.8,264.9 L84.1,269.6 L84.4,276.0 L84.7,281.7 L85.0,286.9 L85.3,291.3 L85.6,294.7 L85.9,297.6 L86.2,300.1 L86.5,302.3 L86.8,304.3 L87.1,305.9 L87.4,307.3 L87.7,308.4 L88.0,309.3 L88.3,310.1 L88.6,310.7 L88.9,311.3 L89.2,311.8 L89.5,312.3 L89.8,312.7 L90.2,313.0 L90.5,313.4 L90.8,313.7 L91.1,314.0 L91.4,314.3 L91.7,314.5 L92.0,314.8 L92.3,315.0 L92.6,315.2 L92.9,315.5 L93.2,315.6 L93.5,315.8 L93.8,316.0 L94.1,316.2 L94.4,316.3 L94.7,316.5 L95.0,316.6 L95.3,316.7 L95.6,316.9 L95.9,317.0 L96.2,317.2 L97.4,317.7 L98.6,318.3 L99.8,318.9 L101.0,319.3 L102.2,319.7 L103.4,320.0 L104.6,320.2 L105.8,320.4 L107.0,320.5 L108.3,320.7 L109.5,320.9 L110.7,321.0 L111.9,321.2 L113.1,321.4 L114.3,321.5 L115.5,321.7 L116.7,321.8 L117.9,322.0 L119.1,322.2 L120.3,322.3 L121.5,322.5 L122.7,322.6 L123.9,322.7 L125.2,322.8 L126.4,323.0 L127.6,323.1 L128.8,323.2 L130.0,323.3 L131.2,323.5 L132.4,323.7 L133.6,324.0 L134.8,324.3 L136.0,324.6 L137.2,324.9 L138.4,325.2 L139.6,325.5 L140.8,325.8 L142.1,326.1 L143.3,326.4 L144.5,326.6 L145.7,326.8 L146.9,327.0 L148.1,327.2 L149.3,327.3 L150.5,327.5 L151.7,327.6 L152.9,327.7 L154.1,327.9 L155.3,328.0 L156.5,328.1 L157.7,328.2 L159.0,328.3 L160.2,328.4 L161.4,328.5 L162.6,328.6 L163.8,328.7 L165.0,328.7 L166.2,328.8 L167.4,328.8 L168.6,328.9 L169.8,328.9 L171.0,329.0 L172.2,329.0 L173.4,329.1 L174.6,329.1 L175.9,329.1 L177.1,329.2 L178.3,329.2 L179.5,329.2 L180.7,329.3 L181.9,329.3 L183.1,329.3 L184.3,329.4 L185.5,329.4 L186.7,329.4 L187.9,329.4 L189.1,329.5 L190.3,329.5 L191.5,329.5 L192.7,329.5 L194.0,329.6 L195.2,329.6 L196.4,329.6 L197.6,329.6 L198.8,329.6 L200.0,329.7 L201.2,329.7 L202.4,329.7 L203.6,329.7 L204.8,329.8 L206.0,329.8 L207.2,329.8 L208.4,329.8 L209.6,329.8 L210.9,329.9 L212.1,329.9 L213.3,329.9 L214.5,329.9 L215.7,329.9 L216.9,329.9 L218.1,329.9 L219.3,329.9 L220.5,329.9 L221.7,330.0 L222.9,330.0 L224.1,330.0 L225.3,330.0 L226.5,330.0 L227.8,330.0 L229.0,330.0 L230.2,330.0 L231.4,330.0 L232.6,330.0 L233.8,330.0 L235.0,330.0 L236.2,330.0 L237.4,330.1 L238.6,330.1 L239.8,330.1 L241.0,330.1 L242.2,330.1 L243.4,330.1 L244.7,330.1 L245.9,330.1 L247.1,330.1 L248.3,330.1 L249.5,330.1 L250.7,330.1 L251.9,330.1 L253.1,330.2 L253.10,332.30 L29.80,332.30 Z" fill="#fee38f"/>
<g clip-path="url(#f2)">
<rect x="29.80" y="328.30" width="223.30" height="4" fill="#f0ec92" opacity="0.85"/>
<rect x="29.80" y="195.50" width="2.4" height="136.80" fill="#f8f29c" opacity="0.8"/>
</g>
<path d="M29.2,146.6 L29.5,167.3 L29.8,185.7 L30.1,199.4 L30.4,210.2 L30.7,218.9 L31.0,224.8 L31.3,227.9 L31.6,230.1 L31.9,231.5 L32.2,232.3 L32.5,232.9 L32.8,233.5 L33.1,233.9 L33.4,234.3 L33.7,234.6 L34.0,234.8 L34.3,234.9 L34.6,235.1 L34.9,235.2 L35.2,235.3 L35.5,235.3 L35.8,235.4 L36.1,235.5 L36.4,235.6 L36.7,235.6 L37.0,235.7 L37.3,235.7 L37.6,235.8 L37.9,235.8 L38.2,235.9 L38.6,235.9 L38.9,236.0 L39.2,236.1 L39.5,236.2 L39.8,236.4 L40.1,236.6 L40.4,236.7 L40.7,236.9 L41.0,237.1 L41.3,237.3 L41.6,237.5 L41.9,237.7 L42.2,237.9 L42.5,238.1 L42.8,238.3 L43.1,238.5 L43.4,238.7 L43.7,238.8 L44.0,239.0 L44.3,239.2 L44.6,239.3 L44.9,239.4 L45.2,239.5 L45.5,239.6 L45.8,239.7 L46.1,239.8 L46.4,239.9 L46.7,240.0 L47.0,240.1 L47.3,240.2 L47.6,240.2 L47.9,240.3 L48.2,240.4 L48.5,240.4 L48.8,240.5 L49.1,240.5 L49.4,240.6 L49.7,240.6 L50.0,240.7 L50.3,240.8 L50.6,240.9 L50.9,241.0 L51.2,241.2 L51.5,241.5 L51.8,241.7 L52.1,242.1 L52.4,242.4 L52.7,242.8 L53.0,243.4 L53.3,244.0 L53.6,244.6 L53.9,245.3 L54.2,246.1 L54.5,246.8 L54.8,247.7 L55.1,248.6 L55.4,249.7 L55.8,251.1 L56.1,252.9 L56.4,254.8 L56.7,256.6 L57.0,258.2 L57.3,259.6 L57.6,260.8 L57.9,262.0 L58.2,263.1 L58.5,264.0 L58.8,264.9 L59.1,265.7 L59.4,266.4 L59.7,267.1 L60.0,267.7 L60.3,268.2 L60.6,268.6 L60.9,268.9 L61.2,269.2 L61.5,269.4 L61.8,269.7 L62.1,269.9 L62.4,270.0 L62.7,270.1 L63.0,270.2 L63.3,270.1 L63.6,270.0 L63.9,269.9 L64.2,269.7 L64.5,269.5 L64.8,269.3 L65.1,269.0 L65.4,268.5 L65.7,268.0 L66.0,267.4 L66.3,266.7 L66.6,266.1 L66.9,265.4 L67.2,264.8 L67.5,264.2 L67.8,263.7 L68.1,263.3 L68.4,262.8 L68.7,262.4 L69.0,262.0 L69.3,261.6 L69.6,261.2 L69.9,260.9 L70.2,260.6 L70.5,260.3 L70.8,260.1 L71.1,259.8 L71.4,259.5 L71.7,259.2 L72.0,258.9 L72.3,258.4 L72.6,257.8 L73.0,257.2 L73.3,256.6 L73.6,256.0 L73.9,255.4 L74.2,255.0 L74.5,254.6 L74.8,254.4 L75.1,254.4 L75.4,254.6 L75.7,254.8 L76.0,255.0 L76.3,255.4 L76.6,255.7 L76.9,256.1 L77.2,256.6 L77.5,257.3 L77.8,258.2 L78.1,259.1 L78.4,259.8 L78.7,260.4 L79.0,260.6 L79.3,260.4 L79.6,259.9 L79.9,259.3 L80.2,258.6 L80.5,258.0 L80.8,257.4 L81.1,256.8 L81.4,256.2 L81.7,255.8 L82.0,255.9 L82.3,256.5 L82.6,257.4 L82.9,258.5 L83.2,260.0 L83.5,262.2 L83.8,264.9 L84.1,269.6 L84.4,276.0 L84.7,281.7 L85.0,286.9 L85.3,291.3 L85.6,294.7 L85.9,297.6 L86.2,300.1 L86.5,302.3 L86.8,304.3 L87.1,305.9 L87.4,307.3 L87.7,308.4 L88.0,309.3 L88.3,310.1 L88.6,310.7 L88.9,311.3 L89.2,311.8 L89.5,312.3 L89.8,312.7 L90.2,313.0 L90.5,313.4 L90.8,313.7 L91.1,314.0 L91.4,314.3 L91.7,314.5 L92.0,314.8 L92.3,315.0 L92.6,315.2 L92.9,315.5 L93.2,315.6 L93.5,315.8 L93.8,316.0 L94.1,316.2 L94.4,316.3 L94.7,316.5 L95.0,316.6 L95.3,316.7 L95.6,316.9 L95.9,317.0 L96.2,317.2 L97.4,317.7 L98.6,318.3 L99.8,318.9 L101.0,319.3 L102.2,319.7 L103.4,320.0 L104.6,320.2 L105.8,320.4 L107.0,320.5 L108.3,320.7 L109.5,320.9 L110.7,321.0 L111.9,321.2 L113.1,321.4 L114.3,321.5 L115.5,321.7 L116.7,321.8 L117.9,322.0 L119.1,322.2 L120.3,322.3 L121.5,322.5 L122.7,322.6 L123.9,322.7 L125.2,322.8 L126.4,323.0 L127.6,323.1 L128.8,323.2 L130.0,323.3 L131.2,323.5 L132.4,323.7 L133.6,324.0 L134.8,324.3 L136.0,324.6 L137.2,324.9 L138.4,325.2 L139.6,325.5 L140.8,325.8 L142.1,326.1 L143.3,326.4 L144.5,326.6 L145.7,326.8 L146.9,327.0 L148.1,327.2 L149.3,327.3 L150.5,327.5 L151.7,327.6 L152.9,327.7 L154.1,327.9 L155.3,328.0 L156.5,328.1 L157.7,328.2 L159.0,328.3 L160.2,328.4 L161.4,328.5 L162.6,328.6 L163.8,328.7 L165.0,328.7 L166.2,328.8 L167.4,328.8 L168.6,328.9 L169.8,328.9 L171.0,329.0 L172.2,329.0 L173.4,329.1 L174.6,329.1 L175.9,329.1 L177.1,329.2 L178.3,329.2 L179.5,329.2 L180.7,329.3 L181.9,329.3 L183.1,329.3 L184.3,329.4 L185.5,329.4 L186.7,329.4 L187.9,329.4 L189.1,329.5 L190.3,329.5 L191.5,329.5 L192.7,329.5 L194.0,329.6 L195.2,329.6 L196.4,329.6 L197.6,329.6 L198.8,329.6 L200.0,329.7 L201.2,329.7 L202.4,329.7 L203.6,329.7 L204.8,329.8 L206.0,329.8 L207.2,329.8 L208.4,329.8 L209.6,329.8 L210.9,329.9 L212.1,329.9 L213.3,329.9 L214.5,329.9 L215.7,329.9 L216.9,329.9 L218.1,329.9 L219.3,329.9 L220.5,329.9 L221.7,330.0 L222.9,330.0 L224.1,330.0 L225.3,330.0 L226.5,330.0 L227.8,330.0 L229.0,330.0 L230.2,330.0 L231.4,330.0 L232.6,330.0 L233.8,330.0 L235.0,330.0 L236.2,330.0 L237.4,330.1 L238.6,330.1 L239.8,330.1 L241.0,330.1 L242.2,330.1 L243.4,330.1 L244.7,330.1 L245.9,330.1 L247.1,330.1 L248.3,330.1 L249.5,330.1 L250.7,330.1 L251.9,330.1 L253.1,330.2" fill="none" stroke="#f4f030" stroke-opacity="0.5" stroke-width="6" stroke-linejoin="round" clip-path="url(#f2)"/>
<path d="M29.2,146.6 L29.5,166.8 L29.8,184.5 L30.1,197.1 L30.4,206.9 L30.7,214.7 L31.0,220.2 L31.3,223.3 L31.6,225.5 L31.9,227.0 L32.2,228.0 L32.5,228.8 L32.8,229.4 L33.1,229.8 L33.4,230.2 L33.7,230.5 L34.0,230.7 L34.3,230.9 L34.6,231.0 L34.9,231.1 L35.2,231.2 L35.5,231.3 L35.8,231.4 L36.1,231.4 L36.4,231.5 L36.7,231.6 L37.0,231.6 L37.3,231.7 L37.6,231.7 L37.9,231.8 L38.2,231.8 L38.6,231.9 L38.9,232.0 L39.2,232.2 L39.5,232.4 L39.8,232.6 L40.1,232.9 L40.4,233.2 L40.7,233.4 L41.0,233.7 L41.3,234.0 L41.6,234.3 L41.9,234.6 L42.2,234.8 L42.5,235.1 L42.8,235.4 L43.1,235.7 L43.4,236.0 L43.7,236.2 L44.0,236.5 L44.3,236.7 L44.6,237.0 L44.9,237.1 L45.2,237.3 L45.5,237.5 L45.8,237.7 L46.1,237.9 L46.4,238.0 L46.7,238.2 L47.0,238.3 L47.3,238.3 L47.6,238.4 L47.9,238.4 L48.2,238.4 L48.5,238.4 L48.8,238.4 L49.1,238.3 L49.4,238.3 L49.7,238.3 L50.0,238.2 L50.3,238.2 L50.6,238.2 L50.9,238.3 L51.2,238.4 L51.5,238.6 L51.8,238.8 L52.1,239.1 L52.4,239.4 L52.7,239.8 L53.0,240.3 L53.3,240.9 L53.6,241.5 L53.9,242.2 L54.2,243.0 L54.5,243.7 L54.8,244.6 L55.1,245.5 L55.4,246.6 L55.8,248.0 L56.1,249.6 L56.4,251.3 L56.7,253.1 L57.0,254.7 L57.3,256.2 L57.6,257.7 L57.9,259.2 L58.2,260.6 L58.5,261.9 L58.8,263.1 L59.1,264.1 L59.4,265.1 L59.7,265.9 L60.0,266.7 L60.3,267.3 L60.6,267.9 L60.9,268.4 L61.2,268.8 L61.5,269.2 L61.8,269.6 L62.1,269.9 L62.4,270.1 L62.7,270.3 L63.0,270.5 L63.3,270.5 L63.6,270.5 L63.9,270.5 L64.2,270.4 L64.5,270.2 L64.8,270.0 L65.1,269.7 L65.4,269.3 L65.7,268.8 L66.0,268.3 L66.3,267.7 L66.6,267.0 L66.9,266.3 L67.2,265.7 L67.5,265.1 L67.8,264.6 L68.1,264.1 L68.4,263.7 L68.7,263.3 L69.0,262.8 L69.3,262.4 L69.6,262.0 L69.9,261.7 L70.2,261.3 L70.5,261.0 L70.8,260.7 L71.1,260.3 L71.4,260.0 L71.7,259.6 L72.0,259.2 L72.3,258.6 L72.6,257.9 L73.0,257.2 L73.3,256.5 L73.6,255.8 L73.9,255.2 L74.2,254.6 L74.5,254.3 L74.8,254.1 L75.1,254.1 L75.4,254.2 L75.7,254.3 L76.0,254.5 L76.3,254.8 L76.6,255.1 L76.9,255.4 L77.2,255.9 L77.5,256.6 L77.8,257.3 L78.1,258.0 L78.4,258.6 L78.7,259.0 L79.0,259.0 L79.3,258.7 L79.6,258.1 L79.9,257.4 L80.2,256.7 L80.5,256.0 L80.8,255.2 L81.1,254.4 L81.4,253.7 L81.7,253.3 L82.0,253.4 L82.3,254.2 L82.6,255.3 L82.9,256.6 L83.2,258.4 L83.5,260.8 L83.8,263.8 L84.1,268.9 L84.4,275.6 L84.7,281.4 L85.0,286.6 L85.3,291.0 L85.6,294.4 L85.9,297.3 L86.2,299.8 L86.5,302.0 L86.8,304.0 L87.1,305.7 L87.4,307.0 L87.7,308.2 L88.0,309.1 L88.3,309.8 L88.6,310.5 L88.9,311.1 L89.2,311.6 L89.5,312.1 L89.8,312.5 L90.2,312.8 L90.5,313.2 L90.8,313.5 L91.1,313.8 L91.4,314.0 L91.7,314.3 L92.0,314.5 L92.3,314.8 L92.6,315.0 L92.9,315.2 L93.2,315.4 L93.5,315.6 L93.8,315.7 L94.1,315.9 L94.4,316.1 L94.7,316.2 L95.0,316.4 L95.3,316.5 L95.6,316.6 L95.9,316.8 L96.2,316.9 L97.4,317.5 L98.6,318.0 L99.8,318.6 L101.0,319.0 L102.2,319.4 L103.4,319.7 L104.6,319.9 L105.8,320.1 L107.0,320.3 L108.3,320.5 L109.5,320.7 L110.7,320.8 L111.9,321.0 L113.1,321.2 L114.3,321.4 L115.5,321.6 L116.7,321.9 L117.9,322.1 L119.1,322.3 L120.3,322.5 L121.5,322.7 L122.7,322.9 L123.9,323.1 L125.2,323.2 L126.4,323.4 L127.6,323.5 L128.8,323.7 L130.0,323.9 L131.2,324.1 L132.4,324.3 L133.6,324.6 L134.8,324.9 L136.0,325.2 L137.2,325.5 L138.4,325.8 L139.6,326.1 L140.8,326.4 L142.1,326.7 L143.3,326.9 L144.5,327.2 L145.7,327.4 L146.9,327.6 L148.1,327.7 L149.3,327.8 L150.5,328.0 L151.7,328.1 L152.9,328.2 L154.1,328.3 L155.3,328.4 L156.5,328.5 L157.7,328.6 L159.0,328.7 L160.2,328.8 L161.4,328.9 L162.6,329.0 L163.8,329.0 L165.0,329.1 L166.2,329.1 L167.4,329.2 L168.6,329.2 L169.8,329.3 L171.0,329.3 L172.2,329.4 L173.4,329.4 L174.6,329.5 L175.9,329.5 L177.1,329.5 L178.3,329.6 L179.5,329.6 L180.7,329.7 L181.9,329.7 L183.1,329.7 L184.3,329.7 L185.5,329.8 L186.7,329.8 L187.9,329.8 L189.1,329.8 L190.3,329.9 L191.5,329.9 L192.7,329.9 L194.0,329.9 L195.2,330.0 L196.4,330.0 L197.6,330.0 L198.8,330.0 L200.0,330.1 L201.2,330.1 L202.4,330.1 L203.6,330.1 L204.8,330.2 L206.0,330.2 L207.2,330.2 L208.4,330.2 L209.6,330.2 L210.9,330.2 L212.1,330.2 L213.3,330.3 L214.5,330.3 L215.7,330.3 L216.9,330.3 L218.1,330.3 L219.3,330.3 L220.5,330.3 L221.7,330.3 L222.9,330.3 L224.1,330.3 L225.3,330.4 L226.5,330.4 L227.8,330.4 L229.0,330.4 L230.2,330.4 L231.4,330.4 L232.6,330.4 L233.8,330.4 L235.0,330.4 L236.2,330.4 L237.4,330.4 L238.6,330.4 L239.8,330.4 L241.0,330.4 L242.2,330.4 L243.4,330.5 L244.7,330.5 L245.9,330.5 L247.1,330.5 L248.3,330.5 L249.5,330.5 L250.7,330.5 L251.9,330.5 L253.1,330.5" fill="none" stroke="#320e0c" stroke-width="1.0" stroke-linejoin="round"/>
<path d="M29.2,146.6 L29.5,166.5 L29.8,183.9 L30.1,196.1 L30.4,205.5 L30.7,212.9 L31.0,218.3 L31.3,221.3 L31.6,223.5 L31.9,225.1 L32.2,226.1 L32.5,227.0 L32.8,227.6 L33.1,228.1 L33.4,228.4 L33.7,228.7 L34.0,229.0 L34.3,229.2 L34.6,229.3 L34.9,229.4 L35.2,229.5 L35.5,229.6 L35.8,229.7 L36.1,229.7 L36.4,229.8 L36.7,229.8 L37.0,229.9 L37.3,229.9 L37.6,230.0 L37.9,230.1 L38.2,230.1 L38.6,230.2 L38.9,230.3 L39.2,230.5 L39.5,230.8 L39.8,231.0 L40.1,231.3 L40.4,231.6 L40.7,232.0 L41.0,232.3 L41.3,232.6 L41.6,232.9 L41.9,233.2 L42.2,233.5 L42.5,233.8 L42.8,234.2 L43.1,234.5 L43.4,234.8 L43.7,235.1 L44.0,235.4 L44.3,235.7 L44.6,236.0 L44.9,236.2 L45.2,236.4 L45.5,236.6 L45.8,236.8 L46.1,237.1 L46.4,237.2 L46.7,237.4 L47.0,237.5 L47.3,237.5 L47.6,237.6 L47.9,237.6 L48.2,237.5 L48.5,237.5 L48.8,237.5 L49.1,237.4 L49.4,237.4 L49.7,237.3 L50.0,237.2 L50.3,237.1 L50.6,237.1 L50.9,237.1 L51.2,237.2 L51.5,237.4 L51.8,237.6 L52.1,237.9 L52.4,238.2 L52.7,238.5 L53.0,239.0 L53.3,239.5 L53.6,240.2 L53.9,240.9 L54.2,241.6 L54.5,242.4 L54.8,243.3 L55.1,244.2 L55.4,245.3 L55.8,246.6 L56.1,248.2 L56.4,249.9 L56.7,251.6 L57.0,253.2 L57.3,254.8 L57.6,256.4 L57.9,258.0 L58.2,259.5 L58.5,261.0 L58.8,262.3 L59.1,263.5 L59.4,264.5 L59.7,265.4 L60.0,266.3 L60.3,267.0 L60.6,267.6 L60.9,268.1 L61.2,268.7 L61.5,269.1 L61.8,269.5 L62.1,269.9 L62.4,270.2 L62.7,270.4 L63.0,270.6 L63.3,270.7 L63.6,270.8 L63.9,270.8 L64.2,270.7 L64.5,270.5 L64.8,270.3 L65.1,270.1 L65.4,269.7 L65.7,269.2 L66.0,268.7 L66.3,268.0 L66.6,267.4 L66.9,266.7 L67.2,266.1 L67.5,265.5 L67.8,265.0 L68.1,264.5 L68.4,264.1 L68.7,263.6 L69.0,263.2 L69.3,262.8 L69.6,262.4 L69.9,262.0 L70.2,261.6 L70.5,261.3 L70.8,260.9 L71.1,260.6 L71.4,260.2 L71.7,259.8 L72.0,259.3 L72.3,258.7 L72.6,258.0 L73.0,257.2 L73.3,256.4 L73.6,255.7 L73.9,255.0 L74.2,254.5 L74.5,254.1 L74.8,253.9 L75.1,253.9 L75.4,254.0 L75.7,254.1 L76.0,254.3 L76.3,254.5 L76.6,254.8 L76.9,255.2 L77.2,255.6 L77.5,256.2 L77.8,256.9 L78.1,257.6 L78.4,258.1 L78.7,258.4 L79.0,258.3 L79.3,257.9 L79.6,257.3 L79.9,256.7 L80.2,255.9 L80.5,255.1 L80.8,254.3 L81.1,253.4 L81.4,252.7 L81.7,252.3 L82.0,252.4 L82.3,253.2 L82.6,254.4 L82.9,255.8 L83.2,257.7 L83.5,260.2 L83.8,263.3 L84.1,268.6 L84.4,275.5 L84.7,281.3 L85.0,286.5 L85.3,290.9 L85.6,294.3 L85.9,297.2 L86.2,299.7 L86.5,301.9 L86.8,303.9 L87.1,305.6 L87.4,306.9 L87.7,308.1 L88.0,309.0 L88.3,309.7 L88.6,310.4 L88.9,311.0 L89.2,311.5 L89.5,312.0 L89.8,312.4 L90.2,312.7 L90.5,313.1 L90.8,313.4 L91.1,313.7 L91.4,313.9 L91.7,314.2 L92.0,314.4 L92.3,314.7 L92.6,314.9 L92.9,315.1 L93.2,315.3 L93.5,315.5 L93.8,315.6 L94.1,315.8 L94.4,316.0 L94.7,316.1 L95.0,316.2 L95.3,316.4 L95.6,316.5 L95.9,316.7 L96.2,316.8 L97.4,317.4 L98.6,317.9 L99.8,318.4 L101.0,318.9 L102.2,319.3 L103.4,319.6 L104.6,319.8 L105.8,320.0 L107.0,320.2 L108.3,320.4 L109.5,320.6 L110.7,320.8 L111.9,321.0 L113.1,321.2 L114.3,321.4 L115.5,321.6 L116.7,321.9 L117.9,322.1 L119.1,322.4 L120.3,322.6 L121.5,322.8 L122.7,323.0 L123.9,323.2 L125.2,323.4 L126.4,323.6 L127.6,323.7 L128.8,323.9 L130.0,324.1 L131.2,324.3 L132.4,324.6 L133.6,324.9 L134.8,325.2 L136.0,325.5 L137.2,325.8 L138.4,326.1 L139.6,326.4 L140.8,326.7 L142.1,326.9 L143.3,327.2 L144.5,327.4 L145.7,327.6 L146.9,327.8 L148.1,327.9 L149.3,328.1 L150.5,328.2 L151.7,328.3 L152.9,328.4 L154.1,328.5 L155.3,328.6 L156.5,328.7 L157.7,328.8 L159.0,328.9 L160.2,329.0 L161.4,329.0 L162.6,329.1 L163.8,329.2 L165.0,329.2 L166.2,329.3 L167.4,329.3 L168.6,329.4 L169.8,329.4 L171.0,329.5 L172.2,329.5 L173.4,329.6 L174.6,329.6 L175.9,329.7 L177.1,329.7 L178.3,329.7 L179.5,329.8 L180.7,329.8 L181.9,329.8 L183.1,329.9 L184.3,329.9 L185.5,329.9 L186.7,330.0 L187.9,330.0 L189.1,330.0 L190.3,330.0 L191.5,330.1 L192.7,330.1 L194.0,330.1 L195.2,330.1 L196.4,330.2 L197.6,330.2 L198.8,330.2 L200.0,330.2 L201.2,330.3 L202.4,330.3 L203.6,330.3 L204.8,330.3 L206.0,330.3 L207.2,330.4 L208.4,330.4 L209.6,330.4 L210.9,330.4 L212.1,330.4 L213.3,330.4 L214.5,330.4 L215.7,330.4 L216.9,330.5 L218.1,330.5 L219.3,330.5 L220.5,330.5 L221.7,330.5 L222.9,330.5 L224.1,330.5 L225.3,330.5 L226.5,330.5 L227.8,330.5 L229.0,330.5 L230.2,330.5 L231.4,330.5 L232.6,330.5 L233.8,330.6 L235.0,330.6 L236.2,330.6 L237.4,330.6 L238.6,330.6 L239.8,330.6 L241.0,330.6 L242.2,330.6 L243.4,330.6 L244.7,330.6 L245.9,330.6 L247.1,330.6 L248.3,330.6 L249.5,330.6 L250.7,330.6 L251.9,330.6 L253.1,330.7" fill="none" stroke="#2a0a08" stroke-width="1.0" stroke-linejoin="round"/>
<path d="M29.2,146.6 L29.5,166.1 L29.8,182.8 L30.1,194.2 L30.4,202.7 L30.7,209.4 L31.0,214.4 L31.3,217.4 L31.6,219.6 L31.9,221.3 L32.2,222.5 L32.5,223.4 L32.8,224.1 L33.1,224.6 L33.4,225.0 L33.7,225.3 L34.0,225.5 L34.3,225.7 L34.6,225.9 L34.9,226.0 L35.2,226.1 L35.5,226.2 L35.8,226.2 L36.1,226.3 L36.4,226.4 L36.7,226.4 L37.0,226.5 L37.3,226.5 L37.6,226.6 L37.9,226.6 L38.2,226.7 L38.6,226.8 L38.9,227.0 L39.2,227.2 L39.5,227.5 L39.8,227.8 L40.1,228.2 L40.4,228.6 L40.7,229.0 L41.0,229.4 L41.3,229.8 L41.6,230.2 L41.9,230.6 L42.2,230.9 L42.5,231.3 L42.8,231.7 L43.1,232.1 L43.4,232.5 L43.7,232.9 L44.0,233.3 L44.3,233.6 L44.6,234.0 L44.9,234.3 L45.2,234.5 L45.5,234.8 L45.8,235.1 L46.1,235.4 L46.4,235.6 L46.7,235.8 L47.0,236.0 L47.3,236.0 L47.6,236.0 L47.9,235.9 L48.2,235.9 L48.5,235.8 L48.8,235.7 L49.1,235.6 L49.4,235.4 L49.7,235.3 L50.0,235.1 L50.3,234.9 L50.6,234.8 L50.9,234.7 L51.2,234.8 L51.5,234.9 L51.8,235.1 L52.1,235.4 L52.4,235.6 L52.7,235.9 L53.0,236.4 L53.3,236.9 L53.6,237.6 L53.9,238.3 L54.2,239.0 L54.5,239.8 L54.8,240.7 L55.1,241.6 L55.4,242.7 L55.8,243.9 L56.1,245.4 L56.4,247.0 L56.7,248.6 L57.0,250.3 L57.3,252.0 L57.6,253.8 L57.9,255.6 L58.2,257.4 L58.5,259.2 L58.8,260.8 L59.1,262.2 L59.4,263.4 L59.7,264.5 L60.0,265.4 L60.3,266.2 L60.6,267.0 L60.9,267.7 L61.2,268.4 L61.5,268.9 L61.8,269.4 L62.1,269.9 L62.4,270.3 L62.7,270.6 L63.0,270.9 L63.3,271.1 L63.6,271.2 L63.9,271.3 L64.2,271.3 L64.5,271.2 L64.8,271.0 L65.1,270.7 L65.4,270.3 L65.7,269.9 L66.0,269.4 L66.3,268.8 L66.6,268.1 L66.9,267.5 L67.2,266.8 L67.5,266.3 L67.8,265.8 L68.1,265.3 L68.4,264.8 L68.7,264.4 L69.0,263.9 L69.3,263.5 L69.6,263.0 L69.9,262.6 L70.2,262.2 L70.5,261.8 L70.8,261.4 L71.1,261.0 L71.4,260.6 L71.7,260.1 L72.0,259.5 L72.3,258.8 L72.6,258.0 L73.0,257.2 L73.3,256.3 L73.6,255.5 L73.9,254.8 L74.2,254.2 L74.5,253.8 L74.8,253.6 L75.1,253.6 L75.4,253.6 L75.7,253.7 L76.0,253.9 L76.3,254.1 L76.6,254.3 L76.9,254.6 L77.2,255.1 L77.5,255.6 L77.8,256.2 L78.1,256.7 L78.4,257.0 L78.7,257.2 L79.0,256.9 L79.3,256.5 L79.6,255.8 L79.9,255.1 L80.2,254.3 L80.5,253.4 L80.8,252.4 L81.1,251.4 L81.4,250.6 L81.7,250.2 L82.0,250.3 L82.3,251.3 L82.6,252.6 L82.9,254.2 L83.2,256.3 L83.5,259.0 L83.8,262.3 L84.1,267.9 L84.4,275.1 L84.7,281.2 L85.0,286.4 L85.3,290.7 L85.6,294.1 L85.9,297.0 L86.2,299.5 L86.5,301.7 L86.8,303.7 L87.1,305.3 L87.4,306.7 L87.7,307.8 L88.0,308.8 L88.3,309.5 L88.6,310.2 L88.9,310.8 L89.2,311.4 L89.5,311.8 L89.8,312.2 L90.2,312.6 L90.5,312.9 L90.8,313.2 L91.1,313.5 L91.4,313.8 L91.7,314.0 L92.0,314.2 L92.3,314.5 L92.6,314.7 L92.9,314.9 L93.2,315.1 L93.5,315.3 L93.8,315.4 L94.1,315.6 L94.4,315.7 L94.7,315.9 L95.0,316.0 L95.3,316.2 L95.6,316.3 L95.9,316.4 L96.2,316.6 L97.4,317.1 L98.6,317.7 L99.8,318.2 L101.0,318.6 L102.2,319.0 L103.4,319.3 L104.6,319.5 L105.8,319.7 L107.0,320.0 L108.3,320.2 L109.5,320.4 L110.7,320.6 L111.9,320.8 L113.1,321.1 L114.3,321.3 L115.5,321.6 L116.7,321.9 L117.9,322.2 L119.1,322.5 L120.3,322.8 L121.5,323.0 L122.7,323.3 L123.9,323.5 L125.2,323.7 L126.4,323.9 L127.6,324.1 L128.8,324.3 L130.0,324.5 L131.2,324.8 L132.4,325.1 L133.6,325.4 L134.8,325.7 L136.0,326.0 L137.2,326.3 L138.4,326.6 L139.6,326.9 L140.8,327.2 L142.1,327.4 L143.3,327.7 L144.5,327.9 L145.7,328.1 L146.9,328.2 L148.1,328.4 L149.3,328.5 L150.5,328.6 L151.7,328.7 L152.9,328.8 L154.1,328.9 L155.3,329.0 L156.5,329.0 L157.7,329.1 L159.0,329.2 L160.2,329.3 L161.4,329.3 L162.6,329.4 L163.8,329.5 L165.0,329.5 L166.2,329.6 L167.4,329.6 L168.6,329.7 L169.8,329.8 L171.0,329.8 L172.2,329.9 L173.4,329.9 L174.6,329.9 L175.9,330.0 L177.1,330.0 L178.3,330.1 L179.5,330.1 L180.7,330.1 L181.9,330.2 L183.1,330.2 L184.3,330.2 L185.5,330.3 L186.7,330.3 L187.9,330.3 L189.1,330.3 L190.3,330.4 L191.5,330.4 L192.7,330.4 L194.0,330.4 L195.2,330.5 L196.4,330.5 L197.6,330.5 L198.8,330.5 L200.0,330.6 L201.2,330.6 L202.4,330.6 L203.6,330.6 L204.8,330.6 L206.0,330.7 L207.2,330.7 L208.4,330.7 L209.6,330.7 L210.9,330.7 L212.1,330.7 L213.3,330.7 L214.5,330.8 L215.7,330.8 L216.9,330.8 L218.1,330.8 L219.3,330.8 L220.5,330.8 L221.7,330.8 L222.9,330.8 L224.1,330.8 L225.3,330.8 L226.5,330.8 L227.8,330.8 L229.0,330.8 L230.2,330.8 L231.4,330.9 L232.6,330.9 L233.8,330.9 L235.0,330.9 L236.2,330.9 L237.4,330.9 L238.6,330.9 L239.8,330.9 L241.0,330.9 L242.2,330.9 L243.4,330.9 L244.7,330.9 L245.9,330.9 L247.1,330.9 L248.3,330.9 L249.5,330.9 L250.7,330.9 L251.9,331.0 L253.1,331.0" fill="none" stroke="#300c0a" stroke-width="1.0" stroke-linejoin="round"/>
<path d="M29.2,146.6 L29.5,165.7 L29.8,181.9 L30.1,192.5 L30.4,200.2 L30.7,206.3 L31.0,211.0 L31.3,214.1 L31.6,216.2 L31.9,218.0 L32.2,219.3 L32.5,220.4 L32.8,221.1 L33.1,221.6 L33.4,222.0 L33.7,222.3 L34.0,222.5 L34.3,222.8 L34.6,222.9 L34.9,223.1 L35.2,223.1 L35.5,223.2 L35.8,223.3 L36.1,223.3 L36.4,223.4 L36.7,223.4 L37.0,223.5 L37.3,223.5 L37.6,223.6 L37.9,223.6 L38.2,223.7 L38.6,223.9 L38.9,224.1 L39.2,224.3 L39.5,224.7 L39.8,225.1 L40.1,225.5 L40.4,226.0 L40.7,226.5 L41.0,226.9 L41.3,227.4 L41.6,227.8 L41.9,228.3 L42.2,228.7 L42.5,229.1 L42.8,229.6 L43.1,230.1 L43.4,230.6 L43.7,231.0 L44.0,231.5 L44.3,231.9 L44.6,232.3 L44.9,232.6 L45.2,232.9 L45.5,233.3 L45.8,233.7 L46.1,234.0 L46.4,234.3 L46.7,234.5 L47.0,234.6 L47.3,234.7 L47.6,234.6 L47.9,234.5 L48.2,234.4 L48.5,234.3 L48.8,234.1 L49.1,234.0 L49.4,233.8 L49.7,233.5 L50.0,233.3 L50.3,233.0 L50.6,232.8 L50.9,232.7 L51.2,232.7 L51.5,232.8 L51.8,233.0 L52.1,233.2 L52.4,233.4 L52.7,233.7 L53.0,234.1 L53.3,234.6 L53.6,235.3 L53.9,236.0 L54.2,236.7 L54.5,237.5 L54.8,238.4 L55.1,239.4 L55.4,240.4 L55.8,241.6 L56.1,243.0 L56.4,244.4 L56.7,246.0 L57.0,247.7 L57.3,249.6 L57.6,251.6 L57.9,253.6 L58.2,255.6 L58.5,257.6 L58.8,259.5 L59.1,261.1 L59.4,262.4 L59.7,263.6 L60.0,264.7 L60.3,265.6 L60.6,266.5 L60.9,267.3 L61.2,268.1 L61.5,268.8 L61.8,269.4 L62.1,269.9 L62.4,270.3 L62.7,270.8 L63.0,271.1 L63.3,271.4 L63.6,271.6 L63.9,271.8 L64.2,271.8 L64.5,271.7 L64.8,271.5 L65.1,271.2 L65.4,270.9 L65.7,270.5 L66.0,270.1 L66.3,269.5 L66.6,268.8 L66.9,268.1 L67.2,267.5 L67.5,266.9 L67.8,266.4 L68.1,265.9 L68.4,265.5 L68.7,265.0 L69.0,264.5 L69.3,264.1 L69.6,263.6 L69.9,263.2 L70.2,262.7 L70.5,262.3 L70.8,261.8 L71.1,261.4 L71.4,260.9 L71.7,260.4 L72.0,259.7 L72.3,258.9 L72.6,258.1 L73.0,257.2 L73.3,256.3 L73.6,255.4 L73.9,254.6 L74.2,254.0 L74.5,253.5 L74.8,253.3 L75.1,253.3 L75.4,253.3 L75.7,253.4 L76.0,253.5 L76.3,253.6 L76.6,253.8 L76.9,254.2 L77.2,254.6 L77.5,255.0 L77.8,255.5 L78.1,255.9 L78.4,256.1 L78.7,256.1 L79.0,255.8 L79.3,255.2 L79.6,254.5 L79.9,253.7 L80.2,252.9 L80.5,251.9 L80.8,250.8 L81.1,249.7 L81.4,248.8 L81.7,248.4 L82.0,248.5 L82.3,249.6 L82.6,251.0 L82.9,252.8 L83.2,255.0 L83.5,258.0 L83.8,261.5 L84.1,267.4 L84.4,274.9 L84.7,281.0 L85.0,286.2 L85.3,290.5 L85.6,293.9 L85.9,296.8 L86.2,299.3 L86.5,301.5 L86.8,303.5 L87.1,305.2 L87.4,306.5 L87.7,307.6 L88.0,308.6 L88.3,309.4 L88.6,310.1 L88.9,310.7 L89.2,311.2 L89.5,311.7 L89.8,312.0 L90.2,312.4 L90.5,312.7 L90.8,313.0 L91.1,313.3 L91.4,313.6 L91.7,313.8 L92.0,314.1 L92.3,314.3 L92.6,314.5 L92.9,314.7 L93.2,314.9 L93.5,315.1 L93.8,315.2 L94.1,315.4 L94.4,315.6 L94.7,315.7 L95.0,315.8 L95.3,316.0 L95.6,316.1 L95.9,316.3 L96.2,316.4 L97.4,316.9 L98.6,317.5 L99.8,318.0 L101.0,318.4 L102.2,318.8 L103.4,319.1 L104.6,319.3 L105.8,319.5 L107.0,319.8 L108.3,320.0 L109.5,320.2 L110.7,320.5 L111.9,320.7 L113.1,321.0 L114.3,321.3 L115.5,321.6 L116.7,321.9 L117.9,322.3 L119.1,322.6 L120.3,322.9 L121.5,323.2 L122.7,323.5 L123.9,323.8 L125.2,324.0 L126.4,324.2 L127.6,324.4 L128.8,324.7 L130.0,324.9 L131.2,325.2 L132.4,325.5 L133.6,325.8 L134.8,326.1 L136.0,326.4 L137.2,326.7 L138.4,327.1 L139.6,327.4 L140.8,327.6 L142.1,327.9 L143.3,328.1 L144.5,328.3 L145.7,328.5 L146.9,328.6 L148.1,328.7 L149.3,328.9 L150.5,328.9 L151.7,329.0 L152.9,329.1 L154.1,329.2 L155.3,329.3 L156.5,329.3 L157.7,329.4 L159.0,329.5 L160.2,329.5 L161.4,329.6 L162.6,329.7 L163.8,329.7 L165.0,329.8 L166.2,329.8 L167.4,329.9 L168.6,330.0 L169.8,330.0 L171.0,330.1 L172.2,330.1 L173.4,330.2 L174.6,330.2 L175.9,330.3 L177.1,330.3 L178.3,330.3 L179.5,330.4 L180.7,330.4 L181.9,330.4 L183.1,330.5 L184.3,330.5 L185.5,330.5 L186.7,330.6 L187.9,330.6 L189.1,330.6 L190.3,330.7 L191.5,330.7 L192.7,330.7 L194.0,330.7 L195.2,330.8 L196.4,330.8 L197.6,330.8 L198.8,330.8 L200.0,330.9 L201.2,330.9 L202.4,330.9 L203.6,330.9 L204.8,330.9 L206.0,330.9 L207.2,331.0 L208.4,331.0 L209.6,331.0 L210.9,331.0 L212.1,331.0 L213.3,331.0 L214.5,331.0 L215.7,331.0 L216.9,331.0 L218.1,331.1 L219.3,331.1 L220.5,331.1 L221.7,331.1 L222.9,331.1 L224.1,331.1 L225.3,331.1 L226.5,331.1 L227.8,331.1 L229.0,331.1 L230.2,331.1 L231.4,331.1 L232.6,331.1 L233.8,331.1 L235.0,331.1 L236.2,331.1 L237.4,331.1 L238.6,331.2 L239.8,331.2 L241.0,331.2 L242.2,331.2 L243.4,331.2 L244.7,331.2 L245.9,331.2 L247.1,331.2 L248.3,331.2 L249.5,331.2 L250.7,331.2 L251.9,331.2 L253.1,331.2" fill="none" stroke="#2a0a08" stroke-width="1.0" stroke-linejoin="round"/>
<path d="M29.2,146.6 L29.5,165.2 L29.8,180.8 L30.1,190.5 L30.4,197.5 L30.7,202.8 L31.0,207.1 L31.3,210.2 L31.6,212.3 L31.9,214.2 L32.2,215.7 L32.5,216.9 L32.8,217.6 L33.1,218.1 L33.4,218.5 L33.7,218.8 L34.0,219.1 L34.3,219.3 L34.6,219.5 L34.9,219.6 L35.2,219.7 L35.5,219.8 L35.8,219.9 L36.1,219.9 L36.4,220.0 L36.7,220.0 L37.0,220.0 L37.3,220.1 L37.6,220.1 L37.9,220.2 L38.2,220.3 L38.6,220.4 L38.9,220.7 L39.2,221.0 L39.5,221.4 L39.8,221.9 L40.1,222.4 L40.4,222.9 L40.7,223.5 L41.0,224.1 L41.3,224.6 L41.6,225.1 L41.9,225.6 L42.2,226.1 L42.5,226.6 L42.8,227.2 L43.1,227.7 L43.4,228.3 L43.7,228.8 L44.0,229.3 L44.3,229.8 L44.6,230.3 L44.9,230.7 L45.2,231.1 L45.5,231.5 L45.8,231.9 L46.1,232.3 L46.4,232.7 L46.7,232.9 L47.0,233.1 L47.3,233.1 L47.6,233.0 L47.9,232.9 L48.2,232.8 L48.5,232.6 L48.8,232.3 L49.1,232.1 L49.4,231.9 L49.7,231.5 L50.0,231.2 L50.3,230.8 L50.6,230.5 L50.9,230.3 L51.2,230.3 L51.5,230.4 L51.8,230.5 L52.1,230.7 L52.4,230.9 L52.7,231.2 L53.0,231.5 L53.3,232.0 L53.6,232.6 L53.9,233.4 L54.2,234.1 L54.5,234.9 L54.8,235.8 L55.1,236.7 L55.4,237.8 L55.8,238.9 L56.1,240.2 L56.4,241.5 L56.7,243.0 L57.0,244.7 L57.3,246.8 L57.6,249.0 L57.9,251.2 L58.2,253.5 L58.5,255.8 L58.8,258.0 L59.1,259.8 L59.4,261.3 L59.7,262.6 L60.0,263.8 L60.3,264.9 L60.6,265.9 L60.9,266.9 L61.2,267.8 L61.5,268.6 L61.8,269.3 L62.1,269.9 L62.4,270.4 L62.7,270.9 L63.0,271.4 L63.3,271.7 L63.6,272.0 L63.9,272.3 L64.2,272.4 L64.5,272.3 L64.8,272.1 L65.1,271.9 L65.4,271.6 L65.7,271.2 L66.0,270.8 L66.3,270.2 L66.6,269.6 L66.9,268.9 L67.2,268.3 L67.5,267.7 L67.8,267.2 L68.1,266.7 L68.4,266.2 L68.7,265.7 L69.0,265.2 L69.3,264.8 L69.6,264.3 L69.9,263.8 L70.2,263.3 L70.5,262.8 L70.8,262.4 L71.1,261.9 L71.4,261.3 L71.7,260.7 L72.0,260.0 L72.3,259.1 L72.6,258.1 L73.0,257.2 L73.3,256.2 L73.6,255.2 L73.9,254.4 L74.2,253.7 L74.5,253.2 L74.8,253.0 L75.1,253.0 L75.4,253.0 L75.7,253.0 L76.0,253.1 L76.3,253.2 L76.6,253.3 L76.9,253.6 L77.2,254.0 L77.5,254.4 L77.8,254.7 L78.1,255.0 L78.4,255.1 L78.7,254.9 L79.0,254.4 L79.3,253.7 L79.6,252.9 L79.9,252.2 L80.2,251.3 L80.5,250.1 L80.8,248.9 L81.1,247.7 L81.4,246.8 L81.7,246.3 L82.0,246.5 L82.3,247.6 L82.6,249.2 L82.9,251.1 L83.2,253.6 L83.5,256.8 L83.8,260.6 L84.1,266.7 L84.4,274.5 L84.7,280.8 L85.0,286.0 L85.3,290.3 L85.6,293.7 L85.9,296.6 L86.2,299.1 L86.5,301.3 L86.8,303.3 L87.1,304.9 L87.4,306.3 L87.7,307.4 L88.0,308.4 L88.3,309.2 L88.6,309.9 L88.9,310.5 L89.2,311.0 L89.5,311.5 L89.8,311.9 L90.2,312.2 L90.5,312.5 L90.8,312.8 L91.1,313.1 L91.4,313.4 L91.7,313.6 L92.0,313.9 L92.3,314.1 L92.6,314.3 L92.9,314.5 L93.2,314.7 L93.5,314.9 L93.8,315.0 L94.1,315.2 L94.4,315.3 L94.7,315.5 L95.0,315.6 L95.3,315.8 L95.6,315.9 L95.9,316.0 L96.2,316.2 L97.4,316.7 L98.6,317.2 L99.8,317.7 L101.0,318.2 L102.2,318.5 L103.4,318.8 L104.6,319.1 L105.8,319.3 L107.0,319.5 L108.3,319.8 L109.5,320.1 L110.7,320.3 L111.9,320.6 L113.1,320.9 L114.3,321.2 L115.5,321.6 L116.7,321.9 L117.9,322.3 L119.1,322.7 L120.3,323.1 L121.5,323.4 L122.7,323.8 L123.9,324.0 L125.2,324.3 L126.4,324.6 L127.6,324.8 L128.8,325.1 L130.0,325.4 L131.2,325.7 L132.4,326.0 L133.6,326.3 L134.8,326.6 L136.0,327.0 L137.2,327.3 L138.4,327.6 L139.6,327.9 L140.8,328.1 L142.1,328.4 L143.3,328.6 L144.5,328.8 L145.7,329.0 L146.9,329.1 L148.1,329.2 L149.3,329.3 L150.5,329.4 L151.7,329.4 L152.9,329.5 L154.1,329.6 L155.3,329.6 L156.5,329.7 L157.7,329.7 L159.0,329.8 L160.2,329.9 L161.4,329.9 L162.6,330.0 L163.8,330.0 L165.0,330.1 L166.2,330.1 L167.4,330.2 L168.6,330.3 L169.8,330.3 L171.0,330.4 L172.2,330.4 L173.4,330.5 L174.6,330.5 L175.9,330.6 L177.1,330.6 L178.3,330.7 L179.5,330.7 L180.7,330.7 L181.9,330.8 L183.1,330.8 L184.3,330.8 L185.5,330.9 L186.7,330.9 L187.9,330.9 L189.1,331.0 L190.3,331.0 L191.5,331.0 L192.7,331.0 L194.0,331.1 L195.2,331.1 L196.4,331.1 L197.6,331.1 L198.8,331.2 L200.0,331.2 L201.2,331.2 L202.4,331.2 L203.6,331.2 L204.8,331.3 L206.0,331.3 L207.2,331.3 L208.4,331.3 L209.6,331.3 L210.9,331.3 L212.1,331.3 L213.3,331.3 L214.5,331.3 L215.7,331.4 L216.9,331.4 L218.1,331.4 L219.3,331.4 L220.5,331.4 L221.7,331.4 L222.9,331.4 L224.1,331.4 L225.3,331.4 L226.5,331.4 L227.8,331.4 L229.0,331.4 L230.2,331.4 L231.4,331.4 L232.6,331.4 L233.8,331.4 L235.0,331.4 L236.2,331.5 L237.4,331.5 L238.6,331.5 L239.8,331.5 L241.0,331.5 L242.2,331.5 L243.4,331.5 L244.7,331.5 L245.9,331.5 L247.1,331.5 L248.3,331.5 L249.5,331.5 L250.7,331.5 L251.9,331.5 L253.1,331.5" fill="none" stroke="#240a02" stroke-width="1.7" stroke-linejoin="round"/>
<path d="M29.2,146.6 L29.5,167.3 L29.8,185.7 L30.1,199.4 L30.4,210.2 L30.7,218.9 L31.0,224.8 L31.3,227.9 L31.6,230.1 L31.9,231.5 L32.2,232.3 L32.5,232.9 L32.8,233.5 L33.1,233.9 L33.4,234.3 L33.7,234.6 L34.0,234.8 L34.3,234.9 L34.6,235.1 L34.9,235.2 L35.2,235.3 L35.5,235.3 L35.8,235.4 L36.1,235.5 L36.4,235.6 L36.7,235.6 L37.0,235.7 L37.3,235.7 L37.6,235.8 L37.9,235.8 L38.2,235.9 L38.6,235.9 L38.9,236.0 L39.2,236.1 L39.5,236.2 L39.8,236.4 L40.1,236.6 L40.4,236.7 L40.7,236.9 L41.0,237.1 L41.3,237.3 L41.6,237.5 L41.9,237.7 L42.2,237.9 L42.5,238.1 L42.8,238.3 L43.1,238.5 L43.4,238.7 L43.7,238.8 L44.0,239.0 L44.3,239.2 L44.6,239.3 L44.9,239.4 L45.2,239.5 L45.5,239.6 L45.8,239.7 L46.1,239.8 L46.4,239.9 L46.7,240.0 L47.0,240.1 L47.3,240.2 L47.6,240.2 L47.9,240.3 L48.2,240.4 L48.5,240.4 L48.8,240.5 L49.1,240.5 L49.4,240.6 L49.7,240.6 L50.0,240.7 L50.3,240.8 L50.6,240.9 L50.9,241.0 L51.2,241.2 L51.5,241.5 L51.8,241.7 L52.1,242.1 L52.4,242.4 L52.7,242.8 L53.0,243.4 L53.3,244.0 L53.6,244.6 L53.9,245.3 L54.2,246.1 L54.5,246.8 L54.8,247.7 L55.1,248.6 L55.4,249.7 L55.8,251.1 L56.1,252.9 L56.4,254.8 L56.7,256.6 L57.0,258.2 L57.3,259.6 L57.6,260.8 L57.9,262.0 L58.2,263.1 L58.5,264.0 L58.8,264.9 L59.1,265.7 L59.4,266.4 L59.7,267.1 L60.0,267.7 L60.3,268.2 L60.6,268.6 L60.9,268.9 L61.2,269.2 L61.5,269.4 L61.8,269.7 L62.1,269.9 L62.4,270.0 L62.7,270.1 L63.0,270.2 L63.3,270.1 L63.6,270.0 L63.9,269.9 L64.2,269.7 L64.5,269.5 L64.8,269.3 L65.1,269.0 L65.4,268.5 L65.7,268.0 L66.0,267.4 L66.3,266.7 L66.6,266.1 L66.9,265.4 L67.2,264.8 L67.5,264.2 L67.8,263.7 L68.1,263.3 L68.4,262.8 L68.7,262.4 L69.0,262.0 L69.3,261.6 L69.6,261.2 L69.9,260.9 L70.2,260.6 L70.5,260.3 L70.8,260.1 L71.1,259.8 L71.4,259.5 L71.7,259.2 L72.0,258.9 L72.3,258.4 L72.6,257.8 L73.0,257.2 L73.3,256.6 L73.6,256.0 L73.9,255.4 L74.2,255.0 L74.5,254.6 L74.8,254.4 L75.1,254.4 L75.4,254.6 L75.7,254.8 L76.0,255.0 L76.3,255.4 L76.6,255.7 L76.9,256.1 L77.2,256.6 L77.5,257.3 L77.8,258.2 L78.1,259.1 L78.4,259.8 L78.7,260.4 L79.0,260.6 L79.3,260.4 L79.6,259.9 L79.9,259.3 L80.2,258.6 L80.5,258.0 L80.8,257.4 L81.1,256.8 L81.4,256.2 L81.7,255.8 L82.0,255.9 L82.3,256.5 L82.6,257.4 L82.9,258.5 L83.2,260.0 L83.5,262.2 L83.8,264.9 L84.1,269.6 L84.4,276.0 L84.7,281.7 L85.0,286.9 L85.3,291.3 L85.6,294.7 L85.9,297.6 L86.2,300.1 L86.5,302.3 L86.8,304.3 L87.1,305.9 L87.4,307.3 L87.7,308.4 L88.0,309.3 L88.3,310.1 L88.6,310.7 L88.9,311.3 L89.2,311.8 L89.5,312.3 L89.8,312.7 L90.2,313.0 L90.5,313.4 L90.8,313.7 L91.1,314.0 L91.4,314.3 L91.7,314.5 L92.0,314.8 L92.3,315.0 L92.6,315.2 L92.9,315.5 L93.2,315.6 L93.5,315.8 L93.8,316.0 L94.1,316.2 L94.4,316.3 L94.7,316.5 L95.0,316.6 L95.3,316.7 L95.6,316.9 L95.9,317.0 L96.2,317.2 L97.4,317.7 L98.6,318.3 L99.8,318.9 L101.0,319.3 L102.2,319.7 L103.4,320.0 L104.6,320.2 L105.8,320.4 L107.0,320.5 L108.3,320.7 L109.5,320.9 L110.7,321.0 L111.9,321.2 L113.1,321.4 L114.3,321.5 L115.5,321.7 L116.7,321.8 L117.9,322.0 L119.1,322.2 L120.3,322.3 L121.5,322.5 L122.7,322.6 L123.9,322.7 L125.2,322.8 L126.4,323.0 L127.6,323.1 L128.8,323.2 L130.0,323.3 L131.2,323.5 L132.4,323.7 L133.6,324.0 L134.8,324.3 L136.0,324.6 L137.2,324.9 L138.4,325.2 L139.6,325.5 L140.8,325.8 L142.1,326.1 L143.3,326.4 L144.5,326.6 L145.7,326.8 L146.9,327.0 L148.1,327.2 L149.3,327.3 L150.5,327.5 L151.7,327.6 L152.9,327.7 L154.1,327.9 L155.3,328.0 L156.5,328.1 L157.7,328.2 L159.0,328.3 L160.2,328.4 L161.4,328.5 L162.6,328.6 L163.8,328.7 L165.0,328.7 L166.2,328.8 L167.4,328.8 L168.6,328.9 L169.8,328.9 L171.0,329.0 L172.2,329.0 L173.4,329.1 L174.6,329.1 L175.9,329.1 L177.1,329.2 L178.3,329.2 L179.5,329.2 L180.7,329.3 L181.9,329.3 L183.1,329.3 L184.3,329.4 L185.5,329.4 L186.7,329.4 L187.9,329.4 L189.1,329.5 L190.3,329.5 L191.5,329.5 L192.7,329.5 L194.0,329.6 L195.2,329.6 L196.4,329.6 L197.6,329.6 L198.8,329.6 L200.0,329.7 L201.2,329.7 L202.4,329.7 L203.6,329.7 L204.8,329.8 L206.0,329.8 L207.2,329.8 L208.4,329.8 L209.6,329.8 L210.9,329.9 L212.1,329.9 L213.3,329.9 L214.5,329.9 L215.7,329.9 L216.9,329.9 L218.1,329.9 L219.3,329.9 L220.5,329.9 L221.7,330.0 L222.9,330.0 L224.1,330.0 L225.3,330.0 L226.5,330.0 L227.8,330.0 L229.0,330.0 L230.2,330.0 L231.4,330.0 L232.6,330.0 L233.8,330.0 L235.0,330.0 L236.2,330.0 L237.4,330.1 L238.6,330.1 L239.8,330.1 L241.0,330.1 L242.2,330.1 L243.4,330.1 L244.7,330.1 L245.9,330.1 L247.1,330.1 L248.3,330.1 L249.5,330.1 L250.7,330.1 L251.9,330.1 L253.1,330.2" fill="none" stroke="#f0f018" stroke-width="2.4" stroke-linejoin="round"/>
</g>
<path d="M29.80,332.30 L29.80,195.50 L253.10,195.50 L253.10,332.30" fill="none" stroke="#333333" stroke-width="1.3"/>
<path d="M29.80,197.50 L29.80,332.30 L253.10,332.30" fill="none" stroke="#5e5438" stroke-width="1.2"/>
<line x1="41.87" y1="332.30" x2="41.87" y2="335.30" stroke="#333333" stroke-width="1"/>
<line x1="72.05" y1="332.30" x2="72.05" y2="337.30" stroke="#333333" stroke-width="1"/>
<text x="72.05" y="348.60" font-size="9.2" text-anchor="middle" fill="#1e1e1e">300</text>
<line x1="102.22" y1="332.30" x2="102.22" y2="335.30" stroke="#333333" stroke-width="1"/>
<line x1="132.40" y1="332.30" x2="132.40" y2="337.30" stroke="#333333" stroke-width="1"/>
<text x="132.40" y="348.60" font-size="9.2" text-anchor="middle" fill="#1e1e1e">400</text>
<line x1="162.57" y1="332.30" x2="162.57" y2="335.30" stroke="#333333" stroke-width="1"/>
<line x1="192.75" y1="332.30" x2="192.75" y2="337.30" stroke="#333333" stroke-width="1"/>
<text x="192.75" y="348.60" font-size="9.2" text-anchor="middle" fill="#1e1e1e">500</text>
<line x1="222.92" y1="332.30" x2="222.92" y2="335.30" stroke="#333333" stroke-width="1"/>
<line x1="253.10" y1="332.30" x2="253.10" y2="337.30" stroke="#333333" stroke-width="1"/>
<text x="253.10" y="348.60" font-size="9.2" text-anchor="middle" fill="#1e1e1e">600</text>
<line x1="24.80" y1="332.30" x2="29.80" y2="332.30" stroke="#333333" stroke-width="1"/>
<text x="23.10" y="335.60" font-size="9.2" text-anchor="end" fill="#1e1e1e">0</text>
<line x1="26.80" y1="322.53" x2="29.80" y2="322.53" stroke="#333333" stroke-width="1"/>
<line x1="24.80" y1="312.76" x2="29.80" y2="312.76" stroke="#333333" stroke-width="1"/>
<text x="23.10" y="316.06" font-size="9.2" text-anchor="end" fill="#1e1e1e">0.2</text>
<line x1="26.80" y1="302.99" x2="29.80" y2="302.99" stroke="#333333" stroke-width="1"/>
<line x1="24.80" y1="293.21" x2="29.80" y2="293.21" stroke="#333333" stroke-width="1"/>
<text x="23.10" y="296.51" font-size="9.2" text-anchor="end" fill="#1e1e1e">0.4</text>
<line x1="26.80" y1="283.44" x2="29.80" y2="283.44" stroke="#333333" stroke-width="1"/>
<line x1="24.80" y1="273.67" x2="29.80" y2="273.67" stroke="#333333" stroke-width="1"/>
<text x="23.10" y="276.97" font-size="9.2" text-anchor="end" fill="#1e1e1e">0.6</text>
<line x1="26.80" y1="263.90" x2="29.80" y2="263.90" stroke="#333333" stroke-width="1"/>
<line x1="24.80" y1="254.13" x2="29.80" y2="254.13" stroke="#333333" stroke-width="1"/>
<text x="23.10" y="257.43" font-size="9.2" text-anchor="end" fill="#1e1e1e">0.8</text>
<line x1="26.80" y1="244.36" x2="29.80" y2="244.36" stroke="#333333" stroke-width="1"/>
<line x1="24.80" y1="234.59" x2="29.80" y2="234.59" stroke="#333333" stroke-width="1"/>
<text x="23.10" y="237.89" font-size="9.2" text-anchor="end" fill="#1e1e1e">1</text>
<line x1="26.80" y1="224.81" x2="29.80" y2="224.81" stroke="#333333" stroke-width="1"/>
<line x1="24.80" y1="215.04" x2="29.80" y2="215.04" stroke="#333333" stroke-width="1"/>
<text x="23.10" y="218.34" font-size="9.2" text-anchor="end" fill="#1e1e1e">1.2</text>
<line x1="26.80" y1="205.27" x2="29.80" y2="205.27" stroke="#333333" stroke-width="1"/>
<line x1="24.80" y1="195.50" x2="29.80" y2="195.50" stroke="#333333" stroke-width="1"/>
<text x="23.10" y="198.80" font-size="9.2" text-anchor="end" fill="#1e1e1e">1.4</text>
<text x="144.95" y="359.50" font-size="9" text-anchor="middle" fill="#222">Wavelength (nm)</text>
<text transform="translate(8.00,263.90) rotate(-90)" font-size="8.8" text-anchor="middle" fill="#222">Absorbance (a.u.)</text>
<line x1="191.3" y1="206.20" x2="203.5" y2="206.20" stroke="#7a3a14" stroke-width="2.0"/>
<text x="208.1" y="208.85" font-size="8" letter-spacing="0" word-spacing="0.5" fill="#1e1e1e" stroke="#1e1e1e" stroke-width="0.12">t = 0 min</text>
<line x1="191.3" y1="214.50" x2="203.5" y2="214.50" stroke="#484848" stroke-width="1.2"/>
<text x="208.1" y="217.25" font-size="8" letter-spacing="0" word-spacing="0.5" fill="#1e1e1e" stroke="#1e1e1e" stroke-width="0.12">t = 1 min</text>
<line x1="191.3" y1="223.50" x2="203.5" y2="223.50" stroke="#56625c" stroke-width="1.2"/>
<text x="208.1" y="225.65" font-size="8" letter-spacing="0" word-spacing="0.5" fill="#1e1e1e" stroke="#1e1e1e" stroke-width="0.12">t = 6 min</text>
<line x1="191.3" y1="231.50" x2="203.5" y2="231.50" stroke="#404040" stroke-width="1.2"/>
<text x="208.1" y="234.05" font-size="8" letter-spacing="0" word-spacing="0.5" fill="#1e1e1e" stroke="#1e1e1e" stroke-width="0.12">t = 16 min</text>
<line x1="191.3" y1="239.50" x2="203.5" y2="239.50" stroke="#767676" stroke-width="1.2"/>
<text x="208.1" y="242.45" font-size="8" letter-spacing="0" word-spacing="0.5" fill="#1e1e1e" stroke="#1e1e1e" stroke-width="0.12">t = 36 min</text>
<line x1="191.3" y1="248.20" x2="203.5" y2="248.20" stroke="#eef040" stroke-width="2.0"/>
<text x="208.1" y="250.85" font-size="8" letter-spacing="0" word-spacing="0.5" fill="#1e1e1e" stroke="#1e1e1e" stroke-width="0.12">t = 60 min</text>
<path d="M63.4,202.5 L68.6,202.5 L68.6,227.1 L71.7,227.1 L65.90,234.4 L60.1,227.1 L63.4,227.1 Z" fill="url(#ga2)"/>
<path d="M141.7,321 L147.2,321 L147.2,297.6 L150.6,297.6 L144.4,289.4 L138,297.6 L141.7,297.6 Z" fill="#e6fb00"/>
<rect x="360.2" y="200.5" width="15.40" height="31.60" fill="#fde4f7"/>
<rect x="328.2" y="232.2" width="15.20" height="17.80" fill="#fdebf9"/>
<rect x="352.3" y="240.4" width="19.20" height="17.60" fill="#fdebf9"/>
<g clip-path="url(#c3)">
<path d="M313.6,213.2 L313.9,224.0 L314.2,233.1 L314.5,238.9 L314.8,243.1 L315.1,246.3 L315.4,248.9 L315.7,251.0 L316.0,252.8 L316.4,254.3 L316.7,255.2 L317.0,255.6 L317.3,255.8 L317.6,255.9 L317.9,255.9 L318.2,255.9 L318.5,255.8 L318.8,255.8 L319.1,255.8 L319.4,255.7 L319.7,255.7 L320.0,255.6 L320.4,255.6 L320.7,255.5 L321.0,255.4 L321.3,255.3 L321.6,255.3 L321.9,255.2 L322.2,255.2 L322.5,255.2 L322.8,255.2 L323.1,255.3 L323.4,255.4 L323.7,255.6 L324.0,255.7 L324.3,255.9 L324.7,256.0 L325.0,256.1 L325.3,256.3 L325.6,256.5 L325.9,256.8 L326.2,257.0 L326.5,257.1 L326.8,257.2 L327.1,257.3 L327.4,257.2 L327.7,257.1 L328.0,256.8 L328.3,256.5 L328.7,256.2 L329.0,255.8 L329.3,255.5 L329.6,255.2 L329.9,254.9 L330.2,254.6 L330.5,254.2 L330.8,253.9 L331.1,253.5 L331.4,253.2 L331.7,252.8 L332.0,252.4 L332.3,252.1 L332.7,251.7 L333.0,251.4 L333.3,251.0 L333.6,250.6 L333.9,250.2 L334.2,249.9 L334.5,249.7 L334.8,249.6 L335.1,249.5 L335.4,249.4 L335.7,249.3 L336.0,249.2 L336.3,249.1 L336.7,249.1 L337.0,249.2 L337.3,249.4 L337.6,249.6 L337.9,250.0 L338.2,250.4 L338.5,250.8 L338.8,251.2 L339.1,251.6 L339.4,252.0 L339.7,252.4 L340.0,252.8 L340.3,253.3 L340.7,253.7 L341.0,254.2 L341.3,254.8 L341.6,255.3 L341.9,255.9 L342.2,256.6 L342.5,257.3 L342.8,258.1 L343.1,258.8 L343.4,259.6 L343.7,260.4 L344.0,261.2 L344.3,261.9 L344.6,262.6 L345.0,263.1 L345.3,263.7 L345.6,264.3 L345.9,265.0 L346.2,265.6 L346.5,266.2 L346.8,266.7 L347.1,267.2 L347.4,267.7 L347.7,268.0 L348.0,268.2 L348.3,268.3 L348.6,268.3 L349.0,268.3 L349.3,268.2 L349.6,268.2 L349.9,268.1 L350.2,268.0 L350.5,267.9 L350.8,267.8 L351.1,267.6 L351.4,267.5 L351.7,267.2 L352.0,266.9 L352.3,266.5 L352.6,266.1 L353.0,265.7 L353.3,265.2 L353.6,264.8 L353.9,264.5 L354.2,264.1 L354.5,263.9 L354.8,263.6 L355.1,263.4 L355.4,263.1 L355.7,262.9 L356.0,262.7 L356.3,262.4 L356.6,262.2 L357.0,262.0 L357.3,261.7 L357.6,261.4 L357.9,261.1 L358.2,260.8 L358.5,260.4 L358.8,260.1 L359.1,259.7 L359.4,259.4 L359.7,259.2 L360.0,259.0 L360.3,259.0 L360.6,259.0 L361.0,259.2 L361.3,259.5 L361.6,259.8 L361.9,260.2 L362.2,260.5 L362.5,260.8 L362.8,261.1 L363.1,261.5 L363.4,261.8 L363.7,262.1 L364.0,262.2 L364.3,262.2 L364.6,262.0 L364.9,261.5 L365.3,261.0 L365.6,260.4 L365.9,260.0 L366.2,259.5 L366.5,259.0 L366.8,258.6 L367.1,258.2 L367.4,258.0 L367.7,258.2 L368.0,259.1 L368.3,260.5 L368.6,262.1 L368.9,264.4 L369.3,266.9 L369.6,270.0 L369.9,273.6 L370.2,276.9 L370.5,279.5 L370.8,281.8 L371.1,284.0 L371.4,286.3 L371.7,288.8 L372.0,291.8 L372.3,295.1 L372.6,298.4 L372.9,301.3 L373.3,303.6 L373.6,305.7 L373.9,307.2 L374.2,308.3 L374.5,309.2 L374.8,310.0 L375.1,310.6 L375.4,311.1 L375.7,311.6 L376.0,312.0 L376.3,312.4 L376.6,312.7 L376.9,313.1 L377.3,313.4 L377.6,313.7 L377.9,314.0 L378.2,314.3 L378.5,314.6 L378.8,314.8 L379.1,315.1 L379.4,315.3 L379.7,315.6 L380.0,315.8 L380.3,316.1 L380.6,316.3 L380.9,316.5 L381.2,316.7 L381.6,317.0 L381.9,317.2 L383.1,318.0 L384.3,318.8 L385.6,319.4 L386.8,319.9 L388.0,320.3 L389.2,320.7 L390.5,321.2 L391.7,321.6 L392.9,322.0 L394.2,322.4 L395.4,322.7 L396.6,323.0 L397.9,323.3 L399.1,323.5 L400.3,323.7 L401.5,323.8 L402.8,324.0 L404.0,324.1 L405.2,324.3 L406.5,324.4 L407.7,324.6 L408.9,324.7 L410.2,324.9 L411.4,325.1 L412.6,325.3 L413.9,325.6 L415.1,325.9 L416.3,326.2 L417.5,326.5 L418.8,326.7 L420.0,327.0 L421.2,327.3 L422.5,327.5 L423.7,327.7 L424.9,328.0 L426.2,328.2 L427.4,328.4 L428.6,328.7 L429.8,328.9 L431.1,329.1 L432.3,329.3 L433.5,329.5 L434.8,329.7 L436.0,329.9 L437.2,330.1 L438.5,330.3 L439.7,330.5 L440.9,330.6 L442.1,330.8 L443.4,330.9 L444.6,331.0 L445.8,331.2 L447.1,331.3 L448.3,331.3 L449.5,331.4 L450.8,331.5 L452.0,331.6 L453.2,331.6 L454.5,331.7 L455.7,331.7 L456.9,331.7 L458.1,331.8 L459.4,331.8 L460.6,331.8 L461.8,331.8 L463.1,331.9 L464.3,331.9 L465.5,331.9 L466.8,331.9 L468.0,331.9 L469.2,331.9 L470.4,331.9 L471.7,332.0 L472.9,332.0 L474.1,332.0 L475.4,332.0 L476.6,332.0 L477.8,332.0 L479.1,332.0 L480.3,332.0 L481.5,332.0 L482.7,332.0 L484.0,332.0 L485.2,332.0 L486.4,332.0 L487.7,332.0 L488.9,332.0 L490.1,332.0 L491.4,332.0 L492.6,332.0 L493.8,332.0 L495.0,332.0 L496.3,332.0 L497.5,332.0 L498.7,332.0 L500.0,332.0 L501.2,332.1 L502.4,332.1 L503.7,332.1 L504.9,332.1 L506.1,332.1 L507.4,332.1 L508.6,332.1 L509.8,332.1 L511.0,332.1 L512.3,332.1 L513.5,332.1 L514.7,332.1 L516.0,332.1 L517.2,332.1 L518.4,332.1 L519.7,332.1 L520.9,332.1 L522.1,332.1 L523.3,332.1 L524.6,332.1 L525.8,332.1 L527.0,332.1 L528.3,332.1 L529.5,332.1 L530.7,332.1 L532.0,332.1 L533.2,332.1 L534.4,332.1 L535.6,332.1 L536.9,332.1 L538.1,332.1 L539.3,332.1 L540.6,332.1 L541.8,332.1 L541.80,332.60 L314.20,332.60 Z" fill="#fee38f"/>
<g clip-path="url(#f3)">
<rect x="314.20" y="328.60" width="227.60" height="4" fill="#f0ec92" opacity="0.85"/>
<rect x="314.20" y="193.30" width="2.4" height="139.30" fill="#f8f29c" opacity="0.8"/>
</g>
<path d="M313.6,213.2 L313.9,224.0 L314.2,233.1 L314.5,238.9 L314.8,243.1 L315.1,246.3 L315.4,248.9 L315.7,251.0 L316.0,252.8 L316.4,254.3 L316.7,255.2 L317.0,255.6 L317.3,255.8 L317.6,255.9 L317.9,255.9 L318.2,255.9 L318.5,255.8 L318.8,255.8 L319.1,255.8 L319.4,255.7 L319.7,255.7 L320.0,255.6 L320.4,255.6 L320.7,255.5 L321.0,255.4 L321.3,255.3 L321.6,255.3 L321.9,255.2 L322.2,255.2 L322.5,255.2 L322.8,255.2 L323.1,255.3 L323.4,255.4 L323.7,255.6 L324.0,255.7 L324.3,255.9 L324.7,256.0 L325.0,256.1 L325.3,256.3 L325.6,256.5 L325.9,256.8 L326.2,257.0 L326.5,257.1 L326.8,257.2 L327.1,257.3 L327.4,257.2 L327.7,257.1 L328.0,256.8 L328.3,256.5 L328.7,256.2 L329.0,255.8 L329.3,255.5 L329.6,255.2 L329.9,254.9 L330.2,254.6 L330.5,254.2 L330.8,253.9 L331.1,253.5 L331.4,253.2 L331.7,252.8 L332.0,252.4 L332.3,252.1 L332.7,251.7 L333.0,251.4 L333.3,251.0 L333.6,250.6 L333.9,250.2 L334.2,249.9 L334.5,249.7 L334.8,249.6 L335.1,249.5 L335.4,249.4 L335.7,249.3 L336.0,249.2 L336.3,249.1 L336.7,249.1 L337.0,249.2 L337.3,249.4 L337.6,249.6 L337.9,250.0 L338.2,250.4 L338.5,250.8 L338.8,251.2 L339.1,251.6 L339.4,252.0 L339.7,252.4 L340.0,252.8 L340.3,253.3 L340.7,253.7 L341.0,254.2 L341.3,254.8 L341.6,255.3 L341.9,255.9 L342.2,256.6 L342.5,257.3 L342.8,258.1 L343.1,258.8 L343.4,259.6 L343.7,260.4 L344.0,261.2 L344.3,261.9 L344.6,262.6 L345.0,263.1 L345.3,263.7 L345.6,264.3 L345.9,265.0 L346.2,265.6 L346.5,266.2 L346.8,266.7 L347.1,267.2 L347.4,267.7 L347.7,268.0 L348.0,268.2 L348.3,268.3 L348.6,268.3 L349.0,268.3 L349.3,268.2 L349.6,268.2 L349.9,268.1 L350.2,268.0 L350.5,267.9 L350.8,267.8 L351.1,267.6 L351.4,267.5 L351.7,267.2 L352.0,266.9 L352.3,266.5 L352.6,266.1 L353.0,265.7 L353.3,265.2 L353.6,264.8 L353.9,264.5 L354.2,264.1 L354.5,263.9 L354.8,263.6 L355.1,263.4 L355.4,263.1 L355.7,262.9 L356.0,262.7 L356.3,262.4 L356.6,262.2 L357.0,262.0 L357.3,261.7 L357.6,261.4 L357.9,261.1 L358.2,260.8 L358.5,260.4 L358.8,260.1 L359.1,259.7 L359.4,259.4 L359.7,259.2 L360.0,259.0 L360.3,259.0 L360.6,259.0 L361.0,259.2 L361.3,259.5 L361.6,259.8 L361.9,260.2 L362.2,260.5 L362.5,260.8 L362.8,261.1 L363.1,261.5 L363.4,261.8 L363.7,262.1 L364.0,262.2 L364.3,262.2 L364.6,262.0 L364.9,261.5 L365.3,261.0 L365.6,260.4 L365.9,260.0 L366.2,259.5 L366.5,259.0 L366.8,258.6 L367.1,258.2 L367.4,258.0 L367.7,258.2 L368.0,259.1 L368.3,260.5 L368.6,262.1 L368.9,264.4 L369.3,266.9 L369.6,270.0 L369.9,273.6 L370.2,276.9 L370.5,279.5 L370.8,281.8 L371.1,284.0 L371.4,286.3 L371.7,288.8 L372.0,291.8 L372.3,295.1 L372.6,298.4 L372.9,301.3 L373.3,303.6 L373.6,305.7 L373.9,307.2 L374.2,308.3 L374.5,309.2 L374.8,310.0 L375.1,310.6 L375.4,311.1 L375.7,311.6 L376.0,312.0 L376.3,312.4 L376.6,312.7 L376.9,313.1 L377.3,313.4 L377.6,313.7 L377.9,314.0 L378.2,314.3 L378.5,314.6 L378.8,314.8 L379.1,315.1 L379.4,315.3 L379.7,315.6 L380.0,315.8 L380.3,316.1 L380.6,316.3 L380.9,316.5 L381.2,316.7 L381.6,317.0 L381.9,317.2 L383.1,318.0 L384.3,318.8 L385.6,319.4 L386.8,319.9 L388.0,320.3 L389.2,320.7 L390.5,321.2 L391.7,321.6 L392.9,322.0 L394.2,322.4 L395.4,322.7 L396.6,323.0 L397.9,323.3 L399.1,323.5 L400.3,323.7 L401.5,323.8 L402.8,324.0 L404.0,324.1 L405.2,324.3 L406.5,324.4 L407.7,324.6 L408.9,324.7 L410.2,324.9 L411.4,325.1 L412.6,325.3 L413.9,325.6 L415.1,325.9 L416.3,326.2 L417.5,326.5 L418.8,326.7 L420.0,327.0 L421.2,327.3 L422.5,327.5 L423.7,327.7 L424.9,328.0 L426.2,328.2 L427.4,328.4 L428.6,328.7 L429.8,328.9 L431.1,329.1 L432.3,329.3 L433.5,329.5 L434.8,329.7 L436.0,329.9 L437.2,330.1 L438.5,330.3 L439.7,330.5 L440.9,330.6 L442.1,330.8 L443.4,330.9 L444.6,331.0 L445.8,331.2 L447.1,331.3 L448.3,331.3 L449.5,331.4 L450.8,331.5 L452.0,331.6 L453.2,331.6 L454.5,331.7 L455.7,331.7 L456.9,331.7 L458.1,331.8 L459.4,331.8 L460.6,331.8 L461.8,331.8 L463.1,331.9 L464.3,331.9 L465.5,331.9 L466.8,331.9 L468.0,331.9 L469.2,331.9 L470.4,331.9 L471.7,332.0 L472.9,332.0 L474.1,332.0 L475.4,332.0 L476.6,332.0 L477.8,332.0 L479.1,332.0 L480.3,332.0 L481.5,332.0 L482.7,332.0 L484.0,332.0 L485.2,332.0 L486.4,332.0 L487.7,332.0 L488.9,332.0 L490.1,332.0 L491.4,332.0 L492.6,332.0 L493.8,332.0 L495.0,332.0 L496.3,332.0 L497.5,332.0 L498.7,332.0 L500.0,332.0 L501.2,332.1 L502.4,332.1 L503.7,332.1 L504.9,332.1 L506.1,332.1 L507.4,332.1 L508.6,332.1 L509.8,332.1 L511.0,332.1 L512.3,332.1 L513.5,332.1 L514.7,332.1 L516.0,332.1 L517.2,332.1 L518.4,332.1 L519.7,332.1 L520.9,332.1 L522.1,332.1 L523.3,332.1 L524.6,332.1 L525.8,332.1 L527.0,332.1 L528.3,332.1 L529.5,332.1 L530.7,332.1 L532.0,332.1 L533.2,332.1 L534.4,332.1 L535.6,332.1 L536.9,332.1 L538.1,332.1 L539.3,332.1 L540.6,332.1 L541.8,332.1" fill="none" stroke="#f4f030" stroke-opacity="0.5" stroke-width="6" stroke-linejoin="round" clip-path="url(#f3)"/>
<path d="M313.6,208.2 L313.9,219.1 L314.2,228.4 L314.5,234.6 L314.8,239.3 L315.1,243.0 L315.4,246.1 L315.7,248.5 L316.0,250.6 L316.4,252.4 L316.7,253.4 L317.0,253.9 L317.3,254.2 L317.6,254.3 L317.9,254.3 L318.2,254.4 L318.5,254.4 L318.8,254.3 L319.1,254.3 L319.4,254.3 L319.7,254.3 L320.0,254.2 L320.4,254.2 L320.7,254.1 L321.0,254.0 L321.3,254.0 L321.6,253.9 L321.9,253.9 L322.2,253.8 L322.5,253.8 L322.8,253.8 L323.1,253.9 L323.4,254.0 L323.7,254.1 L324.0,254.2 L324.3,254.3 L324.7,254.4 L325.0,254.6 L325.3,254.7 L325.6,254.9 L325.9,255.1 L326.2,255.3 L326.5,255.4 L326.8,255.5 L327.1,255.6 L327.4,255.6 L327.7,255.5 L328.0,255.3 L328.3,255.0 L328.7,254.6 L329.0,254.3 L329.3,253.9 L329.6,253.5 L329.9,253.2 L330.2,252.8 L330.5,252.4 L330.8,252.0 L331.1,251.6 L331.4,251.2 L331.7,250.8 L332.0,250.4 L332.3,249.9 L332.7,249.5 L333.0,249.1 L333.3,248.6 L333.6,248.2 L333.9,247.7 L334.2,247.4 L334.5,247.1 L334.8,246.8 L335.1,246.6 L335.4,246.4 L335.7,246.2 L336.0,246.1 L336.3,245.9 L336.7,245.8 L337.0,245.8 L337.3,245.9 L337.6,246.1 L337.9,246.4 L338.2,246.8 L338.5,247.2 L338.8,247.6 L339.1,248.0 L339.4,248.4 L339.7,248.8 L340.0,249.2 L340.3,249.7 L340.7,250.2 L341.0,250.8 L341.3,251.3 L341.6,251.9 L341.9,252.6 L342.2,253.3 L342.5,254.1 L342.8,255.0 L343.1,255.9 L343.4,256.8 L343.7,257.7 L344.0,258.5 L344.3,259.3 L344.6,260.1 L345.0,260.8 L345.3,261.5 L345.6,262.2 L345.9,262.9 L346.2,263.6 L346.5,264.2 L346.8,264.8 L347.1,265.3 L347.4,265.7 L347.7,266.1 L348.0,266.4 L348.3,266.5 L348.6,266.6 L349.0,266.6 L349.3,266.6 L349.6,266.5 L349.9,266.4 L350.2,266.3 L350.5,266.2 L350.8,266.1 L351.1,266.0 L351.4,265.8 L351.7,265.5 L352.0,265.2 L352.3,264.8 L352.6,264.3 L353.0,263.9 L353.3,263.4 L353.6,263.0 L353.9,262.5 L354.2,262.1 L354.5,261.7 L354.8,261.3 L355.1,261.0 L355.4,260.6 L355.7,260.2 L356.0,259.9 L356.3,259.5 L356.6,259.2 L357.0,258.8 L357.3,258.5 L357.6,258.1 L357.9,257.6 L358.2,257.0 L358.5,256.5 L358.8,256.0 L359.1,255.6 L359.4,255.4 L359.7,255.3 L360.0,255.3 L360.3,255.4 L360.6,255.6 L361.0,255.9 L361.3,256.3 L361.6,256.7 L361.9,257.1 L362.2,257.5 L362.5,257.9 L362.8,258.2 L363.1,258.6 L363.4,258.9 L363.7,259.2 L364.0,259.3 L364.3,259.1 L364.6,258.8 L364.9,258.3 L365.3,257.7 L365.6,257.0 L365.9,256.4 L366.2,255.8 L366.5,255.2 L366.8,254.6 L367.1,254.1 L367.4,253.8 L367.7,254.0 L368.0,255.4 L368.3,257.1 L368.6,259.2 L368.9,262.0 L369.3,265.0 L369.6,268.3 L369.9,271.9 L370.2,275.1 L370.5,277.8 L370.8,280.2 L371.1,282.6 L371.4,285.1 L371.7,287.8 L372.0,290.9 L372.3,294.4 L372.6,297.8 L372.9,300.8 L373.3,303.2 L373.6,305.3 L373.9,306.9 L374.2,307.9 L374.5,308.8 L374.8,309.5 L375.1,310.1 L375.4,310.6 L375.7,311.1 L376.0,311.5 L376.3,311.9 L376.6,312.2 L376.9,312.6 L377.3,312.9 L377.6,313.2 L377.9,313.5 L378.2,313.8 L378.5,314.0 L378.8,314.3 L379.1,314.6 L379.4,314.8 L379.7,315.1 L380.0,315.3 L380.3,315.6 L380.6,315.8 L380.9,316.0 L381.2,316.2 L381.6,316.5 L381.9,316.7 L383.1,317.5 L384.3,318.3 L385.6,318.8 L386.8,319.3 L388.0,319.7 L389.2,320.2 L390.5,320.6 L391.7,321.0 L392.9,321.4 L394.2,321.8 L395.4,322.1 L396.6,322.5 L397.9,322.8 L399.1,323.0 L400.3,323.2 L401.5,323.4 L402.8,323.6 L404.0,323.8 L405.2,324.0 L406.5,324.2 L407.7,324.4 L408.9,324.6 L410.2,324.8 L411.4,325.1 L412.6,325.4 L413.9,325.8 L415.1,326.2 L416.3,326.5 L417.5,326.8 L418.8,327.1 L420.0,327.4 L421.2,327.7 L422.5,328.0 L423.7,328.2 L424.9,328.5 L426.2,328.7 L427.4,328.9 L428.6,329.2 L429.8,329.4 L431.1,329.6 L432.3,329.8 L433.5,330.0 L434.8,330.2 L436.0,330.3 L437.2,330.5 L438.5,330.6 L439.7,330.8 L440.9,330.9 L442.1,331.0 L443.4,331.1 L444.6,331.2 L445.8,331.3 L447.1,331.4 L448.3,331.5 L449.5,331.6 L450.8,331.6 L452.0,331.7 L453.2,331.7 L454.5,331.8 L455.7,331.8 L456.9,331.8 L458.1,331.8 L459.4,331.9 L460.6,331.9 L461.8,331.9 L463.1,331.9 L464.3,331.9 L465.5,331.9 L466.8,332.0 L468.0,332.0 L469.2,332.0 L470.4,332.0 L471.7,332.0 L472.9,332.0 L474.1,332.0 L475.4,332.0 L476.6,332.0 L477.8,332.0 L479.1,332.0 L480.3,332.0 L481.5,332.0 L482.7,332.0 L484.0,332.0 L485.2,332.0 L486.4,332.1 L487.7,332.1 L488.9,332.1 L490.1,332.1 L491.4,332.1 L492.6,332.1 L493.8,332.1 L495.0,332.1 L496.3,332.1 L497.5,332.1 L498.7,332.1 L500.0,332.1 L501.2,332.1 L502.4,332.1 L503.7,332.1 L504.9,332.1 L506.1,332.1 L507.4,332.1 L508.6,332.1 L509.8,332.1 L511.0,332.1 L512.3,332.1 L513.5,332.1 L514.7,332.1 L516.0,332.1 L517.2,332.1 L518.4,332.1 L519.7,332.1 L520.9,332.1 L522.1,332.1 L523.3,332.1 L524.6,332.1 L525.8,332.1 L527.0,332.1 L528.3,332.1 L529.5,332.1 L530.7,332.1 L532.0,332.1 L533.2,332.1 L534.4,332.1 L535.6,332.1 L536.9,332.1 L538.1,332.1 L539.3,332.1 L540.6,332.1 L541.8,332.1" fill="none" stroke="#62201e" stroke-width="1.0" stroke-linejoin="round"/>
<path d="M313.6,205.6 L313.9,216.5 L314.2,225.9 L314.5,232.4 L314.8,237.4 L315.1,241.3 L315.4,244.6 L315.7,247.2 L316.0,249.5 L316.4,251.4 L316.7,252.5 L317.0,253.0 L317.3,253.3 L317.6,253.5 L317.9,253.5 L318.2,253.6 L318.5,253.6 L318.8,253.6 L319.1,253.6 L319.4,253.6 L319.7,253.5 L320.0,253.5 L320.4,253.4 L320.7,253.4 L321.0,253.3 L321.3,253.3 L321.6,253.2 L321.9,253.2 L322.2,253.1 L322.5,253.1 L322.8,253.1 L323.1,253.1 L323.4,253.2 L323.7,253.3 L324.0,253.4 L324.3,253.5 L324.7,253.6 L325.0,253.7 L325.3,253.9 L325.6,254.1 L325.9,254.2 L326.2,254.4 L326.5,254.5 L326.8,254.6 L327.1,254.7 L327.4,254.7 L327.7,254.6 L328.0,254.4 L328.3,254.2 L328.7,253.8 L329.0,253.5 L329.3,253.1 L329.6,252.7 L329.9,252.3 L330.2,251.9 L330.5,251.5 L330.8,251.1 L331.1,250.6 L331.4,250.2 L331.7,249.7 L332.0,249.3 L332.3,248.8 L332.7,248.4 L333.0,247.9 L333.3,247.4 L333.6,246.9 L333.9,246.5 L334.2,246.0 L334.5,245.7 L334.8,245.4 L335.1,245.1 L335.4,244.9 L335.7,244.7 L336.0,244.4 L336.3,244.2 L336.7,244.1 L337.0,244.0 L337.3,244.1 L337.6,244.3 L337.9,244.6 L338.2,244.9 L338.5,245.3 L338.8,245.7 L339.1,246.1 L339.4,246.5 L339.7,246.9 L340.0,247.4 L340.3,247.9 L340.7,248.4 L341.0,249.0 L341.3,249.6 L341.6,250.2 L341.9,250.9 L342.2,251.7 L342.5,252.5 L342.8,253.4 L343.1,254.3 L343.4,255.3 L343.7,256.2 L344.0,257.1 L344.3,258.0 L344.6,258.9 L345.0,259.6 L345.3,260.3 L345.6,261.0 L345.9,261.8 L346.2,262.5 L346.5,263.2 L346.8,263.8 L347.1,264.3 L347.4,264.7 L347.7,265.1 L348.0,265.4 L348.3,265.6 L348.6,265.7 L349.0,265.7 L349.3,265.7 L349.6,265.6 L349.9,265.6 L350.2,265.5 L350.5,265.3 L350.8,265.2 L351.1,265.1 L351.4,264.9 L351.7,264.6 L352.0,264.3 L352.3,263.9 L352.6,263.4 L353.0,263.0 L353.3,262.5 L353.6,262.0 L353.9,261.6 L354.2,261.1 L354.5,260.6 L354.8,260.1 L355.1,259.7 L355.4,259.3 L355.7,258.9 L356.0,258.5 L356.3,258.1 L356.6,257.6 L357.0,257.2 L357.3,256.8 L357.6,256.3 L357.9,255.7 L358.2,255.1 L358.5,254.4 L358.8,253.9 L359.1,253.5 L359.4,253.3 L359.7,253.3 L360.0,253.4 L360.3,253.6 L360.6,253.8 L361.0,254.2 L361.3,254.6 L361.6,255.1 L361.9,255.6 L362.2,256.0 L362.5,256.4 L362.8,256.8 L363.1,257.1 L363.4,257.5 L363.7,257.7 L364.0,257.7 L364.3,257.5 L364.6,257.1 L364.9,256.6 L365.3,255.9 L365.6,255.2 L365.9,254.5 L366.2,253.8 L366.5,253.2 L366.8,252.5 L367.1,251.9 L367.4,251.6 L367.7,251.9 L368.0,253.4 L368.3,255.4 L368.6,257.7 L368.9,260.7 L369.3,264.0 L369.6,267.5 L369.9,271.0 L370.2,274.2 L370.5,276.9 L370.8,279.4 L371.1,281.9 L371.4,284.4 L371.7,287.2 L372.0,290.4 L372.3,294.0 L372.6,297.5 L372.9,300.5 L373.3,302.9 L373.6,305.1 L373.9,306.7 L374.2,307.7 L374.5,308.6 L374.8,309.3 L375.1,309.9 L375.4,310.4 L375.7,310.9 L376.0,311.3 L376.3,311.6 L376.6,312.0 L376.9,312.3 L377.3,312.6 L377.6,312.9 L377.9,313.2 L378.2,313.5 L378.5,313.8 L378.8,314.1 L379.1,314.3 L379.4,314.6 L379.7,314.8 L380.0,315.1 L380.3,315.3 L380.6,315.5 L380.9,315.8 L381.2,316.0 L381.6,316.2 L381.9,316.4 L383.1,317.2 L384.3,318.0 L385.6,318.6 L386.8,319.0 L388.0,319.4 L389.2,319.9 L390.5,320.3 L391.7,320.7 L392.9,321.1 L394.2,321.5 L395.4,321.8 L396.6,322.2 L397.9,322.5 L399.1,322.8 L400.3,323.0 L401.5,323.2 L402.8,323.5 L404.0,323.7 L405.2,323.9 L406.5,324.1 L407.7,324.3 L408.9,324.5 L410.2,324.7 L411.4,325.0 L412.6,325.4 L413.9,325.8 L415.1,326.3 L416.3,326.7 L417.5,327.0 L418.8,327.4 L420.0,327.7 L421.2,328.0 L422.5,328.2 L423.7,328.5 L424.9,328.8 L426.2,329.0 L427.4,329.2 L428.6,329.4 L429.8,329.6 L431.1,329.8 L432.3,330.0 L433.5,330.2 L434.8,330.4 L436.0,330.5 L437.2,330.7 L438.5,330.8 L439.7,330.9 L440.9,331.1 L442.1,331.2 L443.4,331.3 L444.6,331.4 L445.8,331.4 L447.1,331.5 L448.3,331.6 L449.5,331.6 L450.8,331.7 L452.0,331.7 L453.2,331.8 L454.5,331.8 L455.7,331.8 L456.9,331.9 L458.1,331.9 L459.4,331.9 L460.6,331.9 L461.8,331.9 L463.1,331.9 L464.3,332.0 L465.5,332.0 L466.8,332.0 L468.0,332.0 L469.2,332.0 L470.4,332.0 L471.7,332.0 L472.9,332.0 L474.1,332.0 L475.4,332.0 L476.6,332.0 L477.8,332.0 L479.1,332.0 L480.3,332.1 L481.5,332.1 L482.7,332.1 L484.0,332.1 L485.2,332.1 L486.4,332.1 L487.7,332.1 L488.9,332.1 L490.1,332.1 L491.4,332.1 L492.6,332.1 L493.8,332.1 L495.0,332.1 L496.3,332.1 L497.5,332.1 L498.7,332.1 L500.0,332.1 L501.2,332.1 L502.4,332.1 L503.7,332.1 L504.9,332.1 L506.1,332.1 L507.4,332.1 L508.6,332.1 L509.8,332.1 L511.0,332.1 L512.3,332.1 L513.5,332.1 L514.7,332.1 L516.0,332.1 L517.2,332.1 L518.4,332.1 L519.7,332.1 L520.9,332.1 L522.1,332.1 L523.3,332.1 L524.6,332.1 L525.8,332.1 L527.0,332.1 L528.3,332.1 L529.5,332.1 L530.7,332.1 L532.0,332.1 L533.2,332.1 L534.4,332.1 L535.6,332.1 L536.9,332.1 L538.1,332.1 L539.3,332.1 L540.6,332.1 L541.8,332.1" fill="none" stroke="#5a1a18" stroke-width="1.0" stroke-linejoin="round"/>
<path d="M313.6,201.7 L313.9,212.5 L314.2,222.1 L314.5,229.0 L314.8,234.4 L315.1,238.7 L315.4,242.3 L315.7,245.2 L316.0,247.7 L316.4,249.8 L316.7,251.0 L317.0,251.6 L317.3,252.0 L317.6,252.2 L317.9,252.3 L318.2,252.4 L318.5,252.4 L318.8,252.4 L319.1,252.4 L319.4,252.4 L319.7,252.4 L320.0,252.4 L320.4,252.3 L320.7,252.3 L321.0,252.2 L321.3,252.2 L321.6,252.2 L321.9,252.1 L322.2,252.1 L322.5,252.0 L322.8,252.0 L323.1,252.0 L323.4,252.0 L323.7,252.1 L324.0,252.1 L324.3,252.2 L324.7,252.3 L325.0,252.5 L325.3,252.6 L325.6,252.8 L325.9,252.9 L326.2,253.0 L326.5,253.2 L326.8,253.3 L327.1,253.4 L327.4,253.4 L327.7,253.3 L328.0,253.2 L328.3,252.9 L328.7,252.6 L329.0,252.2 L329.3,251.8 L329.6,251.3 L329.9,250.9 L330.2,250.5 L330.5,250.1 L330.8,249.6 L331.1,249.1 L331.4,248.6 L331.7,248.1 L332.0,247.6 L332.3,247.1 L332.7,246.6 L333.0,246.1 L333.3,245.6 L333.6,245.0 L333.9,244.5 L334.2,244.0 L334.5,243.6 L334.8,243.2 L335.1,242.9 L335.4,242.5 L335.7,242.2 L336.0,241.9 L336.3,241.7 L336.7,241.4 L337.0,241.3 L337.3,241.3 L337.6,241.5 L337.9,241.7 L338.2,242.0 L338.5,242.4 L338.8,242.8 L339.1,243.2 L339.4,243.6 L339.7,244.1 L340.0,244.5 L340.3,245.0 L340.7,245.6 L341.0,246.2 L341.3,246.8 L341.6,247.5 L341.9,248.2 L342.2,249.1 L342.5,250.0 L342.8,251.0 L343.1,252.0 L343.4,253.0 L343.7,254.0 L344.0,255.0 L344.3,256.0 L344.6,256.9 L345.0,257.7 L345.3,258.5 L345.6,259.3 L345.9,260.1 L346.2,260.9 L346.5,261.6 L346.8,262.2 L347.1,262.7 L347.4,263.2 L347.7,263.6 L348.0,263.9 L348.3,264.2 L348.6,264.3 L349.0,264.4 L349.3,264.4 L349.6,264.3 L349.9,264.2 L350.2,264.1 L350.5,264.0 L350.8,263.9 L351.1,263.8 L351.4,263.6 L351.7,263.3 L352.0,262.9 L352.3,262.5 L352.6,262.0 L353.0,261.6 L353.3,261.1 L353.6,260.6 L353.9,260.0 L354.2,259.5 L354.5,258.9 L354.8,258.3 L355.1,257.8 L355.4,257.2 L355.7,256.7 L356.0,256.2 L356.3,255.8 L356.6,255.3 L357.0,254.7 L357.3,254.2 L357.6,253.6 L357.9,252.9 L358.2,252.1 L358.5,251.3 L358.8,250.7 L359.1,250.2 L359.4,250.1 L359.7,250.1 L360.0,250.4 L360.3,250.7 L360.6,251.1 L361.0,251.6 L361.3,252.1 L361.6,252.6 L361.9,253.1 L362.2,253.6 L362.5,254.1 L362.8,254.5 L363.1,254.9 L363.4,255.2 L363.7,255.4 L364.0,255.3 L364.3,255.0 L364.6,254.6 L364.9,254.0 L365.3,253.3 L365.6,252.4 L365.9,251.6 L366.2,250.8 L366.5,250.1 L366.8,249.3 L367.1,248.6 L367.4,248.2 L367.7,248.5 L368.0,250.3 L368.3,252.7 L368.6,255.4 L368.9,258.8 L369.3,262.4 L369.6,266.1 L369.9,269.6 L370.2,272.7 L370.5,275.5 L370.8,278.2 L371.1,280.8 L371.4,283.4 L371.7,286.3 L372.0,289.7 L372.3,293.4 L372.6,297.0 L372.9,300.1 L373.3,302.6 L373.6,304.8 L373.9,306.4 L374.2,307.4 L374.5,308.2 L374.8,308.9 L375.1,309.5 L375.4,310.0 L375.7,310.5 L376.0,310.9 L376.3,311.2 L376.6,311.6 L376.9,311.9 L377.3,312.2 L377.6,312.5 L377.9,312.8 L378.2,313.1 L378.5,313.4 L378.8,313.6 L379.1,313.9 L379.4,314.2 L379.7,314.4 L380.0,314.7 L380.3,314.9 L380.6,315.1 L380.9,315.4 L381.2,315.6 L381.6,315.8 L381.9,316.0 L383.1,316.8 L384.3,317.5 L385.6,318.1 L386.8,318.6 L388.0,319.0 L389.2,319.4 L390.5,319.8 L391.7,320.2 L392.9,320.6 L394.2,321.0 L395.4,321.4 L396.6,321.7 L397.9,322.1 L399.1,322.4 L400.3,322.7 L401.5,322.9 L402.8,323.2 L404.0,323.4 L405.2,323.7 L406.5,323.9 L407.7,324.1 L408.9,324.4 L410.2,324.7 L411.4,325.0 L412.6,325.5 L413.9,326.0 L415.1,326.5 L416.3,326.9 L417.5,327.3 L418.8,327.7 L420.0,328.0 L421.2,328.3 L422.5,328.6 L423.7,328.9 L424.9,329.2 L426.2,329.4 L427.4,329.6 L428.6,329.8 L429.8,330.0 L431.1,330.2 L432.3,330.4 L433.5,330.6 L434.8,330.7 L436.0,330.9 L437.2,331.0 L438.5,331.1 L439.7,331.2 L440.9,331.3 L442.1,331.4 L443.4,331.5 L444.6,331.5 L445.8,331.6 L447.1,331.6 L448.3,331.7 L449.5,331.7 L450.8,331.8 L452.0,331.8 L453.2,331.8 L454.5,331.9 L455.7,331.9 L456.9,331.9 L458.1,331.9 L459.4,331.9 L460.6,332.0 L461.8,332.0 L463.1,332.0 L464.3,332.0 L465.5,332.0 L466.8,332.0 L468.0,332.0 L469.2,332.0 L470.4,332.0 L471.7,332.0 L472.9,332.1 L474.1,332.1 L475.4,332.1 L476.6,332.1 L477.8,332.1 L479.1,332.1 L480.3,332.1 L481.5,332.1 L482.7,332.1 L484.0,332.1 L485.2,332.1 L486.4,332.1 L487.7,332.1 L488.9,332.1 L490.1,332.1 L491.4,332.1 L492.6,332.1 L493.8,332.1 L495.0,332.1 L496.3,332.1 L497.5,332.1 L498.7,332.1 L500.0,332.1 L501.2,332.1 L502.4,332.1 L503.7,332.1 L504.9,332.1 L506.1,332.1 L507.4,332.1 L508.6,332.1 L509.8,332.1 L511.0,332.1 L512.3,332.1 L513.5,332.1 L514.7,332.1 L516.0,332.1 L517.2,332.1 L518.4,332.1 L519.7,332.1 L520.9,332.1 L522.1,332.1 L523.3,332.1 L524.6,332.1 L525.8,332.1 L527.0,332.1 L528.3,332.1 L529.5,332.1 L530.7,332.1 L532.0,332.1 L533.2,332.1 L534.4,332.2 L535.6,332.2 L536.9,332.2 L538.1,332.2 L539.3,332.2 L540.6,332.2 L541.8,332.2" fill="none" stroke="#62201e" stroke-width="1.0" stroke-linejoin="round"/>
<path d="M313.6,197.7 L313.9,208.6 L314.2,218.4 L314.5,225.6 L314.8,231.4 L315.1,236.1 L315.4,240.1 L315.7,243.2 L316.0,246.0 L316.4,248.2 L316.7,249.6 L317.0,250.3 L317.3,250.7 L317.6,250.9 L317.9,251.1 L318.2,251.2 L318.5,251.2 L318.8,251.3 L319.1,251.3 L319.4,251.3 L319.7,251.3 L320.0,251.2 L320.4,251.2 L320.7,251.2 L321.0,251.2 L321.3,251.1 L321.6,251.1 L321.9,251.1 L322.2,251.0 L322.5,250.9 L322.8,250.9 L323.1,250.8 L323.4,250.8 L323.7,250.9 L324.0,250.9 L324.3,251.0 L324.7,251.1 L325.0,251.2 L325.3,251.3 L325.6,251.5 L325.9,251.6 L326.2,251.7 L326.5,251.8 L326.8,251.9 L327.1,252.0 L327.4,252.0 L327.7,252.0 L328.0,251.9 L328.3,251.7 L328.7,251.4 L329.0,251.0 L329.3,250.5 L329.6,250.0 L329.9,249.5 L330.2,249.1 L330.5,248.6 L330.8,248.1 L331.1,247.6 L331.4,247.1 L331.7,246.5 L332.0,246.0 L332.3,245.4 L332.7,244.9 L333.0,244.3 L333.3,243.7 L333.6,243.1 L333.9,242.5 L334.2,242.0 L334.5,241.4 L334.8,241.0 L335.1,240.6 L335.4,240.2 L335.7,239.8 L336.0,239.4 L336.3,239.1 L336.7,238.8 L337.0,238.6 L337.3,238.5 L337.6,238.6 L337.9,238.8 L338.2,239.1 L338.5,239.5 L338.8,239.9 L339.1,240.3 L339.4,240.7 L339.7,241.2 L340.0,241.7 L340.3,242.2 L340.7,242.8 L341.0,243.4 L341.3,244.1 L341.6,244.8 L341.9,245.6 L342.2,246.5 L342.5,247.5 L342.8,248.5 L343.1,249.6 L343.4,250.7 L343.7,251.8 L344.0,252.9 L344.3,254.0 L344.6,255.0 L345.0,255.9 L345.3,256.7 L345.6,257.6 L345.9,258.4 L346.2,259.2 L346.5,260.0 L346.8,260.6 L347.1,261.2 L347.4,261.6 L347.7,262.1 L348.0,262.4 L348.3,262.7 L348.6,262.9 L349.0,263.0 L349.3,263.0 L349.6,263.0 L349.9,262.9 L350.2,262.8 L350.5,262.7 L350.8,262.6 L351.1,262.4 L351.4,262.2 L351.7,261.9 L352.0,261.6 L352.3,261.1 L352.6,260.6 L353.0,260.1 L353.3,259.6 L353.6,259.1 L353.9,258.5 L354.2,257.8 L354.5,257.2 L354.8,256.5 L355.1,255.9 L355.4,255.2 L355.7,254.6 L356.0,254.0 L356.3,253.5 L356.6,252.9 L357.0,252.3 L357.3,251.6 L357.6,250.9 L357.9,250.0 L358.2,249.1 L358.5,248.2 L358.8,247.4 L359.1,246.9 L359.4,246.8 L359.7,247.0 L360.0,247.4 L360.3,247.9 L360.6,248.4 L361.0,248.9 L361.3,249.5 L361.6,250.1 L361.9,250.7 L362.2,251.3 L362.5,251.8 L362.8,252.2 L363.1,252.6 L363.4,252.9 L363.7,253.1 L364.0,252.9 L364.3,252.6 L364.6,252.0 L364.9,251.4 L365.3,250.6 L365.6,249.7 L365.9,248.7 L366.2,247.8 L366.5,247.0 L366.8,246.0 L367.1,245.3 L367.4,244.8 L367.7,245.2 L368.0,247.3 L368.3,250.0 L368.6,253.0 L368.9,256.8 L369.3,260.9 L369.6,264.7 L369.9,268.2 L370.2,271.3 L370.5,274.2 L370.8,276.9 L371.1,279.6 L371.4,282.4 L371.7,285.5 L372.0,289.0 L372.3,292.8 L372.6,296.5 L372.9,299.7 L373.3,302.2 L373.6,304.5 L373.9,306.1 L374.2,307.1 L374.5,307.9 L374.8,308.6 L375.1,309.1 L375.4,309.6 L375.7,310.1 L376.0,310.5 L376.3,310.8 L376.6,311.2 L376.9,311.5 L377.3,311.8 L377.6,312.1 L377.9,312.4 L378.2,312.7 L378.5,313.0 L378.8,313.2 L379.1,313.5 L379.4,313.8 L379.7,314.0 L380.0,314.3 L380.3,314.5 L380.6,314.7 L380.9,315.0 L381.2,315.2 L381.6,315.4 L381.9,315.6 L383.1,316.4 L384.3,317.1 L385.6,317.6 L386.8,318.1 L388.0,318.5 L389.2,319.0 L390.5,319.4 L391.7,319.8 L392.9,320.2 L394.2,320.6 L395.4,320.9 L396.6,321.3 L397.9,321.7 L399.1,322.0 L400.3,322.3 L401.5,322.6 L402.8,322.9 L404.0,323.2 L405.2,323.5 L406.5,323.7 L407.7,324.0 L408.9,324.3 L410.2,324.6 L411.4,325.0 L412.6,325.5 L413.9,326.1 L415.1,326.6 L416.3,327.2 L417.5,327.6 L418.8,328.0 L420.0,328.4 L421.2,328.7 L422.5,329.0 L423.7,329.3 L424.9,329.6 L426.2,329.8 L427.4,330.0 L428.6,330.2 L429.8,330.4 L431.1,330.6 L432.3,330.8 L433.5,330.9 L434.8,331.1 L436.0,331.2 L437.2,331.3 L438.5,331.4 L439.7,331.4 L440.9,331.5 L442.1,331.6 L443.4,331.6 L444.6,331.7 L445.8,331.7 L447.1,331.8 L448.3,331.8 L449.5,331.8 L450.8,331.9 L452.0,331.9 L453.2,331.9 L454.5,331.9 L455.7,332.0 L456.9,332.0 L458.1,332.0 L459.4,332.0 L460.6,332.0 L461.8,332.0 L463.1,332.0 L464.3,332.0 L465.5,332.0 L466.8,332.1 L468.0,332.1 L469.2,332.1 L470.4,332.1 L471.7,332.1 L472.9,332.1 L474.1,332.1 L475.4,332.1 L476.6,332.1 L477.8,332.1 L479.1,332.1 L480.3,332.1 L481.5,332.1 L482.7,332.1 L484.0,332.1 L485.2,332.1 L486.4,332.1 L487.7,332.1 L488.9,332.1 L490.1,332.1 L491.4,332.1 L492.6,332.1 L493.8,332.1 L495.0,332.1 L496.3,332.1 L497.5,332.1 L498.7,332.1 L500.0,332.1 L501.2,332.1 L502.4,332.1 L503.7,332.1 L504.9,332.1 L506.1,332.1 L507.4,332.1 L508.6,332.1 L509.8,332.1 L511.0,332.1 L512.3,332.1 L513.5,332.1 L514.7,332.2 L516.0,332.2 L517.2,332.2 L518.4,332.2 L519.7,332.2 L520.9,332.2 L522.1,332.2 L523.3,332.2 L524.6,332.2 L525.8,332.2 L527.0,332.2 L528.3,332.2 L529.5,332.2 L530.7,332.2 L532.0,332.2 L533.2,332.2 L534.4,332.2 L535.6,332.2 L536.9,332.2 L538.1,332.2 L539.3,332.2 L540.6,332.2 L541.8,332.2" fill="none" stroke="#5a1a18" stroke-width="1.0" stroke-linejoin="round"/>
<path d="M313.6,193.3 L313.9,204.3 L314.2,214.2 L314.5,221.9 L314.8,228.1 L315.1,233.2 L315.4,237.6 L315.7,241.1 L316.0,244.0 L316.4,246.5 L316.7,248.0 L317.0,248.8 L317.3,249.3 L317.6,249.6 L317.9,249.7 L318.2,249.8 L318.5,249.9 L318.8,250.0 L319.1,250.0 L319.4,250.0 L319.7,250.0 L320.0,250.0 L320.4,250.0 L320.7,250.0 L321.0,250.0 L321.3,249.9 L321.6,249.9 L321.9,249.9 L322.2,249.8 L322.5,249.7 L322.8,249.7 L323.1,249.6 L323.4,249.5 L323.7,249.5 L324.0,249.6 L324.3,249.6 L324.7,249.7 L325.0,249.8 L325.3,249.9 L325.6,250.0 L325.9,250.1 L326.2,250.2 L326.5,250.3 L326.8,250.4 L327.1,250.5 L327.4,250.6 L327.7,250.6 L328.0,250.6 L328.3,250.3 L328.7,250.0 L329.0,249.6 L329.3,249.1 L329.6,248.5 L329.9,248.0 L330.2,247.5 L330.5,247.0 L330.8,246.5 L331.1,245.9 L331.4,245.3 L331.7,244.7 L332.0,244.1 L332.3,243.5 L332.7,242.9 L333.0,242.3 L333.3,241.7 L333.6,241.0 L333.9,240.3 L334.2,239.7 L334.5,239.1 L334.8,238.6 L335.1,238.1 L335.4,237.6 L335.7,237.1 L336.0,236.7 L336.3,236.3 L336.7,235.9 L337.0,235.6 L337.3,235.5 L337.6,235.5 L337.9,235.7 L338.2,235.9 L338.5,236.3 L338.8,236.7 L339.1,237.2 L339.4,237.6 L339.7,238.0 L340.0,238.5 L340.3,239.1 L340.7,239.7 L341.0,240.4 L341.3,241.1 L341.6,241.8 L341.9,242.7 L342.2,243.6 L342.5,244.7 L342.8,245.8 L343.1,247.0 L343.4,248.2 L343.7,249.4 L344.0,250.6 L344.3,251.7 L344.6,252.8 L345.0,253.8 L345.3,254.7 L345.6,255.7 L345.9,256.6 L346.2,257.5 L346.5,258.2 L346.8,258.9 L347.1,259.5 L347.4,259.9 L347.7,260.4 L348.0,260.8 L348.3,261.2 L348.6,261.4 L349.0,261.5 L349.3,261.6 L349.6,261.5 L349.9,261.4 L350.2,261.3 L350.5,261.2 L350.8,261.1 L351.1,261.0 L351.4,260.8 L351.7,260.4 L352.0,260.1 L352.3,259.6 L352.6,259.1 L353.0,258.6 L353.3,258.1 L353.6,257.5 L353.9,256.8 L354.2,256.1 L354.5,255.3 L354.8,254.5 L355.1,253.7 L355.4,253.0 L355.7,252.3 L356.0,251.6 L356.3,250.9 L356.6,250.2 L357.0,249.5 L357.3,248.8 L357.6,247.9 L357.9,246.9 L358.2,245.8 L358.5,244.7 L358.8,243.9 L359.1,243.3 L359.4,243.3 L359.7,243.6 L360.0,244.1 L360.3,244.7 L360.6,245.4 L361.0,246.0 L361.3,246.7 L361.6,247.4 L361.9,248.1 L362.2,248.7 L362.5,249.2 L362.8,249.7 L363.1,250.1 L363.4,250.4 L363.7,250.5 L364.0,250.3 L364.3,249.8 L364.6,249.2 L364.9,248.5 L365.3,247.7 L365.6,246.6 L365.9,245.5 L366.2,244.5 L366.5,243.6 L366.8,242.5 L367.1,241.6 L367.4,241.1 L367.7,241.6 L368.0,244.0 L368.3,247.0 L368.6,250.5 L368.9,254.7 L369.3,259.2 L369.6,263.2 L369.9,266.6 L370.2,269.7 L370.5,272.7 L370.8,275.5 L371.1,278.4 L371.4,281.4 L371.7,284.5 L372.0,288.2 L372.3,292.1 L372.6,295.9 L372.9,299.2 L373.3,301.8 L373.6,304.1 L373.9,305.7 L374.2,306.7 L374.5,307.5 L374.8,308.2 L375.1,308.7 L375.4,309.2 L375.7,309.7 L376.0,310.1 L376.3,310.4 L376.6,310.7 L376.9,311.0 L377.3,311.3 L377.6,311.6 L377.9,311.9 L378.2,312.2 L378.5,312.5 L378.8,312.8 L379.1,313.0 L379.4,313.3 L379.7,313.6 L380.0,313.8 L380.3,314.1 L380.6,314.3 L380.9,314.5 L381.2,314.8 L381.6,315.0 L381.9,315.2 L383.1,315.9 L384.3,316.6 L385.6,317.1 L386.8,317.6 L388.0,318.0 L389.2,318.4 L390.5,318.9 L391.7,319.3 L392.9,319.7 L394.2,320.1 L395.4,320.4 L396.6,320.8 L397.9,321.2 L399.1,321.6 L400.3,321.9 L401.5,322.3 L402.8,322.6 L404.0,322.9 L405.2,323.3 L406.5,323.6 L407.7,323.8 L408.9,324.2 L410.2,324.5 L411.4,325.0 L412.6,325.5 L413.9,326.2 L415.1,326.8 L416.3,327.4 L417.5,327.9 L418.8,328.3 L420.0,328.8 L421.2,329.1 L422.5,329.5 L423.7,329.8 L424.9,330.0 L426.2,330.3 L427.4,330.5 L428.6,330.7 L429.8,330.9 L431.1,331.0 L432.3,331.2 L433.5,331.3 L434.8,331.4 L436.0,331.5 L437.2,331.6 L438.5,331.7 L439.7,331.7 L440.9,331.8 L442.1,331.8 L443.4,331.8 L444.6,331.9 L445.8,331.9 L447.1,331.9 L448.3,331.9 L449.5,331.9 L450.8,332.0 L452.0,332.0 L453.2,332.0 L454.5,332.0 L455.7,332.0 L456.9,332.0 L458.1,332.0 L459.4,332.1 L460.6,332.1 L461.8,332.1 L463.1,332.1 L464.3,332.1 L465.5,332.1 L466.8,332.1 L468.0,332.1 L469.2,332.1 L470.4,332.1 L471.7,332.1 L472.9,332.1 L474.1,332.1 L475.4,332.1 L476.6,332.1 L477.8,332.1 L479.1,332.1 L480.3,332.1 L481.5,332.1 L482.7,332.1 L484.0,332.1 L485.2,332.1 L486.4,332.1 L487.7,332.1 L488.9,332.1 L490.1,332.1 L491.4,332.1 L492.6,332.2 L493.8,332.2 L495.0,332.2 L496.3,332.2 L497.5,332.2 L498.7,332.2 L500.0,332.2 L501.2,332.2 L502.4,332.2 L503.7,332.2 L504.9,332.2 L506.1,332.2 L507.4,332.2 L508.6,332.2 L509.8,332.2 L511.0,332.2 L512.3,332.2 L513.5,332.2 L514.7,332.2 L516.0,332.2 L517.2,332.2 L518.4,332.2 L519.7,332.2 L520.9,332.2 L522.1,332.2 L523.3,332.2 L524.6,332.2 L525.8,332.2 L527.0,332.2 L528.3,332.2 L529.5,332.2 L530.7,332.2 L532.0,332.2 L533.2,332.2 L534.4,332.2 L535.6,332.2 L536.9,332.2 L538.1,332.2 L539.3,332.2 L540.6,332.2 L541.8,332.2" fill="none" stroke="#4a1608" stroke-width="1.7" stroke-linejoin="round"/>
<path d="M313.6,213.2 L313.9,224.0 L314.2,233.1 L314.5,238.9 L314.8,243.1 L315.1,246.3 L315.4,248.9 L315.7,251.0 L316.0,252.8 L316.4,254.3 L316.7,255.2 L317.0,255.6 L317.3,255.8 L317.6,255.9 L317.9,255.9 L318.2,255.9 L318.5,255.8 L318.8,255.8 L319.1,255.8 L319.4,255.7 L319.7,255.7 L320.0,255.6 L320.4,255.6 L320.7,255.5 L321.0,255.4 L321.3,255.3 L321.6,255.3 L321.9,255.2 L322.2,255.2 L322.5,255.2 L322.8,255.2 L323.1,255.3 L323.4,255.4 L323.7,255.6 L324.0,255.7 L324.3,255.9 L324.7,256.0 L325.0,256.1 L325.3,256.3 L325.6,256.5 L325.9,256.8 L326.2,257.0 L326.5,257.1 L326.8,257.2 L327.1,257.3 L327.4,257.2 L327.7,257.1 L328.0,256.8 L328.3,256.5 L328.7,256.2 L329.0,255.8 L329.3,255.5 L329.6,255.2 L329.9,254.9 L330.2,254.6 L330.5,254.2 L330.8,253.9 L331.1,253.5 L331.4,253.2 L331.7,252.8 L332.0,252.4 L332.3,252.1 L332.7,251.7 L333.0,251.4 L333.3,251.0 L333.6,250.6 L333.9,250.2 L334.2,249.9 L334.5,249.7 L334.8,249.6 L335.1,249.5 L335.4,249.4 L335.7,249.3 L336.0,249.2 L336.3,249.1 L336.7,249.1 L337.0,249.2 L337.3,249.4 L337.6,249.6 L337.9,250.0 L338.2,250.4 L338.5,250.8 L338.8,251.2 L339.1,251.6 L339.4,252.0 L339.7,252.4 L340.0,252.8 L340.3,253.3 L340.7,253.7 L341.0,254.2 L341.3,254.8 L341.6,255.3 L341.9,255.9 L342.2,256.6 L342.5,257.3 L342.8,258.1 L343.1,258.8 L343.4,259.6 L343.7,260.4 L344.0,261.2 L344.3,261.9 L344.6,262.6 L345.0,263.1 L345.3,263.7 L345.6,264.3 L345.9,265.0 L346.2,265.6 L346.5,266.2 L346.8,266.7 L347.1,267.2 L347.4,267.7 L347.7,268.0 L348.0,268.2 L348.3,268.3 L348.6,268.3 L349.0,268.3 L349.3,268.2 L349.6,268.2 L349.9,268.1 L350.2,268.0 L350.5,267.9 L350.8,267.8 L351.1,267.6 L351.4,267.5 L351.7,267.2 L352.0,266.9 L352.3,266.5 L352.6,266.1 L353.0,265.7 L353.3,265.2 L353.6,264.8 L353.9,264.5 L354.2,264.1 L354.5,263.9 L354.8,263.6 L355.1,263.4 L355.4,263.1 L355.7,262.9 L356.0,262.7 L356.3,262.4 L356.6,262.2 L357.0,262.0 L357.3,261.7 L357.6,261.4 L357.9,261.1 L358.2,260.8 L358.5,260.4 L358.8,260.1 L359.1,259.7 L359.4,259.4 L359.7,259.2 L360.0,259.0 L360.3,259.0 L360.6,259.0 L361.0,259.2 L361.3,259.5 L361.6,259.8 L361.9,260.2 L362.2,260.5 L362.5,260.8 L362.8,261.1 L363.1,261.5 L363.4,261.8 L363.7,262.1 L364.0,262.2 L364.3,262.2 L364.6,262.0 L364.9,261.5 L365.3,261.0 L365.6,260.4 L365.9,260.0 L366.2,259.5 L366.5,259.0 L366.8,258.6 L367.1,258.2 L367.4,258.0 L367.7,258.2 L368.0,259.1 L368.3,260.5 L368.6,262.1 L368.9,264.4 L369.3,266.9 L369.6,270.0 L369.9,273.6 L370.2,276.9 L370.5,279.5 L370.8,281.8 L371.1,284.0 L371.4,286.3 L371.7,288.8 L372.0,291.8 L372.3,295.1 L372.6,298.4 L372.9,301.3 L373.3,303.6 L373.6,305.7 L373.9,307.2 L374.2,308.3 L374.5,309.2 L374.8,310.0 L375.1,310.6 L375.4,311.1 L375.7,311.6 L376.0,312.0 L376.3,312.4 L376.6,312.7 L376.9,313.1 L377.3,313.4 L377.6,313.7 L377.9,314.0 L378.2,314.3 L378.5,314.6 L378.8,314.8 L379.1,315.1 L379.4,315.3 L379.7,315.6 L380.0,315.8 L380.3,316.1 L380.6,316.3 L380.9,316.5 L381.2,316.7 L381.6,317.0 L381.9,317.2 L383.1,318.0 L384.3,318.8 L385.6,319.4 L386.8,319.9 L388.0,320.3 L389.2,320.7 L390.5,321.2 L391.7,321.6 L392.9,322.0 L394.2,322.4 L395.4,322.7 L396.6,323.0 L397.9,323.3 L399.1,323.5 L400.3,323.7 L401.5,323.8 L402.8,324.0 L404.0,324.1 L405.2,324.3 L406.5,324.4 L407.7,324.6 L408.9,324.7 L410.2,324.9 L411.4,325.1 L412.6,325.3 L413.9,325.6 L415.1,325.9 L416.3,326.2 L417.5,326.5 L418.8,326.7 L420.0,327.0 L421.2,327.3 L422.5,327.5 L423.7,327.7 L424.9,328.0 L426.2,328.2 L427.4,328.4 L428.6,328.7 L429.8,328.9 L431.1,329.1 L432.3,329.3 L433.5,329.5 L434.8,329.7 L436.0,329.9 L437.2,330.1 L438.5,330.3 L439.7,330.5 L440.9,330.6 L442.1,330.8 L443.4,330.9 L444.6,331.0 L445.8,331.2 L447.1,331.3 L448.3,331.3 L449.5,331.4 L450.8,331.5 L452.0,331.6 L453.2,331.6 L454.5,331.7 L455.7,331.7 L456.9,331.7 L458.1,331.8 L459.4,331.8 L460.6,331.8 L461.8,331.8 L463.1,331.9 L464.3,331.9 L465.5,331.9 L466.8,331.9 L468.0,331.9 L469.2,331.9 L470.4,331.9 L471.7,332.0 L472.9,332.0 L474.1,332.0 L475.4,332.0 L476.6,332.0 L477.8,332.0 L479.1,332.0 L480.3,332.0 L481.5,332.0 L482.7,332.0 L484.0,332.0 L485.2,332.0 L486.4,332.0 L487.7,332.0 L488.9,332.0 L490.1,332.0 L491.4,332.0 L492.6,332.0 L493.8,332.0 L495.0,332.0 L496.3,332.0 L497.5,332.0 L498.7,332.0 L500.0,332.0 L501.2,332.1 L502.4,332.1 L503.7,332.1 L504.9,332.1 L506.1,332.1 L507.4,332.1 L508.6,332.1 L509.8,332.1 L511.0,332.1 L512.3,332.1 L513.5,332.1 L514.7,332.1 L516.0,332.1 L517.2,332.1 L518.4,332.1 L519.7,332.1 L520.9,332.1 L522.1,332.1 L523.3,332.1 L524.6,332.1 L525.8,332.1 L527.0,332.1 L528.3,332.1 L529.5,332.1 L530.7,332.1 L532.0,332.1 L533.2,332.1 L534.4,332.1 L535.6,332.1 L536.9,332.1 L538.1,332.1 L539.3,332.1 L540.6,332.1 L541.8,332.1" fill="none" stroke="#f0f018" stroke-width="2.4" stroke-linejoin="round"/>
</g>
<path d="M314.20,332.60 L314.20,193.30 L541.80,193.30 L541.80,332.60" fill="none" stroke="#333333" stroke-width="1.3"/>
<path d="M314.20,195.30 L314.20,332.60 L541.80,332.60" fill="none" stroke="#5e5438" stroke-width="1.2"/>
<line x1="326.50" y1="332.60" x2="326.50" y2="335.60" stroke="#333333" stroke-width="1"/>
<line x1="357.26" y1="332.60" x2="357.26" y2="337.60" stroke="#333333" stroke-width="1"/>
<text x="357.26" y="349.50" font-size="9.2" text-anchor="middle" fill="#1e1e1e">300</text>
<line x1="388.02" y1="332.60" x2="388.02" y2="335.60" stroke="#333333" stroke-width="1"/>
<line x1="418.77" y1="332.60" x2="418.77" y2="337.60" stroke="#333333" stroke-width="1"/>
<text x="418.77" y="349.50" font-size="9.2" text-anchor="middle" fill="#1e1e1e">400</text>
<line x1="449.53" y1="332.60" x2="449.53" y2="335.60" stroke="#333333" stroke-width="1"/>
<line x1="480.29" y1="332.60" x2="480.29" y2="337.60" stroke="#333333" stroke-width="1"/>
<text x="480.29" y="349.50" font-size="9.2" text-anchor="middle" fill="#1e1e1e">500</text>
<line x1="511.04" y1="332.60" x2="511.04" y2="335.60" stroke="#333333" stroke-width="1"/>
<line x1="541.80" y1="332.60" x2="541.80" y2="337.60" stroke="#333333" stroke-width="1"/>
<text x="541.80" y="349.50" font-size="9.2" text-anchor="middle" fill="#1e1e1e">600</text>
<line x1="309.20" y1="332.60" x2="314.20" y2="332.60" stroke="#333333" stroke-width="1"/>
<text x="307.50" y="335.90" font-size="9.2" text-anchor="end" fill="#1e1e1e">0</text>
<line x1="311.20" y1="322.65" x2="314.20" y2="322.65" stroke="#333333" stroke-width="1"/>
<line x1="309.20" y1="312.70" x2="314.20" y2="312.70" stroke="#333333" stroke-width="1"/>
<text x="307.50" y="316.00" font-size="9.2" text-anchor="end" fill="#1e1e1e">0.2</text>
<line x1="311.20" y1="302.75" x2="314.20" y2="302.75" stroke="#333333" stroke-width="1"/>
<line x1="309.20" y1="292.80" x2="314.20" y2="292.80" stroke="#333333" stroke-width="1"/>
<text x="307.50" y="296.10" font-size="9.2" text-anchor="end" fill="#1e1e1e">0.4</text>
<line x1="311.20" y1="282.85" x2="314.20" y2="282.85" stroke="#333333" stroke-width="1"/>
<line x1="309.20" y1="272.90" x2="314.20" y2="272.90" stroke="#333333" stroke-width="1"/>
<text x="307.50" y="276.20" font-size="9.2" text-anchor="end" fill="#1e1e1e">0.6</text>
<line x1="311.20" y1="262.95" x2="314.20" y2="262.95" stroke="#333333" stroke-width="1"/>
<line x1="309.20" y1="253.00" x2="314.20" y2="253.00" stroke="#333333" stroke-width="1"/>
<text x="307.50" y="256.30" font-size="9.2" text-anchor="end" fill="#1e1e1e">0.8</text>
<line x1="311.20" y1="243.05" x2="314.20" y2="243.05" stroke="#333333" stroke-width="1"/>
<line x1="309.20" y1="233.10" x2="314.20" y2="233.10" stroke="#333333" stroke-width="1"/>
<text x="307.50" y="236.40" font-size="9.2" text-anchor="end" fill="#1e1e1e">1</text>
<line x1="311.20" y1="223.15" x2="314.20" y2="223.15" stroke="#333333" stroke-width="1"/>
<line x1="309.20" y1="213.20" x2="314.20" y2="213.20" stroke="#333333" stroke-width="1"/>
<text x="307.50" y="216.50" font-size="9.2" text-anchor="end" fill="#1e1e1e">1.2</text>
<line x1="311.20" y1="203.25" x2="314.20" y2="203.25" stroke="#333333" stroke-width="1"/>
<line x1="309.20" y1="193.30" x2="314.20" y2="193.30" stroke="#333333" stroke-width="1"/>
<text x="307.50" y="196.60" font-size="9.2" text-anchor="end" fill="#1e1e1e">1.4</text>
<text x="431.50" y="360.50" font-size="9" text-anchor="middle" fill="#222">Wavelength (nm)</text>
<text transform="translate(292.40,262.95) rotate(-90)" font-size="8.8" text-anchor="middle" fill="#222">Absorbance (a.u.)</text>
<line x1="478.6" y1="202.40" x2="491.1" y2="202.40" stroke="#7a3a14" stroke-width="2.0"/>
<text x="496" y="205.05" font-size="8" letter-spacing="0" word-spacing="0.5" fill="#1e1e1e" stroke="#1e1e1e" stroke-width="0.12">t = 0 min</text>
<line x1="478.6" y1="210.50" x2="491.1" y2="210.50" stroke="#484848" stroke-width="1.2"/>
<text x="496" y="213.61" font-size="8" letter-spacing="0" word-spacing="0.5" fill="#1e1e1e" stroke="#1e1e1e" stroke-width="0.12">t = 1 min</text>
<line x1="478.6" y1="219.50" x2="491.1" y2="219.50" stroke="#56625c" stroke-width="1.2"/>
<text x="496" y="222.17" font-size="8" letter-spacing="0" word-spacing="0.5" fill="#1e1e1e" stroke="#1e1e1e" stroke-width="0.12">t = 6 min</text>
<line x1="478.6" y1="228.50" x2="491.1" y2="228.50" stroke="#404040" stroke-width="1.2"/>
<text x="496" y="230.73" font-size="8" letter-spacing="0" word-spacing="0.5" fill="#1e1e1e" stroke="#1e1e1e" stroke-width="0.12">t = 16 min</text>
<line x1="478.6" y1="236.50" x2="491.1" y2="236.50" stroke="#767676" stroke-width="1.2"/>
<text x="496" y="239.29" font-size="8" letter-spacing="0" word-spacing="0.5" fill="#1e1e1e" stroke="#1e1e1e" stroke-width="0.12">t = 36 min</text>
<line x1="478.6" y1="245.20" x2="491.1" y2="245.20" stroke="#eef040" stroke-width="2.0"/>
<text x="496" y="247.85" font-size="8" letter-spacing="0" word-spacing="0.5" fill="#1e1e1e" stroke="#1e1e1e" stroke-width="0.12">t = 60 min</text>
<path d="M365.9,202.4 L370.9,202.4 L370.9,226.5 L374.7,226.5 L368.40,234.7 L362.1,226.5 L365.9,226.5 Z" fill="url(#ga3)"/>
<path d="M429.5,319.8 L435.2,319.8 L435.2,296.2 L438.6,296.2 L432.4,287.6 L426.3,296.2 L429.5,296.2 Z" fill="#e6fb00"/>

<g opacity="0.75">
<rect x="32.2" y="64.1" width="7.6" height="7.6" fill="#c0f0a0"/>
<rect x="33.2" y="65.5" width="4.2" height="6.2" fill="#f8a890"/>
<rect x="30.6" y="80" width="1.8" height="8.2" fill="#60e080"/>
<rect x="32.4" y="88.2" width="5" height="7.6" fill="#c0f0a0"/>
<rect x="37.7" y="88.2" width="4.8" height="7.6" fill="#f8a090"/>
<rect x="43.2" y="88.2" width="4.8" height="7.6" fill="#c8f0a0"/>
<rect x="30.6" y="104.1" width="3.7" height="7.6" fill="#f88888"/>
<rect x="35" y="104.1" width="4.8" height="7.6" fill="#c0f0a0"/>
<rect x="45.3" y="78.8" width="5.5" height="1" fill="#f08080"/>
<rect x="24" y="104.1" width="4.8" height="7.6" fill="#c0f8f8"/>
<rect x="25" y="118" width="4.5" height="8" fill="#c8f8f0"/>
<rect x="13" y="119" width="9" height="7" fill="#fcd0f0"/>
<path d="M8,136 L20,136 L20,142 Z" fill="#c0f8f8"/>
<path d="M11,136 L21,136 L16,141 Z" fill="#fcc8f0"/>
<rect x="184" y="16.5" width="12" height="12" fill="#d0f8f8"/>
<rect x="181" y="23" width="9" height="1" fill="#ff80e0"/>
<rect x="187" y="28" width="13" height="1.2" fill="#ff90e8"/>
</g>
<text x="193.3" y="107.5" font-size="25" text-anchor="middle" fill="#111" stroke="#111" stroke-width="0.15">1</text>
<text x="480.9" y="107.5" font-size="25" text-anchor="middle" fill="#111" stroke="#111" stroke-width="0.15">2</text>
<text x="193.2" y="296.9" font-size="25" text-anchor="middle" fill="#111" stroke="#111" stroke-width="0.15">3</text>
<text x="480.0" y="296.9" font-size="25" text-anchor="middle" fill="#111" stroke="#111" stroke-width="0.15">4</text>
<text transform="translate(263.1,263.5) rotate(-90)" font-size="9" text-anchor="middle" fill="#222">Oscillator Strength (<tspan font-style="italic">f</tspan>)</text>

</svg>
</body></html>
